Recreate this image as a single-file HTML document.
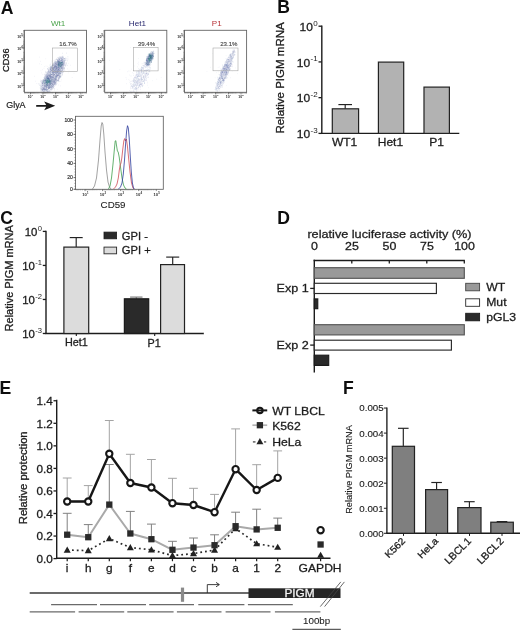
<!DOCTYPE html>
<html><head><meta charset="utf-8"><title>Figure</title>
<style>html,body{margin:0;padding:0;background:#fff;}body{width:520px;height:635px;overflow:hidden;font-family:"Liberation Sans",sans-serif;}svg text{font-family:"Liberation Sans",sans-serif;}</style>
</head><body>
<svg width="520" height="635" viewBox="0 0 520 635" font-family="Liberation Sans, sans-serif" style="display:block">
<defs><filter id="soft" x="0" y="0" width="520" height="635" filterUnits="userSpaceOnUse"><feGaussianBlur stdDeviation="0.38"/></filter></defs>
<g filter="url(#soft)">
<text x="0.7" y="14.1" font-size="17.6" text-anchor="start" fill="#0c0c0c" font-weight="bold" >A</text>
<text x="277.2" y="13.0" font-size="17.6" text-anchor="start" fill="#0c0c0c" font-weight="bold" >B</text>
<text x="0.2" y="223.5" font-size="17.6" text-anchor="start" fill="#0c0c0c" font-weight="bold" >C</text>
<text x="277.2" y="223.7" font-size="17.6" text-anchor="start" fill="#0c0c0c" font-weight="bold" >D</text>
<text x="-0.4" y="394.1" font-size="17.6" text-anchor="start" fill="#0c0c0c" font-weight="bold" >E</text>
<text x="342.9" y="394.1" font-size="17.6" text-anchor="start" fill="#0c0c0c" font-weight="bold" >F</text>
<clipPath id="c1"><rect x="24.799999999999997" y="30.7" width="61.300000000000004" height="61.2"/></clipPath>
<g clip-path="url(#c1)">
<path d="M55.1 70.5h0.5M59.5 61.2h0.5M59.5 64.4h0.5M41.4 86.5h0.5M58.0 80.3h0.5M61.7 65.0h0.5M49.1 74.7h0.5M51.5 80.2h0.5M55.2 78.9h0.5M45.6 90.2h0.5M58.3 72.3h0.5M43.4 81.3h0.5M52.9 82.8h0.5M54.7 71.1h0.5M47.1 81.0h0.5M50.7 66.5h0.5M56.7 66.8h0.5M60.7 66.9h0.5M49.5 68.6h0.5M51.9 78.2h0.5M45.9 88.5h0.5M41.4 88.9h0.5M47.8 80.1h0.5M53.2 68.6h0.5M63.2 72.2h0.5M49.6 78.7h0.5M46.6 76.9h0.5M51.6 85.4h0.5M61.7 67.9h0.5M55.7 65.9h0.5M57.9 68.8h0.5M45.7 81.8h0.5M46.9 82.0h0.5M44.8 82.1h0.5M57.7 63.3h0.5M61.0 58.8h0.5M59.7 75.9h0.5M48.8 76.1h0.5M50.6 69.4h0.5M47.3 85.2h0.5M47.3 76.9h0.5M59.9 64.6h0.5M47.2 89.5h0.5M49.1 86.3h0.5M49.5 72.5h0.5M55.8 81.2h0.5M56.6 64.5h0.5M44.3 77.0h0.5M49.7 74.8h0.5M57.8 62.8h0.5M46.7 85.5h0.5M46.2 86.7h0.5M59.1 65.4h0.5M62.4 65.0h0.5M50.6 70.3h0.5M52.4 76.0h0.5M51.1 74.8h0.5M46.6 91.6h0.5M60.1 71.1h0.5M64.8 64.2h0.5M59.6 58.0h0.5M48.3 74.1h0.5M55.5 73.6h0.5M54.6 79.4h0.5M59.9 72.2h0.5M53.4 80.5h0.5M41.8 85.5h0.5M47.1 92.4h0.5M52.7 63.7h0.5M61.1 64.8h0.5M61.9 62.3h0.5M51.8 73.4h0.5M52.8 69.6h0.5M45.3 80.5h0.5M59.7 76.9h0.5M42.8 85.9h0.5M56.3 71.7h0.5M46.5 85.4h0.5M48.7 85.2h0.5M58.8 68.5h0.5M50.4 74.1h0.5M56.6 65.1h0.5M60.0 69.6h0.5M54.8 64.0h0.5M63.6 62.1h0.5M46.5 75.3h0.5M52.8 65.8h0.5M44.3 89.5h0.5M51.3 67.8h0.5M58.1 62.0h0.5M43.8 87.7h0.5M40.1 88.8h0.5M53.9 72.6h0.5M56.4 82.2h0.5M49.5 75.5h0.5M47.4 76.1h0.5M43.5 80.8h0.5M42.3 81.7h0.5M55.0 76.7h0.5M56.4 62.2h0.5M50.6 77.5h0.5M53.1 81.2h0.5M60.1 73.5h0.5M48.3 75.0h0.5M61.5 62.0h0.5M42.7 90.6h0.5M58.9 74.6h0.5M57.9 60.2h0.5M52.2 75.6h0.5M46.9 89.6h0.5M44.7 83.4h0.5M50.6 79.8h0.5M61.1 65.4h0.5M48.2 88.6h0.5M42.4 85.1h0.5M43.8 90.6h0.5M55.7 68.8h0.5M51.6 82.7h0.5M43.0 90.0h0.5M51.8 80.9h0.5M54.6 67.8h0.5M56.5 64.3h0.5M47.5 86.2h0.5M60.3 73.0h0.5M46.5 90.7h0.5M52.3 73.7h0.5M50.7 87.7h0.5M57.2 62.4h0.5M51.0 68.7h0.5M57.6 71.7h0.5M48.9 81.4h0.5M54.9 63.6h0.5M59.0 59.6h0.5M58.6 70.2h0.5M61.6 66.8h0.5M45.3 89.1h0.5M42.4 92.0h0.5M55.4 77.5h0.5M57.2 60.2h0.5M59.5 76.1h0.5M46.9 76.9h0.5M50.3 73.8h0.5M55.3 71.9h0.5M58.4 68.0h0.5M39.9 87.9h0.5M55.8 72.7h0.5M53.7 75.2h0.5M53.5 69.2h0.5M50.9 79.7h0.5M51.5 81.2h0.5M53.8 72.8h0.5M48.8 85.4h0.5M62.0 74.5h0.5M47.1 90.2h0.5M49.7 81.4h0.5M52.2 71.2h0.5M52.3 67.3h0.5M61.7 73.8h0.5M44.8 95.7h0.5M56.6 66.3h0.5M53.6 75.5h0.5M58.7 74.2h0.5M47.2 92.6h0.5M57.1 63.1h0.5M53.9 84.3h0.5M42.0 90.6h0.5M58.9 76.0h0.5M62.5 68.7h0.5M52.9 77.0h0.5M48.5 85.1h0.5M50.2 74.1h0.5M50.3 82.5h0.5M50.1 69.1h0.5M53.9 72.5h0.5M61.4 66.4h0.5M50.4 76.1h0.5M55.8 78.4h0.5M51.0 85.6h0.5M57.2 70.8h0.5M46.2 82.3h0.5M53.8 66.2h0.5M53.3 81.4h0.5M46.8 76.8h0.5M52.2 72.0h0.5M50.7 81.4h0.5M54.9 80.1h0.5M59.3 70.3h0.5M55.6 67.9h0.5M54.5 88.8h0.5M43.5 80.4h0.5M49.7 81.6h0.5M53.2 67.4h0.5M53.1 80.9h0.5M53.2 67.8h0.5M55.9 66.0h0.5M53.1 65.8h0.5M53.3 82.1h0.5M54.4 80.9h0.5M48.0 88.6h0.5M50.1 70.6h0.5M42.1 82.8h0.5M54.1 76.5h0.5M44.7 92.4h0.5M58.9 77.5h0.5M51.4 68.5h0.5M54.1 67.3h0.5M52.4 84.8h0.5M59.2 61.2h0.5M45.7 87.3h0.5M51.4 80.9h0.5M64.7 58.5h0.5M53.1 87.8h0.5M53.5 68.3h0.5M47.7 75.5h0.5M54.5 71.1h0.5M62.7 60.9h0.5M50.1 69.5h0.5M43.5 89.2h0.5M58.4 62.1h0.5M50.5 73.9h0.5M46.3 85.9h0.5M46.9 79.5h0.5M59.0 62.5h0.5M56.9 71.0h0.5M60.7 74.2h0.5M49.3 86.4h0.5M54.3 81.6h0.5M49.3 80.2h0.5M42.6 86.0h0.5M43.7 79.7h0.5M60.1 63.6h0.5M53.9 68.5h0.5M60.3 73.2h0.5M56.9 71.1h0.5M51.1 67.1h0.5M59.4 76.0h0.5M55.4 78.8h0.5M53.9 84.2h0.5M59.9 76.4h0.5M48.0 77.4h0.5M61.0 72.0h0.5M54.3 67.2h0.5M41.8 90.6h0.5M48.1 69.7h0.5M54.8 69.4h0.5M56.3 64.7h0.5M45.7 82.4h0.5M44.4 76.9h0.5M58.2 79.7h0.5M52.8 83.8h0.5M43.5 91.8h0.5M52.7 78.0h0.5M46.6 87.3h0.5M49.2 84.1h0.5M51.4 78.4h0.5M49.1 88.0h0.5M57.9 74.7h0.5M45.0 76.6h0.5M58.9 76.2h0.5M59.1 72.5h0.5M60.0 76.7h0.5M48.5 81.7h0.5M55.6 71.4h0.5M45.7 79.9h0.5M54.2 80.9h0.5M54.3 79.7h0.5M44.3 80.7h0.5M50.3 71.8h0.5M63.1 67.4h0.5M42.6 82.5h0.5M60.4 63.4h0.5M55.3 71.1h0.5M56.8 75.2h0.5M47.6 91.5h0.5M48.2 86.6h0.5M53.8 79.5h0.5M53.2 69.4h0.5M62.7 57.9h0.5M56.7 73.6h0.5M64.2 65.1h0.5M55.7 76.6h0.5M50.0 92.7h0.5M59.9 63.3h0.5M52.4 78.0h0.5M44.1 86.0h0.5M58.2 73.5h0.5M55.9 79.9h0.5M49.2 85.2h0.5M50.7 80.6h0.5M49.5 79.7h0.5M57.5 71.7h0.5M47.1 83.3h0.5M50.8 76.2h0.5M55.0 71.7h0.5M45.1 88.9h0.5M55.2 70.2h0.5M48.2 86.8h0.5M54.0 71.0h0.5M50.2 75.3h0.5M50.7 90.3h0.5M61.5 64.2h0.5M54.5 80.4h0.5M53.7 74.7h0.5M49.1 91.5h0.5M51.5 74.7h0.5M45.7 85.5h0.5M45.5 85.6h0.5M49.6 67.2h0.5M51.2 66.4h0.5M49.6 72.3h0.5M47.7 73.9h0.5M50.0 88.7h0.5M55.8 84.4h0.5M44.8 88.2h0.5M59.6 72.8h0.5M56.1 71.5h0.5M57.6 73.6h0.5M45.0 79.3h0.5M56.1 66.2h0.5M43.0 81.6h0.5M49.5 75.5h0.5M62.9 63.7h0.5M52.1 83.8h0.5M43.6 83.2h0.5M47.6 85.6h0.5M54.1 82.3h0.5M55.2 69.3h0.5M55.4 76.4h0.5M43.5 79.9h0.5M47.8 85.6h0.5M61.0 58.7h0.5M59.7 63.7h0.5M51.0 76.5h0.5M53.2 68.9h0.5M51.9 74.3h0.5M61.6 62.6h0.5M52.9 76.6h0.5M44.3 91.6h0.5M49.8 84.4h0.5M57.7 75.7h0.5M65.2 58.2h0.5M44.0 85.2h0.5M59.8 60.0h0.5M43.0 91.1h0.5M54.0 77.9h0.5M61.8 70.5h0.5M60.2 58.2h0.5M54.7 68.0h0.5M62.3 64.9h0.5M52.2 68.6h0.5M46.5 77.0h0.5M53.1 77.3h0.5M44.5 87.7h0.5M51.8 88.0h0.5M51.5 85.4h0.5M50.0 79.5h0.5M51.6 69.2h0.5M53.5 80.3h0.5M66.2 63.6h0.5M56.0 64.0h0.5M53.6 78.7h0.5M60.2 75.0h0.5M53.1 64.9h0.5M45.8 90.7h0.5M53.0 64.4h0.5M56.8 68.2h0.5M57.4 73.0h0.5M49.5 75.5h0.5M49.9 87.4h0.5M49.6 87.3h0.5M51.7 82.9h0.5M44.7 88.7h0.5M49.3 74.3h0.5M53.5 75.2h0.5M49.0 88.5h0.5M57.2 74.9h0.5M60.4 70.0h0.5M64.9 60.6h0.5M55.5 67.8h0.5M51.8 87.3h0.5M43.7 92.0h0.5M57.6 74.9h0.5M47.3 87.1h0.5M66.0 53.2h0.5M46.1 84.5h0.5M57.0 80.7h0.5M48.6 89.3h0.5M57.8 71.1h0.5M45.9 75.2h0.5M61.8 62.9h0.5M61.5 64.0h0.5M55.0 63.2h0.5M45.1 80.7h0.5M47.2 91.7h0.5M47.0 78.2h0.5M43.3 92.5h0.5M54.6 82.4h0.5M58.2 71.1h0.5M50.1 85.1h0.5M48.2 68.1h0.5M61.5 67.6h0.5M60.8 65.4h0.5M53.5 67.5h0.5M47.7 80.5h0.5M64.4 68.1h0.5M53.9 78.0h0.5M55.0 61.7h0.5M51.6 87.6h0.5M52.7 71.2h0.5M45.7 83.4h0.5M61.5 68.1h0.5M58.2 80.5h0.5M48.3 92.2h0.5M60.2 73.0h0.5M55.6 65.8h0.5M53.1 69.4h0.5M50.5 69.3h0.5M58.5 61.7h0.5M51.3 86.0h0.5M56.9 70.9h0.5M55.3 64.0h0.5M51.7 61.1h0.5M55.2 83.8h0.5M58.0 78.3h0.5M54.2 63.0h0.5M53.7 88.6h0.5M55.1 74.0h0.5M56.0 79.3h0.5M48.0 75.4h0.5M46.7 79.1h0.5M58.7 73.6h0.5M64.2 68.2h0.5M48.2 87.5h0.5M49.7 84.2h0.5M60.6 64.7h0.5M63.2 64.5h0.5M52.1 64.7h0.5M49.7 82.2h0.5M58.4 66.0h0.5M50.1 71.7h0.5M48.8 80.3h0.5M45.2 78.1h0.5M50.1 73.9h0.5M62.2 68.5h0.5M44.3 93.0h0.5M60.5 77.5h0.5M50.1 81.0h0.5M56.2 73.8h0.5M55.3 65.9h0.5M52.5 65.7h0.5M45.8 83.1h0.5M47.3 82.6h0.5M58.4 63.2h0.5M48.4 77.7h0.5M46.6 93.5h0.5M54.2 84.2h0.5M47.0 80.2h0.5M45.7 78.5h0.5M52.1 68.1h0.5M59.1 62.2h0.5M47.5 77.8h0.5M54.7 66.9h0.5M46.6 90.7h0.5M48.3 71.8h0.5M62.3 65.4h0.5M52.3 72.3h0.5M63.0 65.8h0.5M59.6 71.0h0.5M49.7 79.3h0.5M46.7 86.6h0.5M49.1 78.6h0.5M58.6 71.1h0.5M48.8 70.2h0.5M49.3 86.9h0.5M49.9 71.5h0.5M54.9 70.8h0.5M57.2 72.4h0.5M53.8 75.5h0.5M53.4 71.9h0.5M53.9 78.0h0.5M52.8 84.0h0.5M50.1 87.0h0.5M58.1 69.4h0.5M54.4 80.2h0.5M62.8 71.2h0.5M51.8 66.5h0.5M44.3 83.4h0.5M61.7 65.1h0.5M54.0 68.3h0.5M41.8 84.4h0.5M55.7 84.5h0.5M44.8 89.7h0.5M57.9 61.7h0.5M56.8 69.9h0.5M56.6 77.0h0.5M64.0 62.5h0.5M54.5 71.1h0.5M54.2 81.9h0.5M53.6 63.9h0.5M51.3 84.1h0.5M49.7 65.1h0.5M49.1 87.2h0.5M48.2 87.7h0.5M45.0 91.8h0.5M51.2 77.7h0.5M44.3 92.1h0.5M55.1 77.5h0.5M61.6 65.8h0.5M61.3 64.8h0.5M46.4 79.8h0.5M53.7 72.2h0.5M55.1 65.4h0.5M45.2 83.6h0.5M62.5 57.7h0.5M40.2 91.1h0.5M42.5 84.9h0.5M57.0 64.5h0.5M40.2 85.8h0.5M58.9 74.0h0.5M48.7 78.7h0.5M54.2 82.7h0.5M50.3 71.8h0.5M51.6 77.3h0.5M58.4 61.6h0.5M44.6 74.7h0.5M44.6 81.9h0.5M63.1 68.2h0.5M61.3 59.9h0.5M61.9 72.1h0.5M50.8 69.8h0.5M54.2 64.2h0.5M56.5 75.9h0.5M59.0 68.3h0.5M60.5 66.4h0.5M56.5 74.5h0.5M54.4 74.8h0.5M58.2 71.9h0.5M57.8 62.1h0.5M59.2 67.6h0.5M54.3 82.7h0.5M60.1 71.7h0.5M50.0 68.4h0.5M63.1 63.3h0.5M49.9 80.2h0.5M48.6 80.6h0.5M53.8 84.4h0.5M55.1 83.8h0.5M52.3 72.0h0.5M42.4 83.8h0.5M53.3 74.0h0.5M56.7 68.8h0.5M57.0 69.8h0.5M59.6 66.6h0.5M54.1 67.9h0.5M43.1 80.7h0.5M54.2 84.2h0.5M49.8 81.1h0.5M53.2 81.7h0.5M53.4 75.6h0.5M51.3 76.5h0.5M49.8 85.8h0.5M46.8 74.7h0.5M49.0 85.6h0.5M52.8 69.0h0.5M55.3 70.2h0.5M54.2 65.5h0.5M49.9 83.5h0.5M56.0 68.0h0.5M43.7 89.9h0.5M46.5 81.0h0.5M58.7 67.9h0.5M54.8 68.8h0.5M43.8 77.7h0.5M51.0 71.8h0.5M64.3 62.7h0.5M59.6 70.4h0.5M57.6 69.8h0.5M45.1 74.5h0.5M53.9 65.3h0.5M43.9 82.4h0.5M49.1 76.6h0.5M52.5 65.2h0.5M57.4 63.4h0.5M50.5 83.4h0.5M47.1 86.3h0.5M61.2 67.7h0.5M48.8 84.7h0.5M51.4 89.8h0.5M62.2 67.6h0.5M63.5 67.1h0.5M58.1 74.6h0.5M45.9 90.1h0.5M47.7 77.7h0.5M55.2 79.0h0.5M51.7 67.6h0.5M39.1 85.4h0.5M48.1 78.7h0.5M52.0 74.3h0.5M52.9 77.9h0.5M58.5 64.3h0.5M64.8 60.6h0.5M57.3 67.9h0.5M45.5 80.7h0.5M55.3 65.1h0.5M51.1 89.3h0.5M47.3 80.5h0.5M53.1 74.1h0.5M47.7 87.7h0.5M46.2 84.9h0.5M55.5 67.3h0.5M55.3 64.2h0.5M51.1 88.4h0.5M56.1 73.0h0.5M46.5 90.0h0.5M47.8 93.0h0.5M52.1 65.4h0.5M52.9 75.6h0.5M43.3 89.6h0.5M51.8 74.5h0.5M61.4 60.5h0.5M44.7 88.5h0.5M48.8 88.6h0.5M45.7 92.4h0.5M49.7 79.9h0.5M52.4 67.6h0.5M55.7 75.6h0.5M61.1 59.4h0.5M53.1 73.0h0.5M58.9 73.4h0.5M63.6 60.9h0.5M56.9 69.3h0.5M56.8 61.5h0.5M59.6 63.9h0.5M59.3 76.6h0.5M42.4 80.2h0.5M57.7 65.0h0.5M57.2 71.1h0.5M47.7 84.7h0.5M46.8 77.6h0.5M50.5 75.7h0.5M51.0 86.2h0.5M49.6 80.6h0.5M53.3 72.6h0.5M61.7 60.1h0.5M44.8 89.8h0.5M49.5 74.2h0.5M47.3 78.3h0.5M41.7 90.7h0.5M45.4 89.6h0.5M52.0 68.5h0.5M45.5 79.6h0.5M49.9 68.3h0.5M52.5 75.9h0.5M65.3 59.3h0.5M48.7 88.0h0.5M51.0 81.6h0.5M61.8 62.5h0.5M50.2 76.4h0.5M50.4 70.0h0.5M43.6 88.4h0.5M48.8 75.8h0.5M53.2 87.4h0.5M46.4 75.9h0.5M48.3 82.6h0.5M58.1 68.3h0.5M50.5 75.7h0.5M42.6 89.3h0.5M48.7 82.9h0.5M54.1 83.2h0.5M57.9 62.0h0.5M56.7 83.3h0.5M49.2 80.9h0.5M58.5 69.6h0.5M59.5 70.6h0.5M58.1 75.1h0.5M54.1 68.7h0.5M55.2 79.2h0.5M57.1 59.8h0.5M47.4 85.5h0.5M47.2 85.9h0.5M56.5 76.1h0.5M51.9 82.2h0.5M57.4 80.3h0.5M46.6 77.1h0.5M51.8 86.6h0.5M60.2 58.3h0.5M59.0 66.8h0.5M57.7 67.4h0.5M43.6 90.2h0.5M49.4 71.6h0.5M54.1 74.5h0.5M43.7 86.2h0.5M54.4 66.7h0.5M46.8 76.2h0.5M57.4 63.8h0.5M45.5 94.4h0.5M46.6 92.9h0.5M64.9 65.6h0.5M57.8 75.8h0.5M54.3 67.5h0.5M50.1 77.6h0.5M48.2 69.9h0.5M56.4 74.5h0.5M55.4 83.3h0.5M59.7 66.8h0.5M44.4 90.3h0.5M58.9 72.3h0.5M51.6 80.9h0.5M44.7 84.2h0.5M53.7 72.9h0.5M55.0 65.9h0.5M43.0 82.8h0.5M55.6 71.5h0.5M47.3 68.7h0.5M43.1 92.2h0.5M51.6 83.6h0.5M58.3 58.8h0.5M52.2 80.9h0.5M51.8 69.5h0.5M50.6 67.4h0.5M51.1 82.6h0.5M41.9 88.3h0.5M50.4 76.3h0.5M53.2 85.0h0.5M50.1 89.1h0.5M49.3 75.6h0.5M47.0 77.9h0.5M47.5 74.1h0.5M50.2 87.3h0.5M55.9 76.6h0.5M49.3 86.4h0.5M62.2 57.2h0.5M47.8 81.9h0.5M43.8 78.7h0.5M54.1 78.3h0.5M50.9 70.1h0.5M57.3 61.1h0.5M55.3 61.6h0.5M51.4 86.9h0.5M58.8 75.6h0.5M42.4 86.2h0.5M42.7 87.4h0.5M62.8 70.6h0.5M57.8 67.5h0.5M57.9 58.4h0.5M51.7 66.4h0.5M50.1 82.8h0.5M57.2 70.5h0.5M43.9 88.7h0.5M46.6 91.0h0.5M50.7 76.9h0.5M56.2 80.7h0.5M52.6 78.3h0.5M46.6 79.9h0.5M46.8 74.3h0.5M57.6 75.8h0.5M51.4 80.9h0.5M51.9 74.5h0.5M43.2 84.4h0.5M62.3 69.2h0.5M52.7 85.4h0.5M46.7 77.9h0.5M61.0 64.3h0.5M57.9 62.0h0.5M47.4 72.2h0.5M53.2 84.1h0.5M67.7 59.0h0.5M52.5 70.1h0.5M58.5 69.5h0.5M46.5 82.1h0.5M50.4 68.5h0.5M65.9 58.4h0.5M53.3 65.9h0.5M62.4 60.0h0.5M55.9 69.3h0.5M46.3 86.7h0.5M44.7 83.7h0.5M53.9 66.7h0.5M56.7 68.4h0.5M61.7 70.7h0.5M61.0 65.6h0.5M55.2 64.5h0.5M58.4 79.4h0.5M46.0 87.4h0.5M50.0 66.8h0.5M51.7 68.6h0.5M41.1 91.9h0.5M58.6 65.3h0.5M60.1 58.2h0.5M56.6 75.8h0.5M54.1 70.7h0.5M39.4 93.7h0.5M59.1 72.9h0.5M51.9 78.8h0.5M52.1 87.8h0.5M54.7 61.3h0.5M56.7 59.6h0.5M59.7 78.1h0.5M50.5 91.5h0.5M59.5 65.5h0.5M57.3 68.8h0.5M53.3 77.6h0.5M59.5 69.6h0.5M54.2 66.9h0.5M60.0 62.4h0.5M52.8 76.0h0.5M63.7 61.4h0.5M60.0 76.1h0.5M45.4 78.8h0.5M52.6 80.6h0.5M50.1 77.5h0.5M51.6 88.9h0.5M51.5 87.9h0.5M56.4 77.3h0.5M53.6 67.4h0.5M52.9 77.6h0.5M65.3 60.1h0.5M43.4 79.8h0.5M42.3 81.7h0.5M56.0 83.7h0.5M55.0 65.1h0.5M64.3 59.4h0.5M56.9 67.5h0.5M43.8 89.0h0.5M59.2 67.6h0.5M52.9 84.0h0.5M41.9 80.7h0.5M56.2 64.0h0.5M42.0 89.6h0.5M53.8 64.8h0.5M46.4 81.2h0.5M54.7 77.9h0.5M53.3 74.7h0.5M42.0 87.2h0.5M43.9 91.8h0.5M50.2 81.1h0.5M60.9 65.5h0.5M40.8 87.1h0.5M55.8 66.6h0.5M40.1 81.8h0.5M65.2 62.9h0.5M45.2 89.5h0.5M50.6 68.9h0.5M53.2 71.9h0.5M54.8 82.9h0.5M44.4 92.3h0.5M48.0 78.7h0.5M54.2 76.6h0.5M54.8 72.9h0.5M52.9 70.5h0.5M54.4 78.7h0.5M44.7 92.3h0.5M44.7 84.7h0.5M60.8 62.5h0.5M58.1 65.3h0.5M56.9 74.6h0.5M47.3 73.4h0.5M54.4 62.4h0.5M56.9 72.1h0.5M46.2 78.8h0.5M48.4 88.0h0.5M55.8 83.2h0.5M51.4 84.1h0.5M45.0 82.8h0.5M46.9 72.4h0.5M55.5 68.9h0.5M54.6 81.5h0.5M41.1 86.5h0.5M48.9 81.7h0.5M61.3 71.9h0.5M51.8 80.9h0.5M61.8 66.9h0.5M41.6 92.3h0.5M60.0 70.7h0.5M54.4 79.1h0.5M47.0 81.0h0.5M61.6 65.5h0.5M63.9 60.5h0.5M49.4 73.4h0.5M55.3 62.9h0.5M49.7 87.9h0.5M48.8 81.5h0.5M57.4 80.2h0.5M47.0 78.6h0.5M59.9 68.4h0.5M57.5 80.1h0.5M54.1 79.9h0.5M54.7 77.6h0.5M55.1 67.9h0.5M57.5 61.1h0.5M49.3 79.8h0.5M60.7 66.3h0.5M53.9 81.0h0.5M55.1 66.1h0.5M48.8 80.7h0.5M58.0 61.8h0.5M53.8 84.8h0.5M47.7 79.3h0.5M58.5 73.0h0.5M55.2 63.8h0.5M60.1 60.6h0.5M50.7 77.2h0.5M42.5 89.1h0.5M59.0 58.7h0.5M59.0 77.5h0.5M54.5 67.0h0.5M62.2 64.4h0.5M50.0 89.4h0.5M48.0 76.9h0.5M50.2 72.2h0.5M50.8 85.7h0.5M50.2 68.4h0.5M42.2 85.5h0.5M42.9 93.6h0.5M53.4 80.1h0.5M45.2 82.2h0.5M61.1 60.6h0.5M48.3 73.1h0.5M57.9 69.7h0.5M64.3 68.2h0.5M58.0 64.4h0.5M54.8 78.9h0.5M59.4 62.0h0.5M57.3 75.5h0.5M55.8 75.6h0.5M59.9 61.3h0.5M43.8 80.1h0.5M55.7 65.1h0.5M56.6 66.7h0.5M60.1 66.5h0.5M58.4 74.2h0.5M58.5 71.3h0.5M54.0 78.9h0.5M60.6 72.4h0.5M55.3 77.5h0.5M52.8 77.9h0.5M62.5 69.0h0.5M52.7 87.0h0.5M51.0 71.3h0.5M49.1 76.6h0.5M62.3 64.5h0.5M56.4 81.3h0.5M51.3 83.4h0.5M58.2 62.1h0.5M48.5 84.1h0.5M47.5 84.0h0.5M57.8 75.5h0.5M62.0 62.7h0.5M46.2 89.7h0.5M48.8 86.9h0.5M53.6 69.3h0.5M46.7 76.2h0.5M43.7 93.6h0.5M62.4 61.5h0.5M54.3 67.0h0.5M58.8 76.0h0.5M50.2 81.2h0.5M45.4 86.5h0.5M39.9 93.0h0.5M47.1 81.2h0.5M54.8 62.6h0.5M59.0 75.9h0.5M58.7 63.6h0.5M48.4 86.8h0.5M53.3 71.2h0.5M47.8 76.0h0.5M43.8 80.2h0.5M57.8 74.1h0.5M54.3 66.0h0.5M59.0 69.1h0.5M54.1 83.7h0.5M66.2 62.7h0.5M55.1 80.1h0.5M53.1 70.6h0.5M53.3 70.1h0.5M52.6 72.7h0.5M55.4 74.1h0.5M44.3 88.9h0.5M44.7 80.9h0.5M58.1 62.9h0.5M49.0 84.3h0.5M47.0 81.5h0.5M51.5 87.5h0.5M52.7 64.8h0.5M53.9 70.6h0.5M62.2 53.3h0.5M56.9 65.0h0.5M53.6 74.7h0.5M46.8 74.2h0.5M48.6 85.0h0.5M56.8 63.8h0.5M47.8 90.0h0.5M63.8 64.2h0.5M50.4 78.8h0.5M63.4 63.5h0.5M53.2 76.4h0.5M61.9 58.6h0.5M59.6 63.1h0.5M47.7 76.4h0.5M51.8 77.5h0.5M56.0 70.2h0.5M53.1 83.6h0.5M55.3 80.5h0.5M44.2 86.8h0.5M46.4 84.8h0.5M46.4 77.3h0.5M50.6 76.3h0.5M44.3 83.7h0.5M39.7 84.5h0.5M58.1 70.8h0.5M64.3 60.5h0.5M53.5 79.6h0.5M41.6 83.1h0.5M60.4 64.7h0.5M49.6 77.3h0.5M48.0 72.3h0.5M52.4 65.3h0.5M48.7 80.3h0.5M49.7 80.8h0.5M51.4 83.8h0.5M51.6 69.0h0.5M53.8 64.7h0.5M43.7 88.6h0.5M51.0 70.5h0.5M51.7 78.0h0.5M51.0 68.0h0.5M50.7 68.2h0.5M55.4 66.4h0.5M44.3 85.8h0.5M58.8 60.3h0.5M55.0 69.1h0.5M53.9 81.2h0.5M63.1 71.7h0.5M49.4 76.0h0.5M51.2 81.1h0.5M53.8 70.5h0.5M61.6 61.1h0.5M56.3 74.1h0.5M56.6 72.8h0.5M62.1 64.2h0.5M64.0 58.6h0.5M63.0 58.2h0.5M59.7 67.9h0.5M61.7 62.3h0.5M50.8 81.6h0.5M46.3 86.7h0.5M54.4 80.2h0.5M44.8 89.6h0.5M58.4 69.6h0.5M56.8 67.8h0.5M58.0 80.9h0.5M50.3 72.8h0.5M54.8 82.0h0.5M60.6 60.7h0.5M57.4 75.4h0.5M58.8 66.7h0.5M53.2 85.5h0.5M54.8 73.0h0.5M54.5 72.7h0.5M61.2 60.0h0.5M56.4 77.8h0.5M56.2 71.1h0.5M51.9 70.1h0.5M59.1 58.9h0.5M60.7 57.0h0.5M54.5 65.4h0.5M46.9 85.3h0.5M61.1 71.8h0.5M49.3 84.0h0.5M62.4 70.0h0.5M50.3 75.3h0.5M42.0 82.8h0.5M46.4 89.8h0.5M50.1 69.6h0.5M47.0 78.4h0.5M58.8 72.4h0.5M50.1 86.2h0.5M46.0 77.5h0.5M45.2 90.9h0.5M52.2 72.6h0.5M57.8 65.3h0.5M61.5 58.7h0.5M46.6 86.2h0.5M47.7 91.5h0.5M43.3 87.6h0.5M47.2 78.7h0.5M59.4 63.0h0.5M45.0 81.3h0.5M50.4 69.8h0.5M59.5 62.2h0.5M40.6 85.9h0.5M52.7 70.6h0.5M45.1 93.4h0.5M46.3 89.2h0.5M50.4 87.6h0.5M57.5 72.6h0.5M59.5 78.1h0.5M61.3 57.6h0.5M55.5 82.3h0.5M56.5 77.0h0.5M45.7 75.5h0.5M51.1 77.2h0.5M51.8 79.0h0.5M52.5 84.6h0.5M60.5 71.5h0.5M53.8 74.4h0.5M56.9 70.2h0.5M53.7 77.7h0.5M47.6 84.1h0.5M48.6 83.2h0.5M49.1 76.7h0.5M54.0 69.9h0.5M45.6 86.3h0.5M53.5 79.0h0.5M60.9 57.6h0.5M58.6 72.9h0.5M49.0 78.6h0.5M58.7 74.0h0.5M43.9 86.1h0.5M59.0 63.9h0.5M53.7 74.9h0.5M54.7 66.4h0.5M62.1 69.3h0.5M48.1 71.0h0.5M50.3 86.6h0.5M44.5 89.4h0.5M50.4 84.6h0.5M55.7 67.3h0.5M49.9 80.5h0.5M43.1 85.7h0.5M43.3 89.2h0.5M49.1 84.6h0.5M55.2 76.2h0.5M53.2 82.6h0.5M52.2 65.3h0.5M48.6 83.3h0.5M50.9 79.6h0.5M46.7 78.2h0.5M56.0 67.5h0.5M59.1 77.4h0.5M53.6 65.8h0.5M52.8 68.7h0.5M58.5 77.8h0.5M63.3 69.8h0.5M55.2 70.3h0.5M55.6 79.6h0.5M59.2 67.4h0.5M55.8 73.4h0.5M53.9 81.3h0.5M62.5 61.8h0.5M51.5 82.9h0.5M41.1 89.8h0.5M49.8 70.4h0.5M53.5 69.5h0.5M55.1 61.3h0.5M58.8 60.1h0.5M48.4 88.5h0.5M49.2 67.9h0.5M46.1 81.2h0.5M59.4 66.1h0.5M59.7 73.6h0.5M54.0 75.5h0.5M58.0 75.6h0.5M55.6 75.6h0.5M53.2 79.7h0.5M60.8 73.8h0.5M53.7 76.0h0.5M55.7 76.1h0.5M42.0 83.3h0.5M55.5 82.2h0.5M58.5 70.6h0.5M57.7 60.1h0.5M50.5 83.7h0.5M56.3 68.8h0.5M47.0 78.8h0.5M55.4 75.3h0.5M61.7 68.1h0.5M54.2 62.8h0.5M55.5 81.9h0.5M63.7 61.3h0.5M49.9 77.2h0.5M59.4 65.2h0.5M64.4 61.9h0.5M48.1 72.0h0.5M55.0 80.0h0.5M48.3 72.1h0.5M46.1 83.0h0.5M60.8 65.6h0.5M54.0 72.4h0.5M53.4 85.5h0.5M48.9 75.9h0.5M41.5 84.1h0.5M52.5 76.7h0.5M55.2 62.4h0.5M62.2 63.8h0.5M53.3 77.2h0.5M57.6 62.1h0.5M61.8 73.5h0.5M46.9 91.5h0.5M53.3 67.2h0.5M58.7 79.9h0.5M54.9 82.5h0.5M57.6 76.1h0.5M46.2 74.2h0.5M45.9 86.5h0.5M49.9 83.6h0.5M56.6 59.2h0.5M48.0 78.2h0.5M59.0 70.3h0.5M59.4 62.0h0.5M43.8 80.4h0.5M52.5 71.0h0.5M50.4 78.6h0.5M59.0 63.5h0.5M50.8 87.6h0.5M45.1 93.2h0.5M46.9 84.1h0.5M54.1 85.7h0.5M44.0 89.4h0.5M58.0 61.3h0.5M48.9 73.2h0.5M59.8 74.1h0.5M49.9 71.1h0.5M60.2 67.2h0.5M57.8 73.0h0.5M48.5 91.2h0.5M42.4 83.7h0.5M63.6 68.3h0.5M48.8 80.1h0.5M47.2 82.1h0.5M59.6 58.8h0.5M53.1 85.3h0.5M55.3 69.8h0.5M55.8 81.2h0.5M53.8 63.6h0.5M44.1 80.7h0.5M44.7 81.8h0.5M51.1 80.7h0.5M58.6 69.9h0.5M51.3 78.9h0.5M49.7 82.2h0.5M50.4 78.1h0.5M64.1 61.1h0.5M42.5 94.8h0.5M55.0 66.2h0.5M54.3 64.2h0.5M50.4 81.2h0.5M48.1 82.9h0.5M55.6 63.4h0.5M59.7 63.5h0.5M55.2 76.8h0.5M43.1 88.3h0.5M44.4 85.8h0.5M45.4 85.5h0.5M56.4 79.3h0.5M48.5 70.7h0.5M49.2 79.5h0.5M47.3 83.1h0.5M63.5 66.0h0.5M49.8 69.8h0.5M50.5 87.3h0.5M50.1 77.7h0.5M49.2 84.9h0.5M63.0 59.2h0.5M54.2 64.9h0.5M43.3 88.7h0.5M55.5 73.4h0.5M51.0 79.6h0.5M57.0 74.6h0.5M57.9 58.4h0.5M49.1 83.0h0.5M56.6 74.5h0.5M52.7 70.3h0.5M43.7 80.8h0.5M58.6 78.0h0.5M42.0 85.4h0.5M55.4 74.8h0.5M52.0 74.4h0.5M46.6 92.1h0.5M52.1 72.2h0.5M62.1 65.5h0.5M55.0 82.2h0.5M49.4 82.9h0.5M54.9 67.0h0.5M64.5 63.6h0.5M54.3 72.9h0.5M64.1 58.5h0.5M54.7 75.0h0.5M48.9 81.7h0.5M44.7 86.7h0.5M49.7 81.2h0.5M63.9 67.4h0.5M46.8 77.3h0.5M51.1 74.4h0.5M48.4 77.8h0.5M57.3 61.1h0.5M49.1 91.4h0.5M51.1 83.1h0.5M55.7 79.4h0.5M51.6 70.0h0.5M64.1 65.3h0.5M57.8 62.2h0.5M56.8 66.2h0.5M44.6 88.0h0.5M47.2 89.5h0.5M46.7 90.8h0.5M52.0 68.8h0.5M60.5 59.3h0.5M56.6 74.5h0.5M50.2 67.6h0.5M52.7 63.4h0.5M49.2 87.6h0.5M47.6 90.8h0.5M55.3 71.6h0.5M57.5 81.1h0.5M42.1 90.7h0.5M46.1 84.6h0.5M46.9 75.8h0.5M51.8 71.9h0.5M51.6 85.1h0.5M54.4 78.8h0.5M59.6 74.8h0.5M50.1 82.2h0.5M61.8 70.6h0.5M47.5 79.3h0.5M63.0 65.0h0.5M51.2 76.5h0.5M57.0 71.1h0.5M51.9 71.9h0.5M53.0 68.3h0.5M40.9 87.2h0.5M53.5 74.2h0.5M51.8 86.2h0.5M51.5 78.9h0.5M57.6 75.2h0.5M47.2 82.3h0.5M49.8 83.3h0.5M58.5 64.7h0.5M45.6 83.7h0.5M57.0 68.6h0.5M60.4 72.8h0.5M47.9 77.5h0.5M53.6 63.9h0.5M48.2 80.2h0.5M61.1 58.4h0.5M53.3 70.2h0.5M47.7 71.8h0.5M50.6 76.5h0.5M52.6 76.9h0.5M56.2 70.6h0.5M43.7 87.8h0.5M47.8 77.4h0.5M54.1 68.1h0.5M44.1 84.7h0.5M51.5 78.9h0.5M61.0 66.8h0.5M47.9 87.9h0.5M56.0 69.1h0.5M41.2 89.3h0.5M49.0 72.5h0.5M56.8 65.7h0.5M58.7 77.8h0.5M57.9 80.5h0.5M49.7 73.5h0.5M56.8 69.7h0.5M53.6 87.0h0.5M51.2 70.0h0.5M51.7 65.9h0.5M58.6 73.2h0.5M62.9 58.2h0.5M57.5 65.5h0.5M43.4 91.6h0.5M44.3 90.2h0.5M50.3 77.0h0.5M49.0 70.2h0.5M51.9 86.3h0.5M45.6 86.1h0.5M50.3 71.1h0.5M52.4 77.6h0.5M41.9 89.5h0.5M52.6 83.8h0.5M55.4 69.2h0.5M58.4 67.9h0.5M48.7 74.6h0.5M46.4 85.9h0.5M47.7 79.3h0.5M57.6 75.7h0.5M54.6 71.5h0.5M49.0 82.9h0.5M47.1 76.1h0.5M61.8 65.7h0.5M55.1 81.5h0.5M57.1 61.2h0.5M61.3 62.0h0.5M51.9 84.0h0.5M58.6 74.3h0.5M53.0 85.9h0.5M44.7 82.7h0.5M53.7 68.8h0.5M49.4 80.5h0.5M53.8 72.2h0.5M50.2 76.0h0.5M58.9 60.2h0.5M60.6 71.2h0.5M53.2 73.2h0.5M47.1 72.1h0.5M57.7 63.9h0.5M61.5 63.3h0.5M55.9 72.4h0.5M61.5 61.1h0.5M55.7 70.7h0.5M54.8 76.5h0.5M44.6 85.5h0.5M48.6 89.0h0.5M61.5 68.6h0.5M48.3 71.6h0.5M54.4 74.4h0.5M61.9 58.8h0.5M54.0 81.5h0.5M62.7 62.1h0.5M61.1 71.8h0.5M61.9 62.1h0.5M59.7 76.6h0.5M42.0 81.6h0.5M52.2 80.3h0.5M62.3 60.1h0.5M52.9 86.5h0.5M52.5 86.9h0.5M58.0 81.6h0.5M48.0 73.8h0.5M54.0 74.7h0.5M42.4 89.7h0.5M58.1 67.6h0.5M44.7 92.8h0.5M51.8 74.3h0.5M52.9 81.9h0.5M63.1 65.1h0.5M48.4 81.4h0.5M57.9 65.7h0.5M49.8 75.6h0.5M44.2 93.5h0.5M40.0 89.6h0.5M52.2 85.7h0.5M50.3 85.1h0.5M52.0 65.6h0.5M54.5 67.5h0.5M43.7 88.7h0.5M51.2 74.7h0.5M52.6 65.5h0.5M47.2 81.0h0.5M53.4 74.0h0.5M41.3 88.1h0.5M47.4 83.3h0.5M46.3 74.2h0.5M43.8 83.8h0.5M55.6 65.0h0.5M49.7 69.3h0.5M41.9 91.4h0.5M48.9 76.4h0.5M56.8 59.9h0.5M49.3 85.4h0.5M52.8 78.9h0.5M52.9 65.0h0.5M56.1 72.1h0.5M44.1 89.0h0.5M60.9 64.6h0.5M48.4 76.2h0.5M58.5 59.7h0.5M58.5 63.5h0.5M50.9 86.2h0.5M53.2 71.1h0.5M46.0 80.2h0.5M60.7 76.4h0.5M56.9 70.2h0.5M43.1 85.8h0.5M52.2 86.8h0.5M54.4 67.2h0.5M58.9 59.7h0.5M43.0 87.7h0.5M48.7 79.5h0.5M61.2 68.7h0.5M52.9 86.5h0.5M50.9 66.9h0.5M49.6 81.2h0.5M53.8 81.9h0.5M45.4 86.6h0.5M44.7 89.5h0.5M48.0 85.8h0.5M50.0 81.5h0.5M52.0 76.7h0.5M56.2 67.5h0.5M54.5 66.4h0.5M44.8 86.9h0.5M63.1 61.3h0.5M53.6 71.4h0.5M45.7 81.0h0.5M65.8 64.3h0.5M56.2 58.9h0.5M49.3 81.1h0.5M60.0 77.0h0.5M51.9 72.5h0.5M56.9 80.6h0.5M52.6 70.2h0.5M44.2 83.5h0.5M53.3 85.1h0.5M54.1 82.3h0.5M54.9 78.0h0.5M60.2 70.7h0.5M56.1 76.9h0.5M51.9 85.5h0.5M55.7 80.0h0.5M48.3 88.5h0.5M53.0 81.2h0.5M52.4 68.1h0.5M41.0 92.3h0.5M58.6 72.7h0.5M43.3 88.3h0.5M57.2 78.6h0.5M47.3 74.8h0.5M47.8 86.9h0.5M55.5 69.2h0.5M60.3 67.2h0.5M57.1 73.2h0.5M46.3 75.7h0.5M60.8 76.9h0.5M62.4 62.7h0.5M42.9 89.0h0.5M54.5 70.1h0.5M51.4 78.6h0.5M48.4 82.9h0.5M60.0 63.3h0.5M51.6 72.6h0.5M56.4 69.3h0.5M63.6 60.2h0.5M58.6 73.4h0.5M54.7 74.8h0.5M52.5 67.0h0.5M60.2 61.2h0.5M56.4 66.8h0.5M55.8 75.4h0.5M52.8 83.2h0.5M50.1 76.6h0.5M58.3 78.4h0.5M57.8 59.9h0.5M51.8 79.4h0.5M57.5 77.5h0.5M61.1 71.8h0.5M59.5 61.8h0.5M57.0 72.4h0.5M54.9 71.6h0.5M61.1 67.1h0.5M52.4 73.4h0.5M54.3 83.7h0.5M56.1 66.2h0.5M56.9 64.7h0.5M59.1 58.4h0.5M55.2 78.5h0.5M62.0 64.0h0.5M60.7 60.4h0.5M48.9 79.6h0.5M61.3 75.5h0.5M45.5 89.8h0.5M54.9 69.2h0.5M60.4 67.1h0.5M46.7 81.8h0.5M63.6 58.5h0.5M48.9 91.2h0.5M42.5 81.1h0.5M47.8 91.8h0.5M45.4 72.8h0.5M48.6 87.2h0.5M42.2 89.6h0.5M51.0 83.6h0.5M42.0 95.8h0.5M48.8 87.6h0.5M56.3 77.1h0.5M56.1 73.2h0.5M44.4 78.8h0.5M58.6 73.7h0.5M61.4 62.6h0.5M54.9 71.2h0.5M58.9 72.0h0.5M59.9 68.3h0.5M42.0 87.5h0.5M50.3 83.7h0.5M44.7 74.2h0.5M41.8 89.4h0.5M49.2 80.0h0.5M44.4 80.2h0.5M60.2 71.3h0.5M50.8 73.4h0.5M50.7 82.8h0.5M47.9 75.3h0.5M51.6 77.3h0.5M62.5 65.9h0.5M57.0 76.5h0.5M50.3 84.4h0.5M63.3 57.5h0.5M38.8 95.5h0.5M60.9 66.4h0.5M47.0 84.7h0.5M59.7 62.6h0.5M56.4 64.1h0.5M42.8 82.8h0.5M59.8 66.9h0.5M50.3 82.8h0.5M52.9 77.1h0.5M56.2 74.9h0.5M53.2 71.1h0.5M51.4 87.4h0.5M56.1 78.7h0.5M48.5 71.0h0.5M64.6 70.5h0.5M44.1 78.8h0.5M54.6 82.9h0.5M50.2 78.4h0.5M50.3 83.6h0.5M55.8 62.6h0.5M59.8 75.2h0.5M55.6 65.6h0.5M59.8 67.6h0.5M59.2 66.8h0.5M58.1 66.0h0.5M49.4 88.0h0.5M44.3 88.3h0.5M63.7 66.6h0.5M58.2 62.2h0.5M51.4 78.2h0.5M51.3 72.4h0.5M44.5 81.8h0.5M60.3 73.6h0.5M48.4 79.1h0.5M59.3 78.6h0.5M42.5 82.3h0.5M49.4 80.8h0.5M63.5 62.3h0.5M53.4 84.3h0.5M60.3 70.1h0.5M54.6 83.3h0.5M50.2 67.8h0.5M61.6 60.8h0.5M60.4 75.4h0.5M53.2 69.1h0.5M59.7 70.2h0.5M56.3 82.5h0.5M52.3 82.6h0.5M46.6 78.7h0.5M57.2 67.0h0.5M49.6 81.5h0.5M45.7 84.5h0.5M55.9 68.6h0.5M47.3 76.3h0.5M52.7 84.1h0.5M51.3 70.8h0.5M52.4 84.2h0.5M59.2 70.9h0.5M54.9 78.9h0.5M49.7 90.7h0.5M46.2 87.0h0.5M55.5 83.1h0.5M51.1 72.4h0.5M48.0 91.2h0.5M56.2 67.6h0.5M57.2 63.7h0.5M52.0 68.9h0.5M60.2 62.5h0.5M57.1 77.3h0.5M56.1 72.9h0.5M51.2 88.4h0.5M40.5 88.4h0.5M56.5 76.4h0.5M45.8 72.7h0.5M45.8 82.7h0.5M63.9 69.6h0.5M53.2 75.3h0.5M43.3 89.7h0.5M55.6 61.1h0.5M58.7 69.3h0.5M47.7 69.0h0.5M43.1 89.3h0.5M58.0 63.7h0.5M51.6 74.7h0.5M63.7 63.7h0.5M57.9 66.3h0.5M45.1 85.8h0.5M55.8 67.1h0.5M52.0 77.8h0.5M56.1 71.1h0.5M58.9 61.4h0.5M54.4 76.7h0.5M55.0 79.4h0.5M57.2 62.1h0.5M56.8 66.9h0.5M50.1 72.3h0.5M53.3 65.7h0.5M43.1 81.6h0.5M46.9 84.5h0.5M56.7 75.5h0.5M56.7 79.7h0.5M54.2 70.5h0.5M48.7 74.4h0.5M49.9 86.6h0.5M59.5 70.9h0.5M62.9 68.7h0.5M56.5 81.0h0.5M61.8 66.8h0.5M53.1 82.5h0.5M56.0 71.2h0.5M59.1 61.2h0.5M60.6 57.7h0.5M50.5 84.6h0.5M49.9 85.9h0.5M55.2 80.4h0.5M60.3 68.9h0.5M50.3 64.8h0.5M58.7 77.0h0.5M59.4 59.5h0.5M46.2 89.5h0.5M52.6 76.9h0.5M44.2 89.6h0.5M48.8 70.2h0.5M45.2 84.1h0.5M56.9 75.8h0.5M55.7 66.4h0.5M44.4 86.2h0.5M54.1 74.8h0.5M47.8 73.2h0.5M62.1 61.4h0.5M52.2 82.7h0.5M50.6 82.5h0.5M56.9 68.9h0.5M54.2 81.7h0.5M58.4 57.6h0.5M45.7 82.8h0.5M58.6 77.6h0.5M58.1 69.9h0.5M49.3 75.5h0.5M49.3 87.7h0.5M57.3 72.2h0.5M55.3 69.9h0.5M62.2 70.2h0.5M52.3 68.1h0.5M45.5 80.3h0.5M58.5 67.5h0.5M52.8 82.0h0.5M50.8 67.2h0.5M44.0 83.6h0.5M57.4 71.4h0.5M57.9 75.4h0.5M50.2 80.9h0.5M55.3 72.4h0.5M54.8 81.9h0.5M49.0 79.0h0.5M57.3 69.2h0.5M51.3 74.6h0.5M48.9 81.4h0.5M51.5 67.7h0.5M50.0 75.0h0.5M46.6 88.1h0.5M60.9 63.4h0.5M56.6 75.7h0.5M55.7 76.1h0.5M48.4 79.2h0.5M42.7 89.4h0.5M57.8 74.8h0.5M60.6 65.4h0.5M45.5 76.2h0.5M56.0 59.7h0.5M53.1 62.7h0.5M45.0 75.1h0.5M60.8 72.2h0.5M57.1 71.7h0.5M48.7 74.6h0.5M45.0 84.2h0.5M58.4 79.2h0.5M46.8 85.6h0.5M60.2 56.8h0.5M54.0 74.5h0.5M44.3 84.5h0.5M56.8 64.2h0.5M52.8 79.4h0.5M62.6 58.0h0.5M59.0 78.4h0.5M56.2 78.2h0.5M61.1 64.1h0.5M56.5 78.5h0.5M45.3 89.2h0.5M47.0 87.7h0.5M57.9 59.9h0.5M55.0 79.8h0.5M62.2 66.9h0.5M46.4 88.9h0.5M46.6 85.7h0.5M60.8 63.3h0.5M47.1 77.4h0.5M57.5 61.1h0.5M52.5 81.4h0.5M44.6 85.8h0.5M54.9 68.6h0.5M49.5 71.6h0.5M46.8 82.9h0.5M54.0 74.5h0.5M59.2 74.8h0.5M51.0 85.9h0.5M49.6 78.7h0.5M62.2 75.2h0.5M62.7 64.2h0.5M62.2 56.6h0.5M51.2 67.7h0.5M44.9 80.3h0.5M47.2 75.1h0.5M53.4 67.7h0.5M54.9 66.3h0.5M58.5 71.6h0.5M56.6 77.3h0.5M62.6 56.0h0.5M48.0 88.6h0.5M60.5 69.7h0.5M46.2 78.3h0.5M48.4 84.3h0.5M55.0 78.7h0.5M52.0 89.0h0.5M45.8 76.1h0.5M55.4 80.3h0.5M56.4 62.9h0.5M61.6 70.6h0.5M51.0 70.7h0.5M56.9 76.7h0.5M57.2 66.3h0.5M61.3 62.3h0.5M61.9 72.5h0.5M63.6 59.6h0.5M51.9 66.9h0.5M52.9 85.1h0.5M48.6 87.1h0.5M55.6 77.1h0.5M53.5 87.4h0.5M59.0 57.6h0.5M46.6 76.4h0.5M51.4 84.8h0.5M61.9 61.9h0.5M59.0 69.3h0.5M51.0 86.9h0.5M55.9 81.1h0.5M47.8 79.0h0.5M48.2 80.3h0.5M62.2 70.1h0.5M43.8 91.6h0.5M51.7 73.7h0.5M61.5 63.9h0.5M52.1 88.5h0.5M56.9 80.7h0.5M52.1 67.9h0.5M45.6 89.8h0.5M47.8 73.9h0.5M46.9 75.0h0.5M52.8 73.0h0.5M55.0 78.0h0.5M50.2 73.2h0.5M45.9 72.1h0.5M60.2 64.0h0.5M46.1 88.8h0.5M44.0 80.5h0.5M49.1 78.9h0.5M54.8 68.8h0.5M55.9 76.9h0.5M40.8 81.7h0.5M43.3 83.9h0.5M48.7 82.5h0.5M50.6 75.1h0.5M52.7 80.9h0.5M42.4 80.7h0.5M46.7 87.8h0.5M51.4 89.6h0.5M60.1 76.7h0.5M40.7 90.8h0.5M55.5 64.0h0.5M57.3 74.3h0.5M54.8 65.5h0.5M62.9 64.2h0.5M62.4 58.1h0.5M46.5 88.6h0.5M49.2 85.9h0.5M53.7 64.8h0.5M59.1 69.8h0.5M58.4 68.6h0.5M52.9 68.4h0.5M58.1 75.5h0.5M51.8 82.7h0.5M52.7 68.4h0.5M43.8 82.9h0.5M46.1 72.8h0.5M60.4 61.6h0.5M57.0 75.6h0.5M49.1 83.6h0.5M57.9 67.6h0.5M57.3 57.5h0.5M55.8 64.0h0.5M50.9 74.4h0.5M58.4 75.1h0.5M44.5 78.4h0.5M45.7 87.3h0.5M43.4 94.6h0.5M45.6 93.5h0.5M59.9 64.2h0.5M60.9 70.8h0.5M56.1 71.1h0.5M46.6 74.5h0.5M56.3 64.4h0.5M57.7 72.0h0.5M52.0 70.3h0.5M60.0 73.5h0.5M58.0 70.9h0.5M54.0 80.8h0.5M51.3 70.4h0.5M61.3 65.9h0.5M56.6 73.8h0.5M52.5 72.4h0.5M58.3 69.3h0.5M53.9 64.4h0.5M53.3 73.7h0.5M45.8 82.5h0.5M54.0 83.1h0.5M44.3 83.4h0.5M47.3 75.8h0.5M60.7 69.8h0.5M55.6 72.4h0.5M50.2 84.3h0.5M43.6 86.9h0.5M55.8 68.8h0.5M53.3 67.4h0.5M46.6 78.4h0.5M53.1 71.9h0.5M52.1 79.5h0.5M55.2 67.1h0.5M48.8 69.9h0.5M53.6 86.6h0.5M46.0 82.0h0.5M51.9 79.0h0.5M52.4 86.4h0.5M60.2 58.2h0.5M51.6 74.9h0.5M46.1 84.1h0.5M53.5 73.3h0.5M57.6 61.9h0.5M56.1 72.4h0.5M67.5 60.7h0.5M58.2 64.0h0.5M59.0 73.0h0.5M53.0 81.9h0.5M48.6 81.5h0.5M53.3 76.0h0.5M61.4 59.3h0.5M46.6 87.6h0.5M46.9 80.8h0.5M54.8 66.1h0.5M50.3 83.4h0.5M51.1 70.8h0.5M57.4 67.0h0.5M47.4 68.8h0.5M41.1 89.4h0.5M49.6 72.3h0.5M64.3 58.8h0.5M54.0 72.6h0.5M45.2 80.6h0.5M63.0 62.6h0.5M49.5 83.4h0.5M47.8 80.8h0.5M58.2 78.5h0.5M60.9 69.5h0.5M41.2 81.0h0.5M56.7 67.3h0.5M49.3 82.5h0.5M51.1 75.7h0.5M56.2 77.1h0.5M52.8 73.2h0.5M59.5 63.4h0.5M50.1 77.3h0.5M47.5 87.9h0.5M61.2 68.8h0.5M54.5 70.4h0.5M52.2 85.1h0.5M54.5 61.4h0.5M61.4 62.8h0.5M49.5 87.5h0.5M51.1 70.7h0.5M67.3 65.4h0.5M64.0 61.6h0.5M55.3 83.4h0.5M47.2 75.8h0.5M50.2 84.0h0.5M51.4 77.0h0.5M50.0 76.3h0.5M63.4 63.4h0.5M59.3 71.9h0.5M50.2 86.9h0.5M56.5 75.3h0.5M45.6 77.4h0.5M53.3 77.2h0.5M42.4 84.1h0.5M46.0 76.5h0.5M47.7 71.1h0.5M52.2 66.0h0.5M44.9 80.3h0.5M52.2 84.6h0.5M59.8 65.2h0.5M54.8 84.3h0.5M50.7 75.9h0.5M56.4 68.4h0.5M62.7 61.2h0.5M62.3 72.6h0.5M61.3 68.4h0.5M55.3 73.5h0.5M60.1 73.3h0.5M44.7 89.8h0.5M50.5 86.1h0.5M58.2 64.6h0.5M58.8 66.2h0.5M53.0 67.5h0.5M47.9 81.6h0.5M55.1 76.7h0.5M50.6 66.6h0.5M58.2 63.3h0.5M59.9 63.8h0.5M57.8 65.2h0.5M55.4 72.3h0.5M56.3 72.6h0.5M51.9 80.0h0.5M62.3 67.7h0.5M56.3 79.9h0.5M40.6 86.9h0.5M54.1 63.2h0.5M56.0 76.5h0.5M53.0 74.2h0.5M58.1 62.0h0.5M53.5 82.5h0.5M44.3 77.5h0.5M61.0 70.2h0.5M56.2 79.7h0.5M51.7 69.6h0.5M59.9 66.3h0.5M49.5 72.0h0.5M56.6 68.3h0.5M45.0 71.4h0.5M50.8 67.5h0.5M63.7 60.2h0.5M62.7 64.6h0.5M43.8 92.7h0.5M43.0 87.9h0.5M48.0 72.9h0.5M55.8 79.2h0.5M54.2 73.5h0.5M49.5 85.5h0.5M54.4 65.5h0.5M46.7 89.8h0.5M63.6 64.0h0.5M45.0 81.9h0.5M49.8 78.5h0.5M50.1 80.7h0.5M59.1 59.4h0.5M58.2 61.3h0.5M59.6 65.1h0.5M52.9 72.4h0.5M48.6 79.2h0.5M49.7 75.9h0.5M58.7 79.7h0.5M52.0 67.9h0.5M58.7 64.6h0.5M40.8 85.5h0.5M58.7 69.6h0.5M45.6 80.1h0.5M56.5 62.7h0.5M52.7 69.1h0.5M48.2 82.6h0.5M59.0 73.7h0.5M55.8 73.5h0.5M47.1 81.9h0.5M59.7 68.6h0.5M49.8 82.7h0.5M59.7 57.4h0.5M42.3 89.9h0.5M55.6 85.2h0.5M62.2 73.0h0.5M49.5 74.8h0.5M57.9 69.7h0.5M65.7 65.2h0.5M46.5 82.1h0.5M60.9 62.7h0.5M62.9 67.2h0.5M55.5 66.9h0.5M43.4 82.1h0.5M59.6 68.6h0.5M51.8 71.2h0.5M53.6 73.0h0.5M56.8 72.4h0.5M48.0 82.8h0.5M45.8 89.3h0.5M48.6 86.6h0.5M45.7 80.8h0.5M48.4 78.0h0.5M57.6 72.0h0.5M49.5 88.1h0.5M47.2 80.6h0.5M47.4 73.3h0.5M45.9 81.5h0.5M46.7 82.5h0.5M41.1 87.9h0.5M56.1 68.7h0.5M42.6 87.1h0.5M58.9 68.4h0.5M50.2 75.4h0.5M55.4 82.7h0.5M56.2 61.9h0.5M56.5 71.0h0.5M49.7 71.7h0.5M48.1 85.7h0.5M54.9 62.9h0.5M56.9 75.7h0.5M50.5 72.8h0.5M59.3 81.4h0.5M52.1 75.3h0.5M52.0 87.2h0.5M54.3 80.2h0.5M44.9 85.7h0.5M46.1 84.5h0.5M59.0 73.5h0.5M44.9 78.0h0.5M43.4 92.4h0.5M47.8 92.1h0.5M63.2 64.9h0.5M61.9 59.6h0.5M50.6 71.3h0.5M63.0 68.3h0.5M59.0 56.6h0.5M56.1 69.6h0.5M45.5 87.8h0.5M46.1 87.9h0.5M50.5 74.5h0.5M43.0 85.2h0.5M49.5 88.7h0.5M58.0 76.3h0.5M51.9 76.6h0.5M63.0 56.7h0.5M56.0 65.3h0.5M54.0 84.1h0.5M57.8 70.4h0.5M57.5 61.9h0.5M50.2 78.8h0.5M61.7 65.1h0.5M54.8 85.2h0.5M52.7 69.3h0.5M64.0 62.3h0.5M48.2 87.3h0.5M55.8 72.7h0.5M53.7 72.3h0.5M55.5 72.6h0.5M57.7 65.5h0.5M41.5 88.6h0.5M48.1 86.5h0.5M50.3 89.5h0.5M48.0 74.8h0.5M42.5 88.4h0.5M49.2 90.3h0.5M47.2 83.4h0.5M41.8 90.1h0.5M53.5 80.7h0.5M58.0 58.6h0.5M52.3 74.6h0.5M50.2 82.5h0.5M49.2 78.5h0.5M43.7 89.0h0.5M53.1 71.6h0.5M52.5 83.5h0.5M48.3 85.5h0.5M45.8 79.6h0.5M51.4 83.1h0.5M58.2 60.4h0.5M43.6 88.0h0.5M51.5 81.5h0.5M57.9 63.3h0.5M48.6 78.5h0.5M55.4 64.0h0.5M58.4 69.1h0.5M58.2 80.2h0.5M50.1 77.2h0.5M58.7 69.5h0.5M53.7 69.0h0.5M47.6 88.4h0.5M58.9 64.3h0.5M46.8 77.9h0.5M61.0 68.2h0.5M51.0 86.0h0.5M47.2 82.3h0.5M53.3 81.6h0.5M57.2 73.0h0.5M54.2 69.9h0.5M45.2 88.9h0.5M43.7 84.2h0.5M44.5 86.9h0.5M48.9 92.9h0.5" stroke="#46568f" stroke-width="0.5" stroke-opacity="0.42" fill="none"/>
<path d="M43.8 82.0h0.5M49.5 79.9h0.5M45.9 79.1h0.5M45.9 77.7h0.5M45.5 79.9h0.5M50.9 84.5h0.5M48.4 77.7h0.5M47.7 82.8h0.5M49.2 77.8h0.5M52.2 86.5h0.5M47.6 80.9h0.5M48.7 85.1h0.5M51.3 80.0h0.5M47.4 84.1h0.5M46.2 84.0h0.5M45.7 76.7h0.5M49.5 81.3h0.5M52.5 84.7h0.5M47.2 85.2h0.5M52.3 84.4h0.5M50.0 81.3h0.5M50.9 80.8h0.5M45.3 83.0h0.5M48.2 79.9h0.5M45.5 87.8h0.5M50.3 82.9h0.5M43.7 82.9h0.5M45.5 77.5h0.5M46.6 82.7h0.5M51.3 74.6h0.5M49.0 81.8h0.5M52.1 82.9h0.5M42.4 87.5h0.5M49.6 88.2h0.5M50.7 79.4h0.5M46.5 83.6h0.5M45.6 76.1h0.5M49.8 85.7h0.5M52.8 82.2h0.5M47.3 84.6h0.5M49.5 81.0h0.5M47.7 79.1h0.5M44.6 76.4h0.5M44.5 82.7h0.5M42.0 83.5h0.5M45.3 78.1h0.5M46.0 79.8h0.5M47.3 78.8h0.5M46.7 85.9h0.5M51.8 81.1h0.5M46.7 81.8h0.5M47.5 85.8h0.5M45.9 82.5h0.5M48.4 78.4h0.5M48.6 81.5h0.5M46.3 80.3h0.5M48.2 81.6h0.5M45.7 82.1h0.5M47.6 76.7h0.5M46.0 80.6h0.5M48.5 87.9h0.5M45.6 86.1h0.5M45.5 82.6h0.5M47.2 82.9h0.5M47.0 78.3h0.5M41.9 88.6h0.5M48.0 78.8h0.5M45.6 75.8h0.5M46.3 82.7h0.5M50.6 78.4h0.5M46.9 83.9h0.5M46.8 81.8h0.5M49.1 84.4h0.5M48.3 75.6h0.5M52.0 79.5h0.5M51.6 79.5h0.5M46.0 85.2h0.5M51.1 83.2h0.5M43.7 83.8h0.5M48.3 81.4h0.5M48.1 79.6h0.5M48.1 76.4h0.5M46.5 81.5h0.5M48.8 81.3h0.5M48.2 82.4h0.5M47.1 85.5h0.5M48.8 75.6h0.5M47.9 80.2h0.5M49.7 77.0h0.5M47.4 78.1h0.5M45.3 85.3h0.5M41.6 80.5h0.5M46.0 77.9h0.5M47.8 78.2h0.5M47.8 78.9h0.5M49.0 82.3h0.5M47.7 78.1h0.5M49.6 86.6h0.5M43.7 80.3h0.5M49.6 87.4h0.5M47.0 77.2h0.5M45.5 78.8h0.5M47.0 78.4h0.5M45.6 81.4h0.5M42.4 88.7h0.5M45.0 83.2h0.5M48.8 81.6h0.5M49.3 82.3h0.5M46.7 77.3h0.5M52.2 79.7h0.5M47.0 83.5h0.5M48.8 79.1h0.5M46.4 87.8h0.5M48.4 79.3h0.5M47.0 89.7h0.5M45.6 78.4h0.5M46.2 90.0h0.5M47.2 79.4h0.5M51.9 77.6h0.5M46.1 81.4h0.5M52.5 81.5h0.5M50.3 78.6h0.5M44.4 90.6h0.5M41.7 85.9h0.5M44.1 79.5h0.5M46.1 85.1h0.5M50.2 84.7h0.5M52.6 73.4h0.5M47.4 73.9h0.5M52.5 81.7h0.5M45.1 82.8h0.5M50.2 80.8h0.5M46.3 79.3h0.5M45.6 81.0h0.5M51.1 76.8h0.5M38.2 83.8h0.5M48.0 75.3h0.5M45.8 82.2h0.5M48.9 76.9h0.5M43.6 79.7h0.5M48.9 84.6h0.5M45.8 83.1h0.5M47.5 80.4h0.5M43.8 77.8h0.5M52.6 71.9h0.5M51.7 77.3h0.5M49.3 82.6h0.5M46.6 85.9h0.5M47.4 80.9h0.5M47.9 79.2h0.5M44.8 86.8h0.5M48.9 82.1h0.5M49.2 77.0h0.5M46.1 82.4h0.5M45.4 86.7h0.5M48.2 78.6h0.5M50.8 76.7h0.5M47.3 82.1h0.5M45.6 79.6h0.5M52.8 79.6h0.5M49.9 80.5h0.5M44.1 82.2h0.5M44.6 81.1h0.5M46.1 80.9h0.5M46.0 80.5h0.5M47.3 76.3h0.5M46.0 84.7h0.5M47.3 79.6h0.5M45.0 80.5h0.5M47.1 89.6h0.5M47.9 78.5h0.5M48.3 81.2h0.5M42.1 83.5h0.5M41.7 85.3h0.5M46.8 77.0h0.5M52.4 77.2h0.5M49.1 81.9h0.5M46.4 81.6h0.5M48.0 78.6h0.5M46.9 83.7h0.5M44.5 81.7h0.5M48.5 77.9h0.5M47.4 86.0h0.5M47.4 76.5h0.5M49.3 81.1h0.5M49.4 77.0h0.5M44.4 87.2h0.5M49.3 77.0h0.5M49.0 82.6h0.5M50.4 80.4h0.5M47.1 84.4h0.5M41.8 82.3h0.5M49.6 77.8h0.5M50.8 81.2h0.5M46.0 78.2h0.5M45.1 77.1h0.5M47.9 79.0h0.5M46.3 87.1h0.5M43.9 80.5h0.5M47.4 82.7h0.5M50.3 74.6h0.5M49.6 77.0h0.5M46.6 84.4h0.5M44.2 85.6h0.5M47.3 78.2h0.5M48.7 79.6h0.5M53.2 78.9h0.5M46.6 85.5h0.5M51.9 76.9h0.5M45.6 79.4h0.5M48.5 76.5h0.5M44.9 78.6h0.5M48.7 83.6h0.5M48.2 84.9h0.5M50.8 77.5h0.5M43.3 92.2h0.5M48.4 77.2h0.5M47.8 78.5h0.5M48.8 84.9h0.5M47.9 78.3h0.5M49.4 82.9h0.5M48.7 87.4h0.5M44.3 80.6h0.5M46.5 78.2h0.5M51.2 83.3h0.5M48.2 84.9h0.5M52.1 81.1h0.5M52.5 81.1h0.5M48.9 77.1h0.5M52.3 83.2h0.5M53.2 78.4h0.5M48.4 84.8h0.5M47.3 83.1h0.5M44.0 85.3h0.5M45.6 80.5h0.5M44.3 79.3h0.5M45.5 80.3h0.5M43.4 84.3h0.5M49.6 78.4h0.5M42.8 85.7h0.5M41.7 82.0h0.5M42.4 90.8h0.5M44.7 75.5h0.5M48.0 78.4h0.5M48.5 82.9h0.5M44.5 78.4h0.5M42.4 83.7h0.5M45.3 84.7h0.5M48.5 86.2h0.5M47.6 80.2h0.5M45.6 82.0h0.5M48.2 81.2h0.5M41.5 82.5h0.5M41.5 83.7h0.5M49.6 81.0h0.5M49.6 81.5h0.5M49.4 80.8h0.5M46.5 83.5h0.5M48.8 81.1h0.5M40.6 84.0h0.5" stroke="#3f4f8f" stroke-width="0.5" stroke-opacity="0.4" fill="none"/>
<path d="M55.8 66.6h0.5M56.2 64.3h0.5M57.1 59.9h0.5M63.3 66.3h0.5M59.6 64.7h0.5M52.2 64.7h0.5M58.1 63.5h0.5M56.8 61.8h0.5M62.0 64.1h0.5M58.0 64.3h0.5M61.2 58.2h0.5M58.8 68.6h0.5M63.9 64.0h0.5M55.9 67.3h0.5M57.3 68.1h0.5M58.7 61.6h0.5M60.5 66.7h0.5M58.6 67.0h0.5M59.7 64.6h0.5M61.9 56.7h0.5M61.2 67.9h0.5M58.3 65.2h0.5M63.6 62.5h0.5M60.8 67.5h0.5M61.1 56.7h0.5M57.0 67.9h0.5M59.6 65.4h0.5M58.9 60.7h0.5M58.9 65.1h0.5M59.2 66.3h0.5M54.0 66.7h0.5M58.6 64.6h0.5M61.4 62.5h0.5M58.1 64.8h0.5M56.7 66.7h0.5M58.9 59.3h0.5M60.8 62.2h0.5M60.7 63.2h0.5M58.9 65.1h0.5M60.6 68.4h0.5M61.2 61.4h0.5M58.7 63.9h0.5M62.1 67.5h0.5M60.4 65.8h0.5M62.1 64.7h0.5M63.2 63.7h0.5M58.4 64.1h0.5M57.0 64.6h0.5M60.7 69.5h0.5M55.4 63.3h0.5M58.1 64.6h0.5M62.9 65.5h0.5M58.1 63.9h0.5M60.0 66.9h0.5M57.7 64.1h0.5M64.9 65.5h0.5M59.1 64.8h0.5M60.7 66.0h0.5M56.5 63.9h0.5M60.3 66.4h0.5M61.3 64.4h0.5M59.5 62.4h0.5M60.3 66.2h0.5M58.7 64.9h0.5M60.8 64.0h0.5M59.7 62.0h0.5M60.8 60.4h0.5M55.0 66.9h0.5M61.6 62.8h0.5M58.3 65.7h0.5M59.1 62.1h0.5M64.0 63.9h0.5M62.4 59.6h0.5M58.4 65.8h0.5M59.7 61.0h0.5M57.4 72.3h0.5M59.8 64.6h0.5M54.4 69.7h0.5M57.9 66.3h0.5M58.8 68.3h0.5M57.4 68.7h0.5M61.6 66.0h0.5M59.7 68.8h0.5M61.8 70.2h0.5M56.9 66.1h0.5M58.5 66.0h0.5M59.8 63.0h0.5M58.3 65.6h0.5M58.1 67.3h0.5M56.1 68.9h0.5M62.1 64.1h0.5M57.6 62.5h0.5M60.5 63.0h0.5M59.6 67.2h0.5M63.2 62.5h0.5M60.3 63.1h0.5M63.6 58.8h0.5M59.0 65.7h0.5M61.7 62.9h0.5M61.7 60.0h0.5M60.4 66.1h0.5M62.0 66.2h0.5M62.6 68.3h0.5M58.4 65.0h0.5M62.3 63.4h0.5M60.3 64.4h0.5M58.6 68.0h0.5M62.5 57.4h0.5M58.6 66.7h0.5M62.4 62.1h0.5M59.6 64.5h0.5M59.8 62.3h0.5M62.7 64.4h0.5M61.0 62.6h0.5M60.3 62.2h0.5M62.3 59.9h0.5M58.0 66.2h0.5M56.0 67.4h0.5M57.9 69.7h0.5M55.9 69.9h0.5M58.0 61.9h0.5M58.6 70.5h0.5M56.3 68.6h0.5M57.2 62.4h0.5M58.9 65.3h0.5M58.3 63.6h0.5M55.6 72.2h0.5M55.2 66.9h0.5M56.2 68.4h0.5M56.3 62.9h0.5M56.8 63.3h0.5M60.2 63.7h0.5M60.3 60.7h0.5M67.7 56.8h0.5M57.2 65.3h0.5M60.8 62.9h0.5M58.4 60.8h0.5M62.0 66.5h0.5M57.9 67.4h0.5M57.9 60.6h0.5M61.3 62.4h0.5M59.4 62.6h0.5M62.3 68.9h0.5M57.9 71.9h0.5M56.3 66.6h0.5M62.7 62.1h0.5M62.2 61.9h0.5M57.1 67.0h0.5M59.2 63.6h0.5M61.0 60.8h0.5M59.7 59.9h0.5M58.5 67.5h0.5M58.2 64.6h0.5M59.1 64.7h0.5M57.0 67.3h0.5M60.8 59.0h0.5M60.3 71.6h0.5M60.6 63.8h0.5M62.3 62.5h0.5M65.2 66.3h0.5M60.6 62.5h0.5M54.5 70.0h0.5M56.3 62.6h0.5M57.3 62.2h0.5M61.1 64.5h0.5M54.8 66.7h0.5M55.2 63.0h0.5M58.2 66.9h0.5M61.5 60.6h0.5M61.6 68.2h0.5M56.5 63.4h0.5M61.1 66.2h0.5M54.8 62.6h0.5M64.6 61.3h0.5M62.3 60.8h0.5M58.3 62.5h0.5M61.3 66.8h0.5M59.1 65.9h0.5M57.6 70.3h0.5M59.7 64.4h0.5M62.1 64.9h0.5M60.4 65.7h0.5M56.2 66.1h0.5M59.7 60.3h0.5M59.1 61.5h0.5M61.2 64.9h0.5M63.2 60.8h0.5M60.4 64.1h0.5M62.0 59.2h0.5M58.1 64.4h0.5M60.4 64.5h0.5M60.1 67.1h0.5M62.4 62.8h0.5M61.8 67.6h0.5M63.4 65.3h0.5M59.0 63.7h0.5M63.1 69.3h0.5M65.9 60.1h0.5M61.8 61.8h0.5M59.9 65.6h0.5M61.9 62.8h0.5M59.1 63.0h0.5M57.6 65.0h0.5M62.6 59.5h0.5M60.2 61.8h0.5M55.2 59.7h0.5M61.6 63.7h0.5M57.0 60.6h0.5M61.4 62.7h0.5M59.3 63.4h0.5M58.7 63.2h0.5M61.2 64.9h0.5M55.6 67.7h0.5M57.5 63.9h0.5M62.1 61.4h0.5M62.4 60.4h0.5M58.6 63.1h0.5M56.9 65.8h0.5M59.8 60.8h0.5M58.9 67.0h0.5" stroke="#3f4f8f" stroke-width="0.5" stroke-opacity="0.4" fill="none"/>
<path d="M48.2 82.3h0.5M48.9 80.9h0.5M47.3 83.3h0.5M46.0 80.6h0.5M48.7 81.1h0.5M51.9 80.1h0.5M50.2 84.6h0.5M45.8 81.7h0.5M48.8 79.8h0.5M47.3 80.9h0.5M47.3 79.4h0.5M47.1 83.6h0.5M46.1 83.6h0.5M45.0 81.8h0.5M48.3 82.0h0.5M45.8 79.1h0.5M46.6 84.2h0.5M46.9 81.4h0.5M47.7 85.0h0.5M46.8 80.6h0.5M47.3 82.3h0.5M46.8 83.0h0.5M47.9 82.9h0.5M48.1 81.3h0.5M50.0 83.3h0.5M48.5 82.2h0.5M46.6 81.6h0.5M48.5 79.8h0.5M49.1 83.7h0.5M46.6 81.6h0.5M46.6 82.3h0.5M43.7 81.4h0.5M50.0 82.1h0.5M47.8 80.9h0.5M49.8 85.8h0.5M45.0 84.6h0.5M43.6 82.7h0.5M48.1 82.0h0.5M46.1 82.7h0.5M47.8 80.1h0.5M46.2 82.5h0.5M48.9 81.4h0.5M47.0 80.8h0.5M47.3 80.4h0.5M48.4 80.4h0.5M46.8 82.3h0.5M46.9 81.6h0.5M49.6 80.2h0.5M47.4 82.2h0.5M47.9 81.8h0.5M48.4 81.4h0.5M47.7 84.0h0.5M48.4 81.1h0.5M50.8 79.3h0.5M49.4 81.8h0.5M45.2 79.9h0.5M43.9 82.9h0.5M46.1 82.5h0.5M43.6 81.0h0.5M43.0 82.4h0.5M45.8 80.8h0.5M45.9 80.7h0.5M47.9 78.5h0.5M48.3 78.0h0.5M51.2 80.8h0.5M46.4 84.4h0.5M46.5 79.5h0.5M47.9 81.4h0.5M49.4 80.4h0.5M47.1 82.4h0.5M46.0 80.1h0.5M43.0 81.3h0.5M49.0 82.2h0.5M47.2 80.7h0.5M50.2 81.2h0.5M50.6 81.1h0.5M50.7 82.4h0.5M48.3 82.5h0.5M49.0 82.7h0.5M45.3 82.2h0.5" stroke="#2f8f7f" stroke-width="0.5" stroke-opacity="0.6" fill="none"/>
<path d="M59.4 66.1h0.5M58.2 63.4h0.5M60.3 62.9h0.5M60.9 64.7h0.5M61.3 62.9h0.5M58.5 66.0h0.5M58.1 64.6h0.5M60.0 66.3h0.5M59.2 62.4h0.5M59.8 65.5h0.5M60.2 66.7h0.5M59.5 62.6h0.5M60.5 65.6h0.5M59.1 66.1h0.5M59.7 62.6h0.5M59.8 64.1h0.5M61.8 64.5h0.5M60.1 62.6h0.5M58.5 64.2h0.5M56.7 61.5h0.5M58.0 62.4h0.5M60.3 62.5h0.5M59.6 63.7h0.5M61.8 62.9h0.5M59.8 65.4h0.5M61.6 65.7h0.5M62.2 62.7h0.5M60.6 68.5h0.5M58.8 66.3h0.5M62.0 64.2h0.5M60.0 62.0h0.5M61.5 62.9h0.5M61.8 63.6h0.5M62.1 63.3h0.5M58.7 64.1h0.5M59.8 63.8h0.5M59.4 61.9h0.5M58.5 65.8h0.5M57.1 64.6h0.5M59.9 65.5h0.5M61.4 62.7h0.5M61.5 63.5h0.5M58.6 66.1h0.5M59.4 65.0h0.5M59.8 65.4h0.5M60.0 63.8h0.5M58.5 62.0h0.5M61.0 65.0h0.5M57.8 64.4h0.5M62.1 63.2h0.5" stroke="#2f8f7f" stroke-width="0.5" stroke-opacity="0.5" fill="none"/>
<path d="M57.3 79.3h0.4M55.8 84.8h0.4M53.7 68.5h0.4M54.8 72.0h0.4M54.0 90.1h0.4M52.3 73.0h0.4M50.9 82.4h0.4M54.9 95.5h0.4M57.9 68.8h0.4M48.0 75.4h0.4M54.4 68.4h0.4M39.3 57.1h0.4M44.3 87.2h0.4M35.6 81.2h0.4M49.5 73.7h0.4M55.7 79.9h0.4M58.7 71.1h0.4M39.2 63.8h0.4M59.8 70.7h0.4M42.3 69.7h0.4M48.1 67.6h0.4M47.3 85.1h0.4M67.0 68.8h0.4M53.7 66.7h0.4M71.9 77.6h0.4M61.4 79.9h0.4M49.6 90.1h0.4M55.9 78.3h0.4M65.0 64.3h0.4M43.8 68.3h0.4M47.5 84.1h0.4M51.7 70.4h0.4M49.1 80.0h0.4M49.6 91.9h0.4M68.3 63.4h0.4M53.5 63.1h0.4M49.1 74.2h0.4M48.4 75.7h0.4M39.3 83.5h0.4M59.8 62.2h0.4M46.2 81.1h0.4M85.9 73.8h0.4M56.5 61.4h0.4M46.6 73.8h0.4M40.6 80.1h0.4M47.6 91.3h0.4M55.9 70.5h0.4M46.5 82.0h0.4M58.1 64.5h0.4M58.6 85.0h0.4M57.4 76.7h0.4M57.0 89.4h0.4M52.2 64.4h0.4M45.8 66.1h0.4M40.3 61.3h0.4M36.8 91.2h0.4M47.8 71.9h0.4M58.4 60.3h0.4M52.0 69.5h0.4M42.2 83.1h0.4M60.7 81.4h0.4M42.8 79.6h0.4M41.0 64.5h0.4M42.7 74.4h0.4M45.7 58.8h0.4M51.2 62.9h0.4M40.2 81.0h0.4M36.7 83.5h0.4M56.1 73.9h0.4M54.4 60.2h0.4M56.4 67.6h0.4M59.1 72.6h0.4M52.4 89.6h0.4M68.8 70.3h0.4M50.0 63.2h0.4M51.4 65.6h0.4M64.3 68.4h0.4M55.7 71.2h0.4M50.4 73.6h0.4M51.8 93.1h0.4M40.8 70.8h0.4M58.2 57.3h0.4M49.9 84.7h0.4M56.1 69.1h0.4M64.5 69.2h0.4M59.3 70.9h0.4M54.4 78.5h0.4M55.6 76.9h0.4M53.2 79.8h0.4M67.9 72.9h0.4M34.1 76.3h0.4M47.7 66.4h0.4M44.3 66.5h0.4M55.9 70.5h0.4M50.2 71.8h0.4M52.9 60.9h0.4M70.2 65.2h0.4M54.6 86.5h0.4M60.1 85.9h0.4M48.2 89.8h0.4M45.6 85.7h0.4M42.5 83.5h0.4M65.5 90.8h0.4M41.6 81.4h0.4M47.6 72.9h0.4M73.8 73.3h0.4M55.7 78.6h0.4M52.5 79.5h0.4M49.9 74.6h0.4M41.3 72.9h0.4" stroke="#3f4f8f" stroke-width="0.4" stroke-opacity="0.3" fill="none"/>
</g>
<rect x="24.4" y="30.3" width="62.1" height="62.0" fill="none" stroke="#666" stroke-width="0.9" />
<rect x="52.7" y="48" width="24.89999999999999" height="23.299999999999997" fill="none" stroke="#a0a0a0" stroke-width="0.55" />
<text x="50.9" y="26.3" font-size="8.1" text-anchor="start" fill="#4aa34a" >Wt1</text>
<text x="59.3" y="45.9" font-size="6.1" text-anchor="start" fill="#444" stroke="#444" stroke-width="0.12">16.7%</text>
<line x1="22.4" y1="36" x2="24.4" y2="36" stroke="#333" stroke-width="0.75" />
<text x="21.299999999999997" y="37.9" font-size="3.7" text-anchor="end" fill="#2e2e2e" font-weight="bold" >10</text>
<text x="21.2" y="35.9" font-size="2.6" text-anchor="start" fill="#2e2e2e" font-weight="bold" >5</text>
<line x1="23.099999999999998" y1="37.6" x2="24.4" y2="37.6" stroke="#444" stroke-width="0.5" />
<line x1="23.099999999999998" y1="34.4" x2="24.4" y2="34.4" stroke="#444" stroke-width="0.5" />
<line x1="23.099999999999998" y1="39.0" x2="24.4" y2="39.0" stroke="#444" stroke-width="0.5" />
<line x1="23.099999999999998" y1="33.0" x2="24.4" y2="33.0" stroke="#444" stroke-width="0.5" />
<line x1="23.099999999999998" y1="40.3" x2="24.4" y2="40.3" stroke="#444" stroke-width="0.5" />
<line x1="23.099999999999998" y1="31.7" x2="24.4" y2="31.7" stroke="#444" stroke-width="0.5" />
<line x1="23.099999999999998" y1="41.5" x2="24.4" y2="41.5" stroke="#444" stroke-width="0.5" />
<line x1="23.099999999999998" y1="30.5" x2="24.4" y2="30.5" stroke="#444" stroke-width="0.5" />
<line x1="23.099999999999998" y1="42.6" x2="24.4" y2="42.6" stroke="#444" stroke-width="0.5" />
<line x1="23.099999999999998" y1="43.6" x2="24.4" y2="43.6" stroke="#444" stroke-width="0.5" />
<line x1="23.099999999999998" y1="44.5" x2="24.4" y2="44.5" stroke="#444" stroke-width="0.5" />
<line x1="23.099999999999998" y1="45.4" x2="24.4" y2="45.4" stroke="#444" stroke-width="0.5" />
<line x1="23.099999999999998" y1="46.2" x2="24.4" y2="46.2" stroke="#444" stroke-width="0.5" />
<line x1="23.099999999999998" y1="47.0" x2="24.4" y2="47.0" stroke="#444" stroke-width="0.5" />
<line x1="23.099999999999998" y1="47.7" x2="24.4" y2="47.7" stroke="#444" stroke-width="0.5" />
<line x1="22.4" y1="48.2" x2="24.4" y2="48.2" stroke="#333" stroke-width="0.75" />
<text x="21.299999999999997" y="50.1" font-size="3.7" text-anchor="end" fill="#2e2e2e" font-weight="bold" >10</text>
<text x="21.2" y="48.1" font-size="2.6" text-anchor="start" fill="#2e2e2e" font-weight="bold" >4</text>
<line x1="23.099999999999998" y1="49.800000000000004" x2="24.4" y2="49.800000000000004" stroke="#444" stroke-width="0.5" />
<line x1="23.099999999999998" y1="51.2" x2="24.4" y2="51.2" stroke="#444" stroke-width="0.5" />
<line x1="23.099999999999998" y1="52.5" x2="24.4" y2="52.5" stroke="#444" stroke-width="0.5" />
<line x1="23.099999999999998" y1="53.7" x2="24.4" y2="53.7" stroke="#444" stroke-width="0.5" />
<line x1="23.099999999999998" y1="54.800000000000004" x2="24.4" y2="54.800000000000004" stroke="#444" stroke-width="0.5" />
<line x1="23.099999999999998" y1="55.800000000000004" x2="24.4" y2="55.800000000000004" stroke="#444" stroke-width="0.5" />
<line x1="23.099999999999998" y1="56.7" x2="24.4" y2="56.7" stroke="#444" stroke-width="0.5" />
<line x1="23.099999999999998" y1="57.6" x2="24.4" y2="57.6" stroke="#444" stroke-width="0.5" />
<line x1="23.099999999999998" y1="58.400000000000006" x2="24.4" y2="58.400000000000006" stroke="#444" stroke-width="0.5" />
<line x1="23.099999999999998" y1="59.2" x2="24.4" y2="59.2" stroke="#444" stroke-width="0.5" />
<line x1="23.099999999999998" y1="59.900000000000006" x2="24.4" y2="59.900000000000006" stroke="#444" stroke-width="0.5" />
<line x1="22.4" y1="60.8" x2="24.4" y2="60.8" stroke="#333" stroke-width="0.75" />
<text x="21.299999999999997" y="62.699999999999996" font-size="3.7" text-anchor="end" fill="#2e2e2e" font-weight="bold" >10</text>
<text x="21.2" y="60.699999999999996" font-size="2.6" text-anchor="start" fill="#2e2e2e" font-weight="bold" >3</text>
<line x1="23.099999999999998" y1="62.4" x2="24.4" y2="62.4" stroke="#444" stroke-width="0.5" />
<line x1="23.099999999999998" y1="63.8" x2="24.4" y2="63.8" stroke="#444" stroke-width="0.5" />
<line x1="23.099999999999998" y1="65.1" x2="24.4" y2="65.1" stroke="#444" stroke-width="0.5" />
<line x1="23.099999999999998" y1="66.3" x2="24.4" y2="66.3" stroke="#444" stroke-width="0.5" />
<line x1="23.099999999999998" y1="67.39999999999999" x2="24.4" y2="67.39999999999999" stroke="#444" stroke-width="0.5" />
<line x1="23.099999999999998" y1="68.39999999999999" x2="24.4" y2="68.39999999999999" stroke="#444" stroke-width="0.5" />
<line x1="23.099999999999998" y1="69.3" x2="24.4" y2="69.3" stroke="#444" stroke-width="0.5" />
<line x1="23.099999999999998" y1="70.2" x2="24.4" y2="70.2" stroke="#444" stroke-width="0.5" />
<line x1="23.099999999999998" y1="71.0" x2="24.4" y2="71.0" stroke="#444" stroke-width="0.5" />
<line x1="23.099999999999998" y1="71.8" x2="24.4" y2="71.8" stroke="#444" stroke-width="0.5" />
<line x1="23.099999999999998" y1="72.5" x2="24.4" y2="72.5" stroke="#444" stroke-width="0.5" />
<line x1="22.4" y1="73.3" x2="24.4" y2="73.3" stroke="#333" stroke-width="0.75" />
<text x="21.299999999999997" y="75.2" font-size="3.7" text-anchor="end" fill="#2e2e2e" font-weight="bold" >10</text>
<text x="21.2" y="73.2" font-size="2.6" text-anchor="start" fill="#2e2e2e" font-weight="bold" >2</text>
<line x1="23.099999999999998" y1="74.89999999999999" x2="24.4" y2="74.89999999999999" stroke="#444" stroke-width="0.5" />
<line x1="23.099999999999998" y1="76.3" x2="24.4" y2="76.3" stroke="#444" stroke-width="0.5" />
<line x1="23.099999999999998" y1="77.6" x2="24.4" y2="77.6" stroke="#444" stroke-width="0.5" />
<line x1="23.099999999999998" y1="78.8" x2="24.4" y2="78.8" stroke="#444" stroke-width="0.5" />
<line x1="23.099999999999998" y1="79.89999999999999" x2="24.4" y2="79.89999999999999" stroke="#444" stroke-width="0.5" />
<line x1="23.099999999999998" y1="80.89999999999999" x2="24.4" y2="80.89999999999999" stroke="#444" stroke-width="0.5" />
<line x1="23.099999999999998" y1="81.8" x2="24.4" y2="81.8" stroke="#444" stroke-width="0.5" />
<line x1="23.099999999999998" y1="82.7" x2="24.4" y2="82.7" stroke="#444" stroke-width="0.5" />
<line x1="23.099999999999998" y1="83.5" x2="24.4" y2="83.5" stroke="#444" stroke-width="0.5" />
<line x1="23.099999999999998" y1="84.3" x2="24.4" y2="84.3" stroke="#444" stroke-width="0.5" />
<line x1="23.099999999999998" y1="85.0" x2="24.4" y2="85.0" stroke="#444" stroke-width="0.5" />
<line x1="22.4" y1="85.8" x2="24.4" y2="85.8" stroke="#333" stroke-width="0.75" />
<text x="21.299999999999997" y="87.7" font-size="3.7" text-anchor="end" fill="#2e2e2e" font-weight="bold" >10</text>
<text x="21.2" y="85.7" font-size="2.6" text-anchor="start" fill="#2e2e2e" font-weight="bold" >1</text>
<line x1="23.099999999999998" y1="87.39999999999999" x2="24.4" y2="87.39999999999999" stroke="#444" stroke-width="0.5" />
<line x1="23.099999999999998" y1="88.8" x2="24.4" y2="88.8" stroke="#444" stroke-width="0.5" />
<line x1="23.099999999999998" y1="90.1" x2="24.4" y2="90.1" stroke="#444" stroke-width="0.5" />
<line x1="23.099999999999998" y1="91.3" x2="24.4" y2="91.3" stroke="#444" stroke-width="0.5" />
<line x1="30.299999999999997" y1="92.3" x2="30.299999999999997" y2="94.3" stroke="#333" stroke-width="0.75" />
<text x="29.599999999999998" y="98.0" font-size="3.5" text-anchor="middle" fill="#2e2e2e" font-weight="bold" >10</text>
<text x="31.599999999999998" y="96.2" font-size="2.5" text-anchor="start" fill="#2e2e2e" font-weight="bold" >1</text>
<line x1="28.699999999999996" y1="92.3" x2="28.699999999999996" y2="93.6" stroke="#444" stroke-width="0.5" />
<line x1="27.299999999999997" y1="92.3" x2="27.299999999999997" y2="93.6" stroke="#444" stroke-width="0.5" />
<line x1="25.999999999999996" y1="92.3" x2="25.999999999999996" y2="93.6" stroke="#444" stroke-width="0.5" />
<line x1="24.799999999999997" y1="92.3" x2="24.799999999999997" y2="93.6" stroke="#444" stroke-width="0.5" />
<line x1="42.949999999999996" y1="92.3" x2="42.949999999999996" y2="94.3" stroke="#333" stroke-width="0.75" />
<text x="42.24999999999999" y="98.0" font-size="3.5" text-anchor="middle" fill="#2e2e2e" font-weight="bold" >10</text>
<text x="44.24999999999999" y="96.2" font-size="2.5" text-anchor="start" fill="#2e2e2e" font-weight="bold" >2</text>
<line x1="41.349999999999994" y1="92.3" x2="41.349999999999994" y2="93.6" stroke="#444" stroke-width="0.5" />
<line x1="39.949999999999996" y1="92.3" x2="39.949999999999996" y2="93.6" stroke="#444" stroke-width="0.5" />
<line x1="38.65" y1="92.3" x2="38.65" y2="93.6" stroke="#444" stroke-width="0.5" />
<line x1="37.449999999999996" y1="92.3" x2="37.449999999999996" y2="93.6" stroke="#444" stroke-width="0.5" />
<line x1="36.349999999999994" y1="92.3" x2="36.349999999999994" y2="93.6" stroke="#444" stroke-width="0.5" />
<line x1="35.349999999999994" y1="92.3" x2="35.349999999999994" y2="93.6" stroke="#444" stroke-width="0.5" />
<line x1="34.449999999999996" y1="92.3" x2="34.449999999999996" y2="93.6" stroke="#444" stroke-width="0.5" />
<line x1="33.55" y1="92.3" x2="33.55" y2="93.6" stroke="#444" stroke-width="0.5" />
<line x1="32.75" y1="92.3" x2="32.75" y2="93.6" stroke="#444" stroke-width="0.5" />
<line x1="31.949999999999996" y1="92.3" x2="31.949999999999996" y2="93.6" stroke="#444" stroke-width="0.5" />
<line x1="31.249999999999996" y1="92.3" x2="31.249999999999996" y2="93.6" stroke="#444" stroke-width="0.5" />
<line x1="55.599999999999994" y1="92.3" x2="55.599999999999994" y2="94.3" stroke="#333" stroke-width="0.75" />
<text x="54.89999999999999" y="98.0" font-size="3.5" text-anchor="middle" fill="#2e2e2e" font-weight="bold" >10</text>
<text x="56.89999999999999" y="96.2" font-size="2.5" text-anchor="start" fill="#2e2e2e" font-weight="bold" >3</text>
<line x1="53.99999999999999" y1="92.3" x2="53.99999999999999" y2="93.6" stroke="#444" stroke-width="0.5" />
<line x1="52.599999999999994" y1="92.3" x2="52.599999999999994" y2="93.6" stroke="#444" stroke-width="0.5" />
<line x1="51.3" y1="92.3" x2="51.3" y2="93.6" stroke="#444" stroke-width="0.5" />
<line x1="50.099999999999994" y1="92.3" x2="50.099999999999994" y2="93.6" stroke="#444" stroke-width="0.5" />
<line x1="48.99999999999999" y1="92.3" x2="48.99999999999999" y2="93.6" stroke="#444" stroke-width="0.5" />
<line x1="47.99999999999999" y1="92.3" x2="47.99999999999999" y2="93.6" stroke="#444" stroke-width="0.5" />
<line x1="47.099999999999994" y1="92.3" x2="47.099999999999994" y2="93.6" stroke="#444" stroke-width="0.5" />
<line x1="46.199999999999996" y1="92.3" x2="46.199999999999996" y2="93.6" stroke="#444" stroke-width="0.5" />
<line x1="45.39999999999999" y1="92.3" x2="45.39999999999999" y2="93.6" stroke="#444" stroke-width="0.5" />
<line x1="44.599999999999994" y1="92.3" x2="44.599999999999994" y2="93.6" stroke="#444" stroke-width="0.5" />
<line x1="43.89999999999999" y1="92.3" x2="43.89999999999999" y2="93.6" stroke="#444" stroke-width="0.5" />
<line x1="68.25" y1="92.3" x2="68.25" y2="94.3" stroke="#333" stroke-width="0.75" />
<text x="67.55" y="98.0" font-size="3.5" text-anchor="middle" fill="#2e2e2e" font-weight="bold" >10</text>
<text x="69.55" y="96.2" font-size="2.5" text-anchor="start" fill="#2e2e2e" font-weight="bold" >4</text>
<line x1="66.65" y1="92.3" x2="66.65" y2="93.6" stroke="#444" stroke-width="0.5" />
<line x1="65.25" y1="92.3" x2="65.25" y2="93.6" stroke="#444" stroke-width="0.5" />
<line x1="63.95" y1="92.3" x2="63.95" y2="93.6" stroke="#444" stroke-width="0.5" />
<line x1="62.75" y1="92.3" x2="62.75" y2="93.6" stroke="#444" stroke-width="0.5" />
<line x1="61.65" y1="92.3" x2="61.65" y2="93.6" stroke="#444" stroke-width="0.5" />
<line x1="60.65" y1="92.3" x2="60.65" y2="93.6" stroke="#444" stroke-width="0.5" />
<line x1="59.75" y1="92.3" x2="59.75" y2="93.6" stroke="#444" stroke-width="0.5" />
<line x1="58.85" y1="92.3" x2="58.85" y2="93.6" stroke="#444" stroke-width="0.5" />
<line x1="58.05" y1="92.3" x2="58.05" y2="93.6" stroke="#444" stroke-width="0.5" />
<line x1="57.25" y1="92.3" x2="57.25" y2="93.6" stroke="#444" stroke-width="0.5" />
<line x1="56.55" y1="92.3" x2="56.55" y2="93.6" stroke="#444" stroke-width="0.5" />
<line x1="80.9" y1="92.3" x2="80.9" y2="94.3" stroke="#333" stroke-width="0.75" />
<text x="80.2" y="98.0" font-size="3.5" text-anchor="middle" fill="#2e2e2e" font-weight="bold" >10</text>
<text x="82.2" y="96.2" font-size="2.5" text-anchor="start" fill="#2e2e2e" font-weight="bold" >5</text>
<line x1="79.30000000000001" y1="92.3" x2="79.30000000000001" y2="93.6" stroke="#444" stroke-width="0.5" />
<line x1="82.5" y1="92.3" x2="82.5" y2="93.6" stroke="#444" stroke-width="0.5" />
<line x1="77.9" y1="92.3" x2="77.9" y2="93.6" stroke="#444" stroke-width="0.5" />
<line x1="83.9" y1="92.3" x2="83.9" y2="93.6" stroke="#444" stroke-width="0.5" />
<line x1="76.60000000000001" y1="92.3" x2="76.60000000000001" y2="93.6" stroke="#444" stroke-width="0.5" />
<line x1="85.2" y1="92.3" x2="85.2" y2="93.6" stroke="#444" stroke-width="0.5" />
<line x1="75.4" y1="92.3" x2="75.4" y2="93.6" stroke="#444" stroke-width="0.5" />
<line x1="86.4" y1="92.3" x2="86.4" y2="93.6" stroke="#444" stroke-width="0.5" />
<line x1="74.30000000000001" y1="92.3" x2="74.30000000000001" y2="93.6" stroke="#444" stroke-width="0.5" />
<line x1="73.30000000000001" y1="92.3" x2="73.30000000000001" y2="93.6" stroke="#444" stroke-width="0.5" />
<line x1="72.4" y1="92.3" x2="72.4" y2="93.6" stroke="#444" stroke-width="0.5" />
<line x1="71.5" y1="92.3" x2="71.5" y2="93.6" stroke="#444" stroke-width="0.5" />
<line x1="70.7" y1="92.3" x2="70.7" y2="93.6" stroke="#444" stroke-width="0.5" />
<line x1="69.9" y1="92.3" x2="69.9" y2="93.6" stroke="#444" stroke-width="0.5" />
<line x1="69.2" y1="92.3" x2="69.2" y2="93.6" stroke="#444" stroke-width="0.5" />
<clipPath id="c2"><rect x="105.10000000000001" y="30.7" width="61.300000000000004" height="61.2"/></clipPath>
<g clip-path="url(#c2)">
<path d="M150.1 57.5h0.5M148.6 63.7h0.5M152.0 55.2h0.5M151.9 57.8h0.5M149.5 55.0h0.5M151.0 58.5h0.5M149.4 56.0h0.5M150.4 56.7h0.5M150.1 56.9h0.5M151.1 61.3h0.5M149.7 58.5h0.5M150.7 57.2h0.5M149.5 63.7h0.5M147.0 61.7h0.5M152.3 58.8h0.5M152.4 56.8h0.5M150.5 61.1h0.5M152.8 56.7h0.5M148.5 58.8h0.5M151.2 55.3h0.5M150.4 54.6h0.5M149.2 56.5h0.5M146.3 61.3h0.5M150.1 57.2h0.5M147.6 59.7h0.5M146.8 59.3h0.5M150.9 58.1h0.5M149.9 56.1h0.5M150.0 59.4h0.5M148.8 62.5h0.5M149.1 56.7h0.5M148.3 57.2h0.5M148.1 60.9h0.5M152.2 57.0h0.5M149.4 55.8h0.5M150.6 57.1h0.5M149.3 55.8h0.5M147.8 58.8h0.5M148.4 57.0h0.5M152.3 57.6h0.5M149.7 56.9h0.5M148.5 62.9h0.5M149.9 56.1h0.5M146.9 60.5h0.5M152.0 52.0h0.5M150.1 55.7h0.5M152.5 52.5h0.5M147.9 62.0h0.5M146.3 62.3h0.5M150.2 56.9h0.5M149.8 55.8h0.5M145.9 62.8h0.5M150.6 53.3h0.5M151.0 53.7h0.5M147.9 55.1h0.5M151.5 57.4h0.5M152.2 53.0h0.5M148.6 64.9h0.5M147.4 63.9h0.5M148.3 60.1h0.5M149.5 62.4h0.5M150.5 60.9h0.5M146.8 65.2h0.5M153.2 51.2h0.5M148.6 61.0h0.5M147.3 64.9h0.5M152.4 54.0h0.5M152.7 55.2h0.5M150.0 57.8h0.5M152.8 54.9h0.5M150.0 59.6h0.5M145.4 62.7h0.5M147.3 57.0h0.5M148.3 59.7h0.5M146.8 64.2h0.5M147.8 63.4h0.5M149.0 54.9h0.5M149.9 54.9h0.5M150.4 56.9h0.5M146.6 63.6h0.5M148.5 62.9h0.5M150.2 56.7h0.5M147.2 59.6h0.5M146.2 63.7h0.5M151.9 57.4h0.5M151.0 54.5h0.5M150.4 58.4h0.5M146.8 62.4h0.5M151.9 55.8h0.5M151.3 57.4h0.5M153.2 59.0h0.5M150.3 56.0h0.5M147.7 60.2h0.5M146.7 60.2h0.5M152.9 52.6h0.5M147.2 56.8h0.5M147.8 61.1h0.5M148.4 57.9h0.5M147.1 60.7h0.5M147.2 62.1h0.5M153.6 52.0h0.5M147.5 64.8h0.5M147.8 64.6h0.5M147.2 56.2h0.5M149.4 64.5h0.5M147.9 55.6h0.5M146.9 57.8h0.5M152.9 55.2h0.5M152.1 56.1h0.5M146.7 60.5h0.5M147.7 64.7h0.5M146.0 58.0h0.5M150.2 59.0h0.5M146.4 58.8h0.5M150.5 58.8h0.5M151.9 58.0h0.5M149.0 55.2h0.5M148.9 53.9h0.5M147.5 61.4h0.5M151.7 53.5h0.5M150.6 55.5h0.5M148.3 59.2h0.5M146.8 58.7h0.5M147.4 58.7h0.5M146.1 60.7h0.5M150.4 57.2h0.5M149.2 57.8h0.5M146.5 58.9h0.5M151.1 60.7h0.5M150.0 53.3h0.5M146.1 61.4h0.5M151.7 54.8h0.5M152.5 57.4h0.5M146.7 60.6h0.5M149.3 61.8h0.5M151.6 57.1h0.5M152.3 54.3h0.5M146.2 63.2h0.5M148.8 56.7h0.5M150.7 55.2h0.5M151.3 57.2h0.5M149.7 60.1h0.5M150.3 63.0h0.5M146.6 63.4h0.5M154.1 53.5h0.5M150.9 54.5h0.5M150.2 57.5h0.5M146.4 65.1h0.5M152.0 52.6h0.5M147.7 60.8h0.5M146.3 64.9h0.5M147.3 64.8h0.5M147.6 59.1h0.5M144.7 64.3h0.5M148.0 58.0h0.5M147.8 58.9h0.5M146.2 58.4h0.5M145.2 64.3h0.5M151.0 54.3h0.5M151.9 59.6h0.5M147.3 64.1h0.5M153.0 57.0h0.5M146.6 59.9h0.5M151.1 55.1h0.5M147.8 58.6h0.5M151.6 60.6h0.5M150.1 54.0h0.5M151.0 56.1h0.5M147.0 57.9h0.5M147.4 62.2h0.5M151.4 56.2h0.5M153.6 53.0h0.5M151.0 57.9h0.5M149.2 55.2h0.5M152.5 54.6h0.5M148.7 62.3h0.5M148.3 61.2h0.5M150.4 62.1h0.5M151.9 53.7h0.5M151.9 55.4h0.5M147.9 57.8h0.5M150.4 56.9h0.5M150.3 55.6h0.5M148.6 57.5h0.5M150.2 58.5h0.5M152.4 57.6h0.5M147.7 61.8h0.5M153.0 55.8h0.5M147.5 61.0h0.5M152.0 56.7h0.5M150.0 57.1h0.5M148.0 56.3h0.5M152.2 55.9h0.5M151.2 58.9h0.5M146.3 63.5h0.5M151.5 59.6h0.5M147.7 64.5h0.5M150.6 52.1h0.5M148.4 56.6h0.5M151.8 58.9h0.5M150.5 62.0h0.5M149.3 55.1h0.5M147.2 62.9h0.5M146.6 63.2h0.5M145.7 63.9h0.5M146.6 57.0h0.5M152.6 53.7h0.5M151.8 59.3h0.5M152.8 56.4h0.5M146.6 61.0h0.5M145.8 62.1h0.5M152.5 53.1h0.5M150.5 58.7h0.5M151.7 55.7h0.5M152.0 52.0h0.5M149.8 58.6h0.5M150.8 60.1h0.5M148.9 55.2h0.5M151.3 52.9h0.5M152.3 58.6h0.5M148.3 58.6h0.5M149.5 59.9h0.5M153.0 54.3h0.5M153.2 55.9h0.5M149.5 60.4h0.5M151.0 55.8h0.5M149.6 56.4h0.5M148.6 55.0h0.5M148.4 56.1h0.5M152.5 55.6h0.5M149.7 55.7h0.5M144.4 66.7h0.5M151.1 56.1h0.5M146.7 62.2h0.5M148.8 65.0h0.5M146.6 64.8h0.5M151.4 55.8h0.5M148.9 55.6h0.5M149.7 55.9h0.5M149.2 58.7h0.5M150.4 58.0h0.5M150.4 57.4h0.5M146.4 60.3h0.5M148.7 57.0h0.5M149.1 59.7h0.5M148.9 54.6h0.5M147.3 61.9h0.5M145.6 63.0h0.5M147.9 65.3h0.5M148.1 64.2h0.5M150.4 56.0h0.5M151.8 55.4h0.5M151.3 58.4h0.5M145.9 64.1h0.5M151.1 57.2h0.5M151.8 57.9h0.5M147.8 57.4h0.5M148.4 62.0h0.5M148.1 55.6h0.5M147.1 56.6h0.5M147.0 62.5h0.5M147.2 63.5h0.5M149.2 63.7h0.5M147.7 58.1h0.5M151.9 57.8h0.5M147.5 58.2h0.5M150.2 60.3h0.5M152.7 53.7h0.5M148.6 64.7h0.5M148.4 62.9h0.5M146.9 61.0h0.5M151.3 58.6h0.5M148.4 60.8h0.5M147.9 64.5h0.5M148.1 62.9h0.5M149.2 64.2h0.5M149.1 57.9h0.5M150.1 59.6h0.5M153.5 55.1h0.5M146.6 64.9h0.5M152.3 55.4h0.5M150.9 53.4h0.5M151.0 62.3h0.5M150.2 57.0h0.5M147.2 60.0h0.5M151.7 55.8h0.5M145.3 63.9h0.5M149.2 57.2h0.5M148.3 56.3h0.5M150.0 58.2h0.5M150.0 57.8h0.5M150.0 60.8h0.5M148.6 64.4h0.5M147.4 59.4h0.5M148.7 58.2h0.5M151.5 57.1h0.5M149.1 64.1h0.5M144.9 64.2h0.5M146.5 59.1h0.5M146.4 60.2h0.5M150.8 62.0h0.5M148.0 61.4h0.5M148.5 63.2h0.5M153.2 53.5h0.5M153.4 56.9h0.5M146.6 62.8h0.5M150.3 53.7h0.5M149.5 64.4h0.5M150.8 60.8h0.5M151.7 56.3h0.5M149.4 58.4h0.5M152.8 55.7h0.5M150.7 58.7h0.5M150.4 55.0h0.5M151.6 59.2h0.5M148.7 62.3h0.5M151.9 60.2h0.5M151.6 56.2h0.5M151.8 59.2h0.5M147.2 58.0h0.5M149.1 60.9h0.5M152.3 58.7h0.5M148.0 59.3h0.5M152.9 57.2h0.5M150.6 60.0h0.5M148.8 61.5h0.5M148.4 62.4h0.5M149.5 58.2h0.5M150.8 53.5h0.5M146.5 60.0h0.5M150.7 61.6h0.5M147.8 58.8h0.5M145.9 64.5h0.5M150.5 55.3h0.5M150.5 57.0h0.5M146.4 59.4h0.5M145.9 60.4h0.5M151.4 56.1h0.5M153.5 51.4h0.5M151.6 55.6h0.5M151.6 51.5h0.5M147.4 62.8h0.5M149.2 61.4h0.5M145.8 60.3h0.5M148.6 57.0h0.5M152.1 55.6h0.5M147.2 61.9h0.5M146.8 61.3h0.5M147.4 64.8h0.5M153.0 56.1h0.5M149.4 54.6h0.5M150.9 55.8h0.5M149.2 55.8h0.5M147.4 63.2h0.5M146.0 60.9h0.5M148.7 62.6h0.5M149.0 62.2h0.5M152.9 56.6h0.5M150.6 59.0h0.5M149.3 64.0h0.5M149.6 62.1h0.5M151.6 58.6h0.5M150.2 55.5h0.5M152.3 57.1h0.5M152.9 54.5h0.5M149.6 60.3h0.5M148.9 60.6h0.5M147.2 64.5h0.5M146.2 59.7h0.5M146.8 65.8h0.5M147.3 61.2h0.5M147.1 60.6h0.5M149.1 55.9h0.5M151.5 59.0h0.5M151.8 58.6h0.5M151.2 57.9h0.5M149.6 55.3h0.5M146.1 63.8h0.5M152.9 53.1h0.5M148.0 56.6h0.5M151.2 57.8h0.5M150.9 59.6h0.5M150.5 58.9h0.5M147.5 63.2h0.5M147.0 58.0h0.5M146.8 59.4h0.5M146.7 60.5h0.5M148.0 58.2h0.5M149.9 62.1h0.5M152.6 54.6h0.5M145.4 62.8h0.5M152.6 56.0h0.5M151.4 52.9h0.5M149.4 56.2h0.5M147.2 65.9h0.5M148.8 59.5h0.5M147.9 58.2h0.5M146.6 61.7h0.5M149.4 55.1h0.5M151.5 52.9h0.5" stroke="#3f4f8f" stroke-width="0.5" stroke-opacity="0.45" fill="none"/>
<path d="M151.2 62.0h0.5M153.1 53.3h0.5M149.0 60.1h0.5M149.7 58.7h0.5M150.6 57.5h0.5M149.4 55.5h0.5M151.0 56.5h0.5M148.3 58.6h0.5M149.3 60.2h0.5M148.4 64.8h0.5M149.7 59.9h0.5M150.3 54.8h0.5M148.7 60.3h0.5M151.4 57.2h0.5M149.9 56.3h0.5M148.4 57.4h0.5M149.0 59.7h0.5M148.7 59.6h0.5M149.5 58.4h0.5M148.1 63.0h0.5M150.8 54.6h0.5M148.4 61.0h0.5M150.3 60.4h0.5M149.9 60.3h0.5M150.7 59.6h0.5M150.3 57.4h0.5M150.6 55.1h0.5M150.4 57.9h0.5M149.6 53.6h0.5M148.1 58.8h0.5M151.5 57.0h0.5M150.0 56.1h0.5M149.2 57.7h0.5M149.2 56.1h0.5M149.3 61.2h0.5M149.7 54.4h0.5M152.1 56.8h0.5M150.2 58.0h0.5M147.4 58.5h0.5M150.0 55.9h0.5M147.5 60.8h0.5M151.2 56.7h0.5M151.3 56.2h0.5M151.7 51.6h0.5M149.0 58.3h0.5M151.7 55.0h0.5M149.7 56.4h0.5M149.8 63.1h0.5M147.7 61.4h0.5M149.7 59.9h0.5M148.6 54.4h0.5M151.7 54.7h0.5M148.8 58.7h0.5M150.5 57.3h0.5M151.3 58.3h0.5M147.1 64.8h0.5M147.9 54.4h0.5M148.7 53.7h0.5M147.7 64.2h0.5M147.8 60.4h0.5M148.3 58.0h0.5M150.9 59.0h0.5M150.5 55.5h0.5M152.0 55.7h0.5M150.3 60.2h0.5M150.0 56.4h0.5M149.3 60.1h0.5M148.0 58.6h0.5M150.5 57.9h0.5M150.3 56.9h0.5M151.0 60.7h0.5M152.6 53.7h0.5M149.8 57.7h0.5M148.9 58.0h0.5M150.2 56.2h0.5M149.1 60.0h0.5M150.9 57.8h0.5M148.5 65.2h0.5M146.6 62.3h0.5M148.1 58.8h0.5M149.7 59.7h0.5M147.9 58.7h0.5M149.0 60.0h0.5M148.2 56.0h0.5M150.5 55.0h0.5M148.7 59.4h0.5M150.4 55.5h0.5M149.3 57.0h0.5M149.1 61.7h0.5M149.5 62.3h0.5M150.6 58.5h0.5M150.5 55.4h0.5M148.4 60.6h0.5M146.9 63.5h0.5M149.8 55.5h0.5M150.7 55.2h0.5M149.3 58.8h0.5M150.5 55.4h0.5M152.0 53.1h0.5M149.9 60.9h0.5M148.6 59.0h0.5M149.1 59.2h0.5M151.5 55.7h0.5M149.1 60.6h0.5M148.5 58.8h0.5M149.6 54.5h0.5M151.5 55.9h0.5M149.5 55.1h0.5M149.3 60.9h0.5M149.0 56.7h0.5M151.3 60.6h0.5M149.4 55.4h0.5M152.4 57.8h0.5M151.4 56.8h0.5M151.2 59.4h0.5M151.4 58.5h0.5M150.8 57.5h0.5M149.2 58.7h0.5M153.0 58.5h0.5M148.4 60.6h0.5M148.9 61.5h0.5M146.5 62.2h0.5M149.7 58.7h0.5M151.3 56.4h0.5M149.4 56.9h0.5M148.0 63.5h0.5M149.9 57.1h0.5M149.5 58.0h0.5M150.4 59.0h0.5M151.1 58.1h0.5M149.5 56.5h0.5M149.1 54.0h0.5M151.6 55.3h0.5M150.4 52.8h0.5M149.9 56.5h0.5M148.3 59.4h0.5M152.3 55.2h0.5M151.2 62.4h0.5M150.0 55.8h0.5M151.4 61.9h0.5M149.5 59.8h0.5M150.6 54.9h0.5M150.5 60.4h0.5M153.1 56.3h0.5M150.2 56.5h0.5M149.3 58.5h0.5M152.8 57.1h0.5M151.5 57.1h0.5M146.7 56.6h0.5M149.0 59.8h0.5M149.7 55.7h0.5M148.8 58.8h0.5M149.9 58.4h0.5M149.7 56.9h0.5M149.3 58.3h0.5M152.5 58.5h0.5M148.2 56.7h0.5M150.3 57.6h0.5M150.7 58.1h0.5M149.5 54.0h0.5M148.0 59.0h0.5M148.1 58.8h0.5M149.6 61.8h0.5M146.3 63.8h0.5M151.1 56.7h0.5M148.9 56.5h0.5M149.7 54.0h0.5M148.9 62.2h0.5M150.1 60.6h0.5M147.7 59.1h0.5" stroke="#2f747c" stroke-width="0.5" stroke-opacity="0.6" fill="none"/>
<path d="M135.6 77.3h0.45M143.1 73.4h0.45M135.2 85.1h0.45M140.1 81.9h0.45M133.3 84.2h0.45M136.0 81.1h0.45M142.6 67.3h0.45M144.3 77.4h0.45M135.8 75.1h0.45M130.7 91.6h0.45M138.1 86.0h0.45M134.8 77.7h0.45M141.3 78.6h0.45M145.9 73.6h0.45M138.2 76.0h0.45M139.9 79.3h0.45M138.8 82.1h0.45M139.5 85.8h0.45M139.1 85.3h0.45M146.6 80.6h0.45M146.4 76.0h0.45M133.8 80.1h0.45M134.1 77.9h0.45M131.5 85.9h0.45M146.1 70.1h0.45M142.2 73.5h0.45M140.6 70.2h0.45M137.0 81.7h0.45M144.1 62.5h0.45M143.1 77.9h0.45M140.9 69.5h0.45M136.3 91.6h0.45M136.5 74.3h0.45M141.7 74.8h0.45M142.5 68.0h0.45M133.8 78.3h0.45M138.1 76.0h0.45M134.0 77.5h0.45M133.1 83.8h0.45M144.2 73.9h0.45M141.5 79.3h0.45M145.3 73.2h0.45M145.0 66.5h0.45M136.0 72.6h0.45M140.6 76.8h0.45M134.0 88.5h0.45M142.7 73.4h0.45M136.4 86.4h0.45M130.8 86.0h0.45M139.9 75.6h0.45M133.9 86.7h0.45M140.8 84.2h0.45M140.8 71.5h0.45M144.6 80.4h0.45M133.8 78.2h0.45M137.2 80.4h0.45M142.2 65.6h0.45M140.2 84.4h0.45M147.1 69.1h0.45M140.0 79.2h0.45M139.9 74.9h0.45M141.7 74.8h0.45M134.0 85.6h0.45M146.2 78.0h0.45M136.7 85.6h0.45M138.2 71.8h0.45M133.2 87.7h0.45M141.3 71.8h0.45M136.7 88.2h0.45M143.2 67.9h0.45M148.2 74.2h0.45M133.6 79.5h0.45M132.2 80.5h0.45M135.8 82.6h0.45M143.1 72.9h0.45M144.4 83.1h0.45M140.3 86.7h0.45M140.2 75.8h0.45M138.7 79.7h0.45M143.2 81.5h0.45M145.6 74.4h0.45M146.3 70.9h0.45M135.5 87.8h0.45M145.5 73.2h0.45M138.1 87.9h0.45M136.5 82.4h0.45M141.5 77.6h0.45M144.3 72.8h0.45M136.3 77.4h0.45M141.3 68.5h0.45M135.1 83.6h0.45M137.5 76.5h0.45M140.8 85.3h0.45M133.4 85.9h0.45M147.1 66.2h0.45M137.3 81.8h0.45M141.5 71.0h0.45M138.0 81.6h0.45M136.8 87.3h0.45M135.5 87.5h0.45M133.8 89.9h0.45M136.9 76.8h0.45M136.8 71.1h0.45M136.4 88.9h0.45M131.2 85.5h0.45M144.1 63.2h0.45M141.8 68.9h0.45M148.0 65.7h0.45M142.1 68.9h0.45M133.2 80.3h0.45M141.5 72.0h0.45M143.4 66.7h0.45M143.5 72.4h0.45M138.6 68.6h0.45M133.9 84.8h0.45M147.0 70.4h0.45M138.9 79.2h0.45M134.7 80.5h0.45M133.8 79.9h0.45M134.3 86.1h0.45M139.1 76.4h0.45M138.7 79.5h0.45M140.8 80.6h0.45M141.1 75.5h0.45M138.6 73.8h0.45M141.1 69.7h0.45M138.6 79.0h0.45M137.9 83.7h0.45M134.9 81.3h0.45M138.6 79.8h0.45M142.3 86.2h0.45M148.0 69.7h0.45M137.4 83.5h0.45M146.0 73.4h0.45M135.5 80.6h0.45M135.0 84.5h0.45M142.8 77.7h0.45M148.5 69.5h0.45M137.4 78.4h0.45M139.0 71.9h0.45M143.9 79.4h0.45M148.2 71.1h0.45M136.7 71.5h0.45M139.6 84.5h0.45M144.4 83.3h0.45M146.9 70.5h0.45M139.2 85.6h0.45M139.6 74.8h0.45M145.6 70.4h0.45M137.5 74.8h0.45M141.9 83.6h0.45M133.7 81.2h0.45M138.0 75.1h0.45M138.4 85.9h0.45M143.6 76.6h0.45M133.4 75.4h0.45M143.1 81.4h0.45M143.8 70.5h0.45M140.9 83.0h0.45M138.8 85.9h0.45M142.2 79.5h0.45M145.5 61.9h0.45M134.2 91.5h0.45M146.1 66.1h0.45M134.3 86.7h0.45M136.0 83.2h0.45M138.9 79.1h0.45M148.5 77.5h0.45M136.0 82.1h0.45M145.5 74.3h0.45M141.2 69.5h0.45M148.4 74.2h0.45M141.3 83.7h0.45M138.7 80.7h0.45M141.7 81.1h0.45M130.6 88.7h0.45M143.6 80.7h0.45M143.6 77.0h0.45M148.8 72.2h0.45M132.7 86.8h0.45M142.7 67.7h0.45M141.9 63.7h0.45M138.9 69.3h0.45M150.6 68.3h0.45M148.4 67.4h0.45M136.3 73.1h0.45M136.0 88.2h0.45M131.4 81.3h0.45M143.4 65.4h0.45M130.3 81.7h0.45M147.5 75.2h0.45M143.7 71.5h0.45M144.2 65.5h0.45M141.8 77.7h0.45M142.4 85.8h0.45M139.0 72.6h0.45M139.1 79.5h0.45M138.5 82.5h0.45M141.6 71.3h0.45M137.3 76.0h0.45M144.2 72.9h0.45M143.7 71.6h0.45M138.2 71.8h0.45M136.1 80.3h0.45M150.1 64.2h0.45M137.2 80.3h0.45M149.8 65.8h0.45M147.2 72.9h0.45M141.6 80.9h0.45M141.0 84.6h0.45M141.9 85.0h0.45M139.7 73.6h0.45M137.2 76.9h0.45M139.3 82.6h0.45M132.3 81.7h0.45M144.2 81.8h0.45M141.7 67.8h0.45M149.0 71.4h0.45M140.6 78.6h0.45M148.3 73.4h0.45M136.8 71.0h0.45M144.9 74.2h0.45M141.5 67.7h0.45M139.4 86.3h0.45M138.6 75.0h0.45M142.4 71.8h0.45M140.4 87.4h0.45M147.0 65.9h0.45M141.1 67.6h0.45M142.1 69.0h0.45M136.5 78.5h0.45M139.1 80.5h0.45M141.9 79.7h0.45M136.0 87.4h0.45M143.7 81.2h0.45M142.7 79.7h0.45M138.2 76.2h0.45M144.9 67.2h0.45M144.1 76.4h0.45M134.5 84.3h0.45M140.8 79.2h0.45M135.9 76.1h0.45M147.6 75.5h0.45M144.0 66.2h0.45M139.3 70.9h0.45M140.1 89.3h0.45M146.2 63.8h0.45M138.8 71.0h0.45M135.5 84.1h0.45M137.2 84.1h0.45M140.3 82.1h0.45M138.0 84.0h0.45M136.9 85.0h0.45M136.8 72.3h0.45M132.9 86.1h0.45M141.4 80.2h0.45M149.6 65.0h0.45M144.3 75.0h0.45M130.0 87.7h0.45M134.9 82.7h0.45M141.7 76.8h0.45M134.8 78.8h0.45M139.7 69.6h0.45M141.7 79.5h0.45M145.8 80.4h0.45M141.8 70.9h0.45M139.5 84.0h0.45M130.1 83.8h0.45M138.0 87.4h0.45M134.9 80.3h0.45M136.6 88.8h0.45M144.7 71.1h0.45M135.7 75.1h0.45M136.4 79.2h0.45M137.8 89.8h0.45M142.1 84.0h0.45M137.0 88.3h0.45M149.6 66.2h0.45M144.3 79.1h0.45M141.1 79.8h0.45M135.7 81.6h0.45M137.8 77.0h0.45M142.7 67.6h0.45M135.1 85.5h0.45M146.1 78.6h0.45M135.3 88.5h0.45M132.6 86.9h0.45M141.6 85.1h0.45M149.8 67.7h0.45M143.3 76.8h0.45M132.1 87.4h0.45M146.3 72.2h0.45M146.5 66.9h0.45M137.6 85.2h0.45M138.0 72.1h0.45M136.9 81.7h0.45M139.1 86.1h0.45M137.5 74.2h0.45M133.2 85.5h0.45M138.0 78.7h0.45M133.3 91.4h0.45M138.3 75.1h0.45M143.3 63.1h0.45M148.8 61.8h0.45M140.9 84.3h0.45M131.8 84.7h0.45M140.1 86.3h0.45M136.8 74.3h0.45M143.6 69.1h0.45M144.6 78.4h0.45M149.9 71.6h0.45M137.1 75.1h0.45M141.1 67.1h0.45M143.8 70.4h0.45M149.3 67.0h0.45M142.9 75.6h0.45M145.9 64.8h0.45M133.5 78.8h0.45M132.6 87.6h0.45M146.8 74.5h0.45M144.6 65.0h0.45M140.6 69.9h0.45M137.3 81.2h0.45M141.0 73.6h0.45M132.3 86.6h0.45M134.5 85.6h0.45M139.0 74.3h0.45M130.5 91.4h0.45M133.8 82.8h0.45M148.2 64.1h0.45M146.3 73.3h0.45M134.6 83.7h0.45M144.4 80.8h0.45M134.3 79.8h0.45M134.4 82.1h0.45M137.2 82.6h0.45M147.3 67.8h0.45M143.8 80.6h0.45M146.9 77.3h0.45M141.0 81.7h0.45M141.7 69.9h0.45M143.2 78.3h0.45M141.9 82.0h0.45M139.6 71.6h0.45M141.2 70.3h0.45M148.6 63.6h0.45M138.3 70.5h0.45M145.1 77.7h0.45M140.8 74.9h0.45M136.0 85.3h0.45M142.0 83.2h0.45M144.5 70.8h0.45M150.9 62.1h0.45M145.5 75.8h0.45M134.3 76.9h0.45M138.5 87.4h0.45M136.1 85.1h0.45M148.6 61.7h0.45M135.5 88.6h0.45M144.4 79.1h0.45M140.5 68.7h0.45M138.6 80.7h0.45M146.5 72.1h0.45M132.0 86.2h0.45M131.1 83.5h0.45M141.3 79.0h0.45M148.9 69.9h0.45M145.3 64.2h0.45M134.2 81.8h0.45M136.8 88.9h0.45M147.6 70.6h0.45M136.5 75.2h0.45M135.0 76.9h0.45M138.7 87.4h0.45M143.7 68.2h0.45M141.8 78.4h0.45M134.9 85.9h0.45M141.8 86.6h0.45M145.7 70.7h0.45M143.2 68.8h0.45M136.7 90.8h0.45M135.0 89.4h0.45M144.3 83.1h0.45M142.4 74.6h0.45M136.8 82.2h0.45M132.8 91.7h0.45M141.6 84.7h0.45M141.4 78.0h0.45M137.8 71.2h0.45M145.6 66.1h0.45M140.8 72.3h0.45M139.6 73.3h0.45M145.6 75.8h0.45M141.4 70.0h0.45M139.5 81.2h0.45M137.2 77.6h0.45M136.2 89.9h0.45M139.9 82.8h0.45M142.6 71.9h0.45M147.9 77.0h0.45M141.6 76.9h0.45M149.9 67.5h0.45M138.8 73.8h0.45M146.4 71.1h0.45M133.1 90.2h0.45M134.4 79.8h0.45M147.6 73.3h0.45M145.3 77.1h0.45M136.2 75.0h0.45M145.1 78.1h0.45M148.5 64.1h0.45M143.5 75.7h0.45M137.3 78.8h0.45M140.0 81.7h0.45M142.3 81.3h0.45M143.3 76.8h0.45M145.1 80.0h0.45M131.8 91.3h0.45M133.0 91.3h0.45M147.4 64.7h0.45M134.1 82.0h0.45M138.1 76.5h0.45M138.5 80.2h0.45M136.7 92.3h0.45M141.4 78.9h0.45M142.0 79.6h0.45M138.9 76.3h0.45M148.7 65.2h0.45M138.4 78.6h0.45M137.8 83.5h0.45M136.1 83.7h0.45M145.0 70.1h0.45M133.4 81.6h0.45M136.7 81.4h0.45M147.0 62.8h0.45M143.4 65.4h0.45M139.6 72.8h0.45M146.8 70.0h0.45M135.7 78.7h0.45M145.0 71.3h0.45M133.1 80.9h0.45M146.9 62.9h0.45M146.7 73.3h0.45M137.3 85.4h0.45M139.3 76.4h0.45M143.1 72.2h0.45M148.5 65.2h0.45M139.6 75.7h0.45M145.9 76.0h0.45M147.4 64.7h0.45M146.6 74.1h0.45M142.9 81.3h0.45M141.2 83.9h0.45M148.2 74.7h0.45M149.7 65.5h0.45M135.0 89.4h0.45M140.8 70.3h0.45M140.5 84.1h0.45M144.2 78.0h0.45M135.8 77.6h0.45M130.9 91.1h0.45M138.5 81.0h0.45M137.5 77.0h0.45M135.3 87.5h0.45M141.2 72.4h0.45M145.1 67.7h0.45M140.3 76.4h0.45M145.5 70.8h0.45M135.1 76.9h0.45M134.0 88.7h0.45M139.1 81.1h0.45M147.5 62.2h0.45M146.2 60.9h0.45M146.1 73.3h0.45M140.0 80.5h0.45M150.7 64.3h0.45M135.2 81.3h0.45M149.9 69.6h0.45M145.7 65.5h0.45M137.0 84.5h0.45M145.4 76.1h0.45M133.5 81.2h0.45M133.0 86.1h0.45M146.6 65.3h0.45M136.8 79.3h0.45M130.9 86.4h0.45M140.2 83.5h0.45M138.0 82.2h0.45M147.7 70.2h0.45M144.2 76.2h0.45M130.4 84.1h0.45M146.3 73.8h0.45M144.6 63.0h0.45M140.4 84.5h0.45M145.0 67.0h0.45M148.7 71.7h0.45M129.1 90.7h0.45M144.9 75.6h0.45M149.3 71.2h0.45M146.9 74.0h0.45M142.8 85.3h0.45M138.6 72.3h0.45M141.1 70.3h0.45M140.7 77.5h0.45M146.0 70.0h0.45M137.7 73.3h0.45M130.9 86.6h0.45M144.4 83.0h0.45M139.0 82.9h0.45M136.1 86.2h0.45M134.1 82.6h0.45M137.1 80.3h0.45M149.0 70.3h0.45M135.6 84.4h0.45M142.7 72.9h0.45M147.9 74.1h0.45M132.5 88.6h0.45M142.3 81.1h0.45M138.8 84.8h0.45M132.1 85.0h0.45M139.7 76.2h0.45M136.7 84.2h0.45M139.3 84.9h0.45M141.6 72.9h0.45M146.1 67.2h0.45M138.0 74.2h0.45M135.9 88.8h0.45M135.4 82.4h0.45M136.9 82.8h0.45M144.2 70.5h0.45M140.0 73.0h0.45M135.0 80.2h0.45M146.5 65.6h0.45M143.3 73.2h0.45M139.0 82.7h0.45M146.4 79.7h0.45M136.4 82.0h0.45M137.2 83.1h0.45M149.5 68.2h0.45M145.4 76.8h0.45M133.5 84.7h0.45M134.0 89.6h0.45M136.2 88.3h0.45M133.7 82.2h0.45M137.4 76.5h0.45M147.3 74.7h0.45M142.6 75.1h0.45M140.4 74.4h0.45M143.2 69.3h0.45M136.5 76.9h0.45M140.8 83.1h0.45M135.8 89.8h0.45M141.3 76.3h0.45M131.8 88.4h0.45M133.6 88.7h0.45M133.8 84.2h0.45M142.8 67.2h0.45M136.7 74.8h0.45M144.3 79.5h0.45M148.3 66.4h0.45" stroke="#4a5aa0" stroke-width="0.45" stroke-opacity="0.4" fill="none"/>
<path d="M131.5 69.2h0.4M140.1 84.5h0.4M126.6 79.2h0.4M138.1 73.4h0.4M142.9 76.8h0.4M138.4 58.5h0.4M109.2 60.4h0.4M143.9 61.8h0.4M130.0 75.9h0.4M148.0 87.6h0.4M138.9 69.6h0.4M137.8 63.6h0.4M143.0 65.5h0.4M131.3 75.9h0.4M138.6 62.2h0.4M134.3 65.9h0.4M143.8 80.0h0.4M147.4 85.2h0.4M129.6 75.0h0.4M133.6 73.7h0.4M129.8 71.1h0.4M156.7 79.2h0.4M130.1 47.5h0.4M137.3 75.8h0.4M135.7 75.8h0.4M128.6 70.9h0.4M143.8 70.7h0.4M135.2 77.6h0.4M148.9 69.6h0.4M128.7 79.7h0.4M141.6 66.8h0.4M160.9 77.6h0.4M147.3 82.1h0.4M138.0 64.7h0.4M147.5 83.0h0.4M125.8 77.5h0.4M143.2 76.4h0.4M142.0 85.8h0.4M143.5 77.9h0.4M143.7 66.0h0.4M145.6 79.7h0.4M132.0 84.3h0.4M132.9 70.8h0.4M127.6 71.7h0.4M143.2 71.6h0.4M119.7 69.7h0.4M137.0 66.8h0.4M129.7 80.8h0.4M140.1 83.8h0.4M160.9 62.2h0.4M132.6 72.7h0.4M149.2 71.3h0.4M152.3 80.6h0.4M126.6 83.7h0.4M136.4 77.8h0.4M140.6 84.6h0.4M129.5 82.4h0.4M133.6 80.1h0.4M135.8 78.8h0.4M139.7 83.9h0.4" stroke="#3f4f8f" stroke-width="0.4" stroke-opacity="0.28" fill="none"/>
</g>
<rect x="104.7" y="30.3" width="62.1" height="62.0" fill="none" stroke="#666" stroke-width="0.9" />
<rect x="133.3" y="47.5" width="24.799999999999983" height="23.400000000000006" fill="none" stroke="#a0a0a0" stroke-width="0.55" />
<text x="128.8" y="26.3" font-size="8.1" text-anchor="start" fill="#28286e" >Het1</text>
<text x="137.8" y="45.9" font-size="6.1" text-anchor="start" fill="#444" stroke="#444" stroke-width="0.12">39.4%</text>
<line x1="102.7" y1="36" x2="104.7" y2="36" stroke="#333" stroke-width="0.75" />
<text x="101.60000000000001" y="37.9" font-size="3.7" text-anchor="end" fill="#2e2e2e" font-weight="bold" >10</text>
<text x="101.5" y="35.9" font-size="2.6" text-anchor="start" fill="#2e2e2e" font-weight="bold" >5</text>
<line x1="103.4" y1="37.6" x2="104.7" y2="37.6" stroke="#444" stroke-width="0.5" />
<line x1="103.4" y1="34.4" x2="104.7" y2="34.4" stroke="#444" stroke-width="0.5" />
<line x1="103.4" y1="39.0" x2="104.7" y2="39.0" stroke="#444" stroke-width="0.5" />
<line x1="103.4" y1="33.0" x2="104.7" y2="33.0" stroke="#444" stroke-width="0.5" />
<line x1="103.4" y1="40.3" x2="104.7" y2="40.3" stroke="#444" stroke-width="0.5" />
<line x1="103.4" y1="31.7" x2="104.7" y2="31.7" stroke="#444" stroke-width="0.5" />
<line x1="103.4" y1="41.5" x2="104.7" y2="41.5" stroke="#444" stroke-width="0.5" />
<line x1="103.4" y1="30.5" x2="104.7" y2="30.5" stroke="#444" stroke-width="0.5" />
<line x1="103.4" y1="42.6" x2="104.7" y2="42.6" stroke="#444" stroke-width="0.5" />
<line x1="103.4" y1="43.6" x2="104.7" y2="43.6" stroke="#444" stroke-width="0.5" />
<line x1="103.4" y1="44.5" x2="104.7" y2="44.5" stroke="#444" stroke-width="0.5" />
<line x1="103.4" y1="45.4" x2="104.7" y2="45.4" stroke="#444" stroke-width="0.5" />
<line x1="103.4" y1="46.2" x2="104.7" y2="46.2" stroke="#444" stroke-width="0.5" />
<line x1="103.4" y1="47.0" x2="104.7" y2="47.0" stroke="#444" stroke-width="0.5" />
<line x1="103.4" y1="47.7" x2="104.7" y2="47.7" stroke="#444" stroke-width="0.5" />
<line x1="102.7" y1="48.2" x2="104.7" y2="48.2" stroke="#333" stroke-width="0.75" />
<text x="101.60000000000001" y="50.1" font-size="3.7" text-anchor="end" fill="#2e2e2e" font-weight="bold" >10</text>
<text x="101.5" y="48.1" font-size="2.6" text-anchor="start" fill="#2e2e2e" font-weight="bold" >4</text>
<line x1="103.4" y1="49.800000000000004" x2="104.7" y2="49.800000000000004" stroke="#444" stroke-width="0.5" />
<line x1="103.4" y1="51.2" x2="104.7" y2="51.2" stroke="#444" stroke-width="0.5" />
<line x1="103.4" y1="52.5" x2="104.7" y2="52.5" stroke="#444" stroke-width="0.5" />
<line x1="103.4" y1="53.7" x2="104.7" y2="53.7" stroke="#444" stroke-width="0.5" />
<line x1="103.4" y1="54.800000000000004" x2="104.7" y2="54.800000000000004" stroke="#444" stroke-width="0.5" />
<line x1="103.4" y1="55.800000000000004" x2="104.7" y2="55.800000000000004" stroke="#444" stroke-width="0.5" />
<line x1="103.4" y1="56.7" x2="104.7" y2="56.7" stroke="#444" stroke-width="0.5" />
<line x1="103.4" y1="57.6" x2="104.7" y2="57.6" stroke="#444" stroke-width="0.5" />
<line x1="103.4" y1="58.400000000000006" x2="104.7" y2="58.400000000000006" stroke="#444" stroke-width="0.5" />
<line x1="103.4" y1="59.2" x2="104.7" y2="59.2" stroke="#444" stroke-width="0.5" />
<line x1="103.4" y1="59.900000000000006" x2="104.7" y2="59.900000000000006" stroke="#444" stroke-width="0.5" />
<line x1="102.7" y1="60.8" x2="104.7" y2="60.8" stroke="#333" stroke-width="0.75" />
<text x="101.60000000000001" y="62.699999999999996" font-size="3.7" text-anchor="end" fill="#2e2e2e" font-weight="bold" >10</text>
<text x="101.5" y="60.699999999999996" font-size="2.6" text-anchor="start" fill="#2e2e2e" font-weight="bold" >3</text>
<line x1="103.4" y1="62.4" x2="104.7" y2="62.4" stroke="#444" stroke-width="0.5" />
<line x1="103.4" y1="63.8" x2="104.7" y2="63.8" stroke="#444" stroke-width="0.5" />
<line x1="103.4" y1="65.1" x2="104.7" y2="65.1" stroke="#444" stroke-width="0.5" />
<line x1="103.4" y1="66.3" x2="104.7" y2="66.3" stroke="#444" stroke-width="0.5" />
<line x1="103.4" y1="67.39999999999999" x2="104.7" y2="67.39999999999999" stroke="#444" stroke-width="0.5" />
<line x1="103.4" y1="68.39999999999999" x2="104.7" y2="68.39999999999999" stroke="#444" stroke-width="0.5" />
<line x1="103.4" y1="69.3" x2="104.7" y2="69.3" stroke="#444" stroke-width="0.5" />
<line x1="103.4" y1="70.2" x2="104.7" y2="70.2" stroke="#444" stroke-width="0.5" />
<line x1="103.4" y1="71.0" x2="104.7" y2="71.0" stroke="#444" stroke-width="0.5" />
<line x1="103.4" y1="71.8" x2="104.7" y2="71.8" stroke="#444" stroke-width="0.5" />
<line x1="103.4" y1="72.5" x2="104.7" y2="72.5" stroke="#444" stroke-width="0.5" />
<line x1="102.7" y1="73.3" x2="104.7" y2="73.3" stroke="#333" stroke-width="0.75" />
<text x="101.60000000000001" y="75.2" font-size="3.7" text-anchor="end" fill="#2e2e2e" font-weight="bold" >10</text>
<text x="101.5" y="73.2" font-size="2.6" text-anchor="start" fill="#2e2e2e" font-weight="bold" >2</text>
<line x1="103.4" y1="74.89999999999999" x2="104.7" y2="74.89999999999999" stroke="#444" stroke-width="0.5" />
<line x1="103.4" y1="76.3" x2="104.7" y2="76.3" stroke="#444" stroke-width="0.5" />
<line x1="103.4" y1="77.6" x2="104.7" y2="77.6" stroke="#444" stroke-width="0.5" />
<line x1="103.4" y1="78.8" x2="104.7" y2="78.8" stroke="#444" stroke-width="0.5" />
<line x1="103.4" y1="79.89999999999999" x2="104.7" y2="79.89999999999999" stroke="#444" stroke-width="0.5" />
<line x1="103.4" y1="80.89999999999999" x2="104.7" y2="80.89999999999999" stroke="#444" stroke-width="0.5" />
<line x1="103.4" y1="81.8" x2="104.7" y2="81.8" stroke="#444" stroke-width="0.5" />
<line x1="103.4" y1="82.7" x2="104.7" y2="82.7" stroke="#444" stroke-width="0.5" />
<line x1="103.4" y1="83.5" x2="104.7" y2="83.5" stroke="#444" stroke-width="0.5" />
<line x1="103.4" y1="84.3" x2="104.7" y2="84.3" stroke="#444" stroke-width="0.5" />
<line x1="103.4" y1="85.0" x2="104.7" y2="85.0" stroke="#444" stroke-width="0.5" />
<line x1="102.7" y1="85.8" x2="104.7" y2="85.8" stroke="#333" stroke-width="0.75" />
<text x="101.60000000000001" y="87.7" font-size="3.7" text-anchor="end" fill="#2e2e2e" font-weight="bold" >10</text>
<text x="101.5" y="85.7" font-size="2.6" text-anchor="start" fill="#2e2e2e" font-weight="bold" >1</text>
<line x1="103.4" y1="87.39999999999999" x2="104.7" y2="87.39999999999999" stroke="#444" stroke-width="0.5" />
<line x1="103.4" y1="88.8" x2="104.7" y2="88.8" stroke="#444" stroke-width="0.5" />
<line x1="103.4" y1="90.1" x2="104.7" y2="90.1" stroke="#444" stroke-width="0.5" />
<line x1="103.4" y1="91.3" x2="104.7" y2="91.3" stroke="#444" stroke-width="0.5" />
<line x1="110.60000000000001" y1="92.3" x2="110.60000000000001" y2="94.3" stroke="#333" stroke-width="0.75" />
<text x="109.9" y="98.0" font-size="3.5" text-anchor="middle" fill="#2e2e2e" font-weight="bold" >10</text>
<text x="111.9" y="96.2" font-size="2.5" text-anchor="start" fill="#2e2e2e" font-weight="bold" >1</text>
<line x1="109.00000000000001" y1="92.3" x2="109.00000000000001" y2="93.6" stroke="#444" stroke-width="0.5" />
<line x1="107.60000000000001" y1="92.3" x2="107.60000000000001" y2="93.6" stroke="#444" stroke-width="0.5" />
<line x1="106.30000000000001" y1="92.3" x2="106.30000000000001" y2="93.6" stroke="#444" stroke-width="0.5" />
<line x1="105.10000000000001" y1="92.3" x2="105.10000000000001" y2="93.6" stroke="#444" stroke-width="0.5" />
<line x1="123.25000000000001" y1="92.3" x2="123.25000000000001" y2="94.3" stroke="#333" stroke-width="0.75" />
<text x="122.55000000000001" y="98.0" font-size="3.5" text-anchor="middle" fill="#2e2e2e" font-weight="bold" >10</text>
<text x="124.55000000000001" y="96.2" font-size="2.5" text-anchor="start" fill="#2e2e2e" font-weight="bold" >2</text>
<line x1="121.65000000000002" y1="92.3" x2="121.65000000000002" y2="93.6" stroke="#444" stroke-width="0.5" />
<line x1="120.25000000000001" y1="92.3" x2="120.25000000000001" y2="93.6" stroke="#444" stroke-width="0.5" />
<line x1="118.95000000000002" y1="92.3" x2="118.95000000000002" y2="93.6" stroke="#444" stroke-width="0.5" />
<line x1="117.75000000000001" y1="92.3" x2="117.75000000000001" y2="93.6" stroke="#444" stroke-width="0.5" />
<line x1="116.65000000000002" y1="92.3" x2="116.65000000000002" y2="93.6" stroke="#444" stroke-width="0.5" />
<line x1="115.65000000000002" y1="92.3" x2="115.65000000000002" y2="93.6" stroke="#444" stroke-width="0.5" />
<line x1="114.75000000000001" y1="92.3" x2="114.75000000000001" y2="93.6" stroke="#444" stroke-width="0.5" />
<line x1="113.85000000000001" y1="92.3" x2="113.85000000000001" y2="93.6" stroke="#444" stroke-width="0.5" />
<line x1="113.05000000000001" y1="92.3" x2="113.05000000000001" y2="93.6" stroke="#444" stroke-width="0.5" />
<line x1="112.25000000000001" y1="92.3" x2="112.25000000000001" y2="93.6" stroke="#444" stroke-width="0.5" />
<line x1="111.55000000000001" y1="92.3" x2="111.55000000000001" y2="93.6" stroke="#444" stroke-width="0.5" />
<line x1="135.9" y1="92.3" x2="135.9" y2="94.3" stroke="#333" stroke-width="0.75" />
<text x="135.20000000000002" y="98.0" font-size="3.5" text-anchor="middle" fill="#2e2e2e" font-weight="bold" >10</text>
<text x="137.20000000000002" y="96.2" font-size="2.5" text-anchor="start" fill="#2e2e2e" font-weight="bold" >3</text>
<line x1="134.3" y1="92.3" x2="134.3" y2="93.6" stroke="#444" stroke-width="0.5" />
<line x1="132.9" y1="92.3" x2="132.9" y2="93.6" stroke="#444" stroke-width="0.5" />
<line x1="131.6" y1="92.3" x2="131.6" y2="93.6" stroke="#444" stroke-width="0.5" />
<line x1="130.4" y1="92.3" x2="130.4" y2="93.6" stroke="#444" stroke-width="0.5" />
<line x1="129.3" y1="92.3" x2="129.3" y2="93.6" stroke="#444" stroke-width="0.5" />
<line x1="128.3" y1="92.3" x2="128.3" y2="93.6" stroke="#444" stroke-width="0.5" />
<line x1="127.4" y1="92.3" x2="127.4" y2="93.6" stroke="#444" stroke-width="0.5" />
<line x1="126.5" y1="92.3" x2="126.5" y2="93.6" stroke="#444" stroke-width="0.5" />
<line x1="125.7" y1="92.3" x2="125.7" y2="93.6" stroke="#444" stroke-width="0.5" />
<line x1="124.9" y1="92.3" x2="124.9" y2="93.6" stroke="#444" stroke-width="0.5" />
<line x1="124.2" y1="92.3" x2="124.2" y2="93.6" stroke="#444" stroke-width="0.5" />
<line x1="148.55" y1="92.3" x2="148.55" y2="94.3" stroke="#333" stroke-width="0.75" />
<text x="147.85000000000002" y="98.0" font-size="3.5" text-anchor="middle" fill="#2e2e2e" font-weight="bold" >10</text>
<text x="149.85000000000002" y="96.2" font-size="2.5" text-anchor="start" fill="#2e2e2e" font-weight="bold" >4</text>
<line x1="146.95000000000002" y1="92.3" x2="146.95000000000002" y2="93.6" stroke="#444" stroke-width="0.5" />
<line x1="145.55" y1="92.3" x2="145.55" y2="93.6" stroke="#444" stroke-width="0.5" />
<line x1="144.25" y1="92.3" x2="144.25" y2="93.6" stroke="#444" stroke-width="0.5" />
<line x1="143.05" y1="92.3" x2="143.05" y2="93.6" stroke="#444" stroke-width="0.5" />
<line x1="141.95000000000002" y1="92.3" x2="141.95000000000002" y2="93.6" stroke="#444" stroke-width="0.5" />
<line x1="140.95000000000002" y1="92.3" x2="140.95000000000002" y2="93.6" stroke="#444" stroke-width="0.5" />
<line x1="140.05" y1="92.3" x2="140.05" y2="93.6" stroke="#444" stroke-width="0.5" />
<line x1="139.15" y1="92.3" x2="139.15" y2="93.6" stroke="#444" stroke-width="0.5" />
<line x1="138.35000000000002" y1="92.3" x2="138.35000000000002" y2="93.6" stroke="#444" stroke-width="0.5" />
<line x1="137.55" y1="92.3" x2="137.55" y2="93.6" stroke="#444" stroke-width="0.5" />
<line x1="136.85000000000002" y1="92.3" x2="136.85000000000002" y2="93.6" stroke="#444" stroke-width="0.5" />
<line x1="161.20000000000002" y1="92.3" x2="161.20000000000002" y2="94.3" stroke="#333" stroke-width="0.75" />
<text x="160.50000000000003" y="98.0" font-size="3.5" text-anchor="middle" fill="#2e2e2e" font-weight="bold" >10</text>
<text x="162.50000000000003" y="96.2" font-size="2.5" text-anchor="start" fill="#2e2e2e" font-weight="bold" >5</text>
<line x1="159.60000000000002" y1="92.3" x2="159.60000000000002" y2="93.6" stroke="#444" stroke-width="0.5" />
<line x1="162.8" y1="92.3" x2="162.8" y2="93.6" stroke="#444" stroke-width="0.5" />
<line x1="158.20000000000002" y1="92.3" x2="158.20000000000002" y2="93.6" stroke="#444" stroke-width="0.5" />
<line x1="164.20000000000002" y1="92.3" x2="164.20000000000002" y2="93.6" stroke="#444" stroke-width="0.5" />
<line x1="156.9" y1="92.3" x2="156.9" y2="93.6" stroke="#444" stroke-width="0.5" />
<line x1="165.50000000000003" y1="92.3" x2="165.50000000000003" y2="93.6" stroke="#444" stroke-width="0.5" />
<line x1="155.70000000000002" y1="92.3" x2="155.70000000000002" y2="93.6" stroke="#444" stroke-width="0.5" />
<line x1="166.70000000000002" y1="92.3" x2="166.70000000000002" y2="93.6" stroke="#444" stroke-width="0.5" />
<line x1="154.60000000000002" y1="92.3" x2="154.60000000000002" y2="93.6" stroke="#444" stroke-width="0.5" />
<line x1="153.60000000000002" y1="92.3" x2="153.60000000000002" y2="93.6" stroke="#444" stroke-width="0.5" />
<line x1="152.70000000000002" y1="92.3" x2="152.70000000000002" y2="93.6" stroke="#444" stroke-width="0.5" />
<line x1="151.8" y1="92.3" x2="151.8" y2="93.6" stroke="#444" stroke-width="0.5" />
<line x1="151.00000000000003" y1="92.3" x2="151.00000000000003" y2="93.6" stroke="#444" stroke-width="0.5" />
<line x1="150.20000000000002" y1="92.3" x2="150.20000000000002" y2="93.6" stroke="#444" stroke-width="0.5" />
<line x1="149.50000000000003" y1="92.3" x2="149.50000000000003" y2="93.6" stroke="#444" stroke-width="0.5" />
<clipPath id="c3"><rect x="184.9" y="30.7" width="61.300000000000004" height="61.2"/></clipPath>
<g clip-path="url(#c3)">
<path d="M227.0 69.7h0.5M227.9 62.2h0.5M217.4 88.3h0.5M231.1 60.2h0.5M228.6 70.4h0.5M226.5 60.3h0.5M228.0 72.1h0.5M223.9 74.5h0.5M230.7 64.3h0.5M222.5 71.9h0.5M219.4 81.3h0.5M230.1 56.6h0.5M233.9 54.6h0.5M217.7 82.5h0.5M226.4 69.8h0.5M219.3 80.0h0.5M224.0 69.0h0.5M219.8 82.3h0.5M224.3 64.7h0.5M229.3 60.9h0.5M226.7 63.9h0.5M230.5 60.9h0.5M222.3 78.6h0.5M220.1 79.2h0.5M229.9 63.3h0.5M226.9 66.5h0.5M217.7 86.1h0.5M229.7 58.8h0.5M227.5 60.1h0.5M224.3 78.3h0.5M217.0 83.3h0.5M229.1 69.9h0.5M224.2 71.7h0.5M222.6 84.5h0.5M216.3 85.2h0.5M219.0 84.6h0.5M218.6 83.6h0.5M226.1 59.5h0.5M221.7 80.8h0.5M217.5 90.8h0.5M233.0 57.8h0.5M223.7 69.5h0.5M226.2 75.5h0.5M223.3 70.9h0.5M231.3 58.8h0.5M222.4 76.2h0.5M224.9 62.9h0.5M225.8 63.8h0.5M223.2 75.1h0.5M225.7 70.8h0.5M223.6 73.3h0.5M225.2 67.9h0.5M232.7 55.7h0.5M227.2 69.1h0.5M223.6 80.7h0.5M221.9 70.9h0.5M219.6 88.7h0.5M224.9 74.3h0.5M218.9 79.2h0.5M221.7 83.4h0.5M228.2 59.6h0.5M215.1 90.2h0.5M220.5 80.2h0.5M223.0 68.3h0.5M224.5 72.3h0.5M218.1 89.0h0.5M224.2 69.5h0.5M222.4 71.1h0.5M218.5 80.4h0.5M231.0 64.9h0.5M219.3 80.9h0.5M231.2 53.7h0.5M230.6 66.1h0.5M226.2 66.3h0.5M221.1 76.1h0.5M224.6 76.1h0.5M220.1 77.2h0.5M231.3 64.3h0.5M221.7 85.7h0.5M225.4 74.4h0.5M226.4 71.8h0.5M221.4 73.9h0.5M219.6 84.7h0.5M225.1 71.4h0.5M230.5 64.0h0.5M221.5 81.2h0.5M228.4 57.3h0.5M221.4 71.9h0.5M222.1 71.7h0.5M233.0 51.0h0.5M223.4 70.8h0.5M223.8 73.7h0.5M222.9 67.0h0.5M224.0 75.1h0.5M230.9 55.5h0.5M229.8 63.7h0.5M225.7 65.8h0.5M229.2 61.4h0.5M230.9 66.3h0.5M223.2 75.6h0.5M223.1 79.6h0.5M220.8 86.9h0.5M220.4 80.9h0.5M224.5 82.2h0.5M220.3 84.2h0.5M225.1 72.3h0.5M231.3 56.9h0.5M221.3 78.3h0.5M226.2 72.5h0.5M218.3 79.6h0.5M220.8 73.3h0.5M225.5 73.5h0.5M219.0 88.6h0.5M227.9 59.6h0.5M227.5 74.2h0.5M227.9 62.7h0.5M225.0 77.7h0.5M228.0 72.9h0.5M219.6 74.7h0.5M216.9 85.6h0.5M225.4 71.0h0.5M226.8 65.2h0.5M223.4 79.6h0.5M234.7 54.6h0.5M220.6 74.3h0.5M226.2 75.0h0.5M232.6 52.4h0.5M218.2 87.3h0.5M222.6 68.6h0.5M224.8 72.4h0.5M232.6 54.9h0.5M226.9 61.3h0.5M227.9 66.3h0.5M226.5 61.3h0.5M227.9 67.0h0.5M229.7 56.5h0.5M226.3 62.1h0.5M219.2 77.6h0.5M227.4 67.5h0.5M225.3 77.8h0.5M223.0 66.2h0.5M226.2 66.1h0.5M233.1 55.4h0.5M225.7 69.0h0.5M218.0 77.8h0.5M221.1 74.7h0.5M222.4 80.6h0.5M221.2 82.5h0.5M222.9 80.9h0.5M224.8 70.1h0.5M230.4 55.1h0.5M225.2 61.4h0.5M229.0 59.3h0.5M223.1 69.2h0.5M225.3 64.9h0.5M228.9 70.6h0.5M223.5 79.7h0.5M228.9 61.2h0.5M231.7 64.1h0.5M225.4 64.9h0.5M228.2 65.1h0.5M224.2 76.0h0.5M229.7 62.7h0.5M221.8 74.8h0.5M216.4 86.7h0.5M223.8 68.4h0.5M227.2 62.8h0.5M220.0 85.1h0.5M227.9 63.5h0.5M223.8 69.8h0.5M224.8 70.0h0.5M230.3 60.3h0.5M226.4 65.5h0.5M216.2 83.1h0.5M228.9 69.9h0.5M219.0 80.5h0.5M219.1 76.8h0.5M221.2 72.9h0.5M221.5 77.0h0.5M219.8 83.9h0.5M215.6 82.6h0.5M225.4 76.8h0.5M222.7 80.1h0.5M227.0 66.8h0.5M232.9 57.4h0.5M230.0 54.9h0.5M221.5 71.0h0.5M219.8 74.7h0.5M224.3 64.9h0.5M226.7 65.0h0.5M228.7 57.6h0.5M231.9 55.0h0.5M226.2 73.7h0.5M220.5 77.5h0.5M228.9 55.7h0.5M233.3 56.7h0.5M224.4 80.2h0.5M223.6 66.3h0.5M227.5 59.7h0.5M226.5 69.8h0.5M219.6 78.4h0.5M224.6 75.7h0.5M230.7 63.2h0.5M222.3 79.0h0.5M229.0 70.3h0.5M223.0 80.7h0.5M222.5 75.2h0.5M233.2 62.0h0.5M229.3 69.1h0.5M230.9 57.7h0.5M224.0 67.9h0.5M220.4 78.4h0.5M230.6 54.7h0.5M223.9 67.0h0.5M220.0 81.4h0.5M221.0 77.8h0.5M216.6 88.9h0.5M220.6 86.7h0.5M228.6 57.9h0.5M217.6 79.2h0.5M215.5 87.7h0.5M226.3 65.9h0.5M221.2 73.6h0.5M222.9 68.0h0.5M220.8 82.2h0.5M218.7 80.1h0.5M221.7 80.8h0.5M230.0 63.2h0.5M218.9 86.4h0.5M218.5 84.9h0.5M231.5 56.3h0.5M222.4 72.4h0.5M230.5 63.6h0.5M220.6 83.8h0.5M232.5 51.7h0.5M220.8 84.6h0.5M221.9 72.6h0.5M224.1 77.6h0.5M220.5 82.7h0.5M223.5 73.0h0.5M226.1 72.9h0.5M222.6 71.4h0.5M220.2 75.2h0.5M227.8 71.5h0.5M228.2 71.6h0.5M220.0 75.9h0.5M221.2 70.5h0.5M219.2 80.6h0.5M226.2 72.6h0.5M219.0 90.6h0.5M225.2 69.2h0.5M217.5 83.4h0.5M227.7 63.6h0.5M216.7 90.1h0.5M222.8 72.4h0.5M234.6 54.9h0.5M224.7 65.3h0.5M231.6 61.4h0.5M221.9 78.7h0.5M227.6 63.3h0.5M228.0 70.2h0.5M222.0 78.6h0.5M219.8 85.7h0.5M224.8 78.8h0.5M228.3 60.0h0.5M223.8 67.4h0.5M225.7 69.5h0.5M220.4 82.9h0.5M225.7 69.3h0.5M229.4 66.8h0.5M232.5 54.3h0.5M216.5 89.4h0.5M231.3 63.0h0.5M227.6 72.6h0.5M233.5 49.8h0.5M223.5 67.9h0.5M230.4 54.9h0.5M222.7 78.0h0.5M226.8 72.8h0.5M219.6 85.6h0.5M226.7 72.8h0.5M226.0 72.9h0.5M227.5 61.1h0.5M216.5 88.8h0.5M220.0 83.3h0.5M221.9 80.0h0.5M220.1 78.5h0.5M224.2 73.1h0.5M221.8 71.7h0.5M229.9 65.5h0.5M222.6 78.7h0.5M221.7 69.5h0.5M224.8 73.3h0.5M227.0 67.1h0.5M231.4 55.2h0.5M221.1 72.7h0.5M223.2 70.0h0.5M231.4 56.7h0.5M227.3 67.2h0.5M218.3 82.6h0.5M234.6 51.8h0.5M217.1 85.0h0.5M220.3 72.4h0.5M222.1 82.7h0.5M218.2 81.7h0.5M225.0 75.6h0.5M224.9 78.3h0.5M231.4 58.0h0.5M218.8 82.4h0.5M232.2 57.2h0.5M228.1 59.1h0.5M230.5 65.2h0.5M228.7 68.3h0.5M222.9 73.7h0.5M223.6 78.4h0.5M219.3 82.9h0.5M226.6 69.8h0.5M227.4 64.3h0.5M231.8 58.1h0.5M230.4 59.9h0.5M224.6 65.2h0.5M229.8 55.7h0.5M227.0 77.7h0.5M222.7 83.0h0.5M227.2 62.3h0.5M225.7 74.1h0.5M221.2 77.0h0.5M228.3 65.5h0.5M225.5 64.3h0.5M222.5 78.2h0.5M220.9 83.1h0.5M222.8 77.4h0.5M224.3 79.6h0.5M220.5 82.6h0.5M228.1 61.3h0.5M221.6 69.4h0.5M225.5 74.1h0.5M225.7 72.3h0.5M228.0 61.5h0.5M222.1 72.2h0.5M232.1 51.5h0.5M222.0 72.9h0.5M226.8 63.8h0.5M227.3 73.8h0.5M219.7 80.1h0.5M228.0 65.6h0.5M221.4 73.7h0.5M220.5 72.5h0.5M225.7 78.6h0.5M226.3 72.9h0.5M229.3 61.4h0.5M224.0 78.2h0.5M216.4 87.7h0.5M230.7 61.4h0.5M230.7 56.0h0.5M221.1 74.5h0.5M230.6 66.5h0.5M218.2 83.0h0.5M221.3 79.0h0.5M227.3 68.7h0.5M222.0 77.4h0.5M223.5 75.9h0.5M234.3 55.5h0.5M218.3 90.0h0.5M222.4 78.2h0.5M228.9 57.1h0.5M226.5 62.3h0.5M231.4 54.3h0.5M219.6 79.0h0.5M218.7 88.3h0.5M218.4 82.8h0.5M229.4 61.0h0.5M228.0 71.4h0.5M226.1 67.2h0.5M232.3 57.7h0.5M231.7 56.7h0.5M228.8 67.3h0.5M224.0 66.5h0.5M216.7 86.7h0.5M228.6 59.3h0.5M226.2 66.5h0.5M219.9 81.7h0.5M218.9 86.0h0.5M232.2 61.9h0.5M224.4 64.1h0.5M222.8 72.9h0.5M233.6 52.5h0.5M217.9 79.0h0.5M227.4 67.0h0.5M224.1 80.2h0.5M224.2 78.2h0.5M220.3 79.7h0.5M233.1 56.6h0.5M231.5 63.3h0.5M223.5 79.4h0.5M215.0 88.8h0.5M217.3 77.3h0.5M227.4 74.4h0.5M232.4 53.7h0.5M223.3 74.5h0.5M227.8 66.5h0.5M221.0 81.6h0.5M219.1 81.9h0.5M225.2 67.9h0.5M223.3 66.9h0.5M230.4 66.2h0.5M230.3 68.4h0.5M228.3 57.0h0.5M220.1 73.1h0.5M226.9 59.1h0.5M218.9 83.5h0.5M227.0 69.8h0.5M225.4 76.6h0.5M229.8 58.0h0.5M226.9 64.0h0.5M221.6 71.4h0.5M221.9 71.8h0.5M226.4 74.5h0.5M221.5 82.1h0.5M225.6 71.8h0.5M218.7 84.0h0.5M230.4 59.0h0.5M224.0 66.3h0.5M232.2 59.6h0.5M220.9 75.4h0.5M218.3 84.7h0.5M226.2 64.7h0.5M226.4 74.0h0.5M222.7 80.4h0.5M231.5 56.9h0.5M225.3 74.0h0.5M230.7 64.0h0.5M220.4 82.4h0.5M225.4 63.6h0.5M230.2 65.5h0.5M222.1 76.3h0.5M232.3 61.2h0.5M226.9 67.9h0.5M224.5 66.1h0.5M224.9 65.1h0.5M225.2 68.6h0.5M216.9 83.8h0.5M226.0 69.1h0.5M221.6 78.6h0.5M224.4 66.0h0.5M225.7 62.2h0.5M220.4 83.7h0.5M220.1 73.3h0.5M224.7 64.1h0.5M217.6 86.8h0.5M220.9 77.0h0.5M218.0 87.6h0.5M220.2 81.9h0.5M220.9 76.6h0.5M223.5 68.8h0.5M219.9 74.7h0.5M225.6 70.7h0.5M226.2 73.6h0.5M219.6 77.5h0.5M222.0 73.2h0.5M224.0 67.7h0.5M230.1 54.6h0.5M231.7 60.9h0.5M226.8 75.1h0.5M224.2 78.4h0.5M223.2 79.9h0.5M217.1 81.0h0.5M227.1 59.3h0.5M227.9 68.8h0.5M220.2 83.2h0.5M217.2 84.8h0.5M229.8 62.8h0.5M220.2 81.7h0.5M229.7 65.5h0.5M233.7 54.4h0.5M231.3 59.1h0.5M222.3 80.1h0.5M216.8 91.6h0.5M227.9 67.8h0.5M221.8 72.2h0.5M218.2 88.2h0.5M223.7 80.4h0.5M217.3 83.3h0.5M226.2 76.6h0.5M224.4 77.6h0.5M233.9 54.1h0.5M224.6 72.7h0.5M220.9 78.3h0.5M228.2 59.7h0.5M216.6 88.5h0.5M227.2 68.9h0.5M218.6 79.3h0.5M220.9 71.5h0.5M219.9 81.2h0.5M222.8 69.3h0.5M233.1 55.8h0.5M227.4 65.3h0.5M228.4 60.4h0.5M225.0 74.8h0.5M228.3 68.3h0.5M223.6 74.5h0.5M230.0 57.2h0.5M227.5 70.9h0.5M230.4 54.1h0.5M220.6 71.2h0.5M222.0 78.8h0.5M226.6 67.9h0.5M229.2 60.0h0.5M224.0 68.8h0.5M226.7 74.3h0.5M219.2 86.5h0.5M218.6 86.9h0.5M225.6 69.2h0.5M223.7 74.5h0.5M220.8 72.0h0.5M220.3 85.0h0.5M232.7 50.2h0.5M217.3 88.0h0.5M228.8 66.0h0.5M215.6 87.1h0.5M230.3 56.4h0.5M228.4 61.2h0.5M219.8 77.6h0.5M217.6 81.5h0.5M220.9 76.7h0.5M219.2 78.2h0.5M219.3 78.5h0.5M221.4 73.0h0.5M215.2 88.8h0.5M224.8 67.1h0.5M221.3 71.2h0.5M228.0 67.7h0.5M225.5 74.4h0.5M223.3 68.3h0.5M225.5 68.0h0.5M217.0 90.2h0.5M221.6 77.1h0.5M222.9 76.0h0.5M223.5 70.1h0.5M216.2 84.3h0.5M221.5 72.5h0.5M220.7 75.6h0.5M228.4 59.8h0.5M225.6 66.4h0.5M229.6 63.0h0.5M222.5 74.5h0.5M230.4 57.4h0.5M229.2 54.6h0.5M222.1 87.2h0.5M222.9 79.9h0.5M229.5 55.3h0.5M225.4 66.4h0.5M224.8 71.9h0.5M221.7 81.0h0.5M231.4 61.9h0.5M222.7 79.5h0.5M228.3 69.0h0.5M227.1 73.8h0.5M228.3 72.7h0.5M224.0 66.5h0.5M221.0 74.3h0.5M222.2 80.9h0.5M224.0 68.9h0.5M222.3 78.9h0.5M225.1 77.7h0.5M227.8 65.8h0.5M228.1 69.0h0.5M216.0 88.8h0.5M215.6 87.0h0.5M218.9 81.9h0.5M225.2 64.8h0.5M221.9 84.8h0.5M226.6 68.3h0.5M222.1 72.2h0.5M222.3 80.7h0.5M222.5 74.2h0.5M227.8 59.9h0.5M219.0 85.9h0.5M233.5 54.9h0.5M224.7 70.2h0.5M230.0 55.2h0.5M225.1 73.2h0.5M218.8 88.1h0.5M228.8 67.3h0.5M231.2 60.3h0.5M231.7 58.3h0.5M230.8 64.5h0.5M221.4 78.7h0.5M226.6 74.2h0.5M226.3 70.3h0.5M224.2 68.5h0.5M228.7 65.4h0.5M226.4 72.7h0.5M217.3 92.3h0.5M225.3 64.6h0.5M215.4 92.6h0.5M231.5 56.7h0.5M218.2 86.2h0.5M229.8 57.9h0.5M220.3 82.4h0.5M229.6 69.7h0.5M230.2 57.2h0.5M230.9 58.5h0.5M230.7 59.4h0.5M217.7 82.0h0.5M221.2 85.5h0.5M223.8 72.3h0.5M222.9 76.5h0.5M226.4 71.9h0.5M225.6 69.6h0.5M228.6 69.4h0.5M225.1 75.0h0.5M232.0 58.5h0.5M228.6 64.9h0.5M226.4 64.8h0.5M217.8 84.2h0.5M221.0 75.3h0.5M229.8 56.3h0.5M223.7 68.9h0.5M227.4 61.8h0.5M222.3 77.6h0.5M226.7 62.2h0.5M226.9 72.2h0.5M225.2 65.0h0.5M230.0 62.0h0.5M221.3 82.9h0.5M229.7 63.0h0.5M226.4 76.7h0.5M221.5 76.4h0.5M224.9 77.3h0.5M228.8 68.7h0.5M234.3 49.4h0.5M225.5 68.1h0.5M223.1 70.7h0.5M230.9 58.7h0.5M227.8 67.6h0.5M220.8 81.8h0.5M217.4 86.9h0.5M219.0 78.4h0.5M229.1 59.3h0.5M215.8 83.4h0.5M230.2 59.1h0.5M223.3 81.3h0.5M224.5 68.9h0.5M229.9 65.9h0.5M223.6 78.1h0.5M219.2 77.9h0.5M221.5 77.7h0.5M223.4 73.9h0.5M230.1 62.0h0.5M232.8 57.7h0.5M219.8 76.5h0.5M222.0 76.7h0.5M223.3 80.4h0.5M218.1 82.6h0.5M223.8 78.6h0.5M226.2 69.4h0.5M230.4 60.9h0.5M221.7 75.4h0.5M225.0 72.5h0.5M221.6 83.6h0.5M224.0 68.5h0.5M222.3 78.3h0.5M231.1 63.1h0.5M231.1 63.1h0.5M217.7 88.4h0.5M227.2 61.3h0.5M222.9 80.2h0.5M224.4 69.9h0.5M218.5 79.7h0.5M221.5 85.5h0.5M225.4 75.0h0.5M232.5 59.0h0.5M226.9 69.9h0.5M230.9 57.4h0.5M219.6 78.3h0.5M225.7 72.8h0.5M217.0 81.3h0.5M215.9 85.2h0.5M218.8 78.3h0.5M224.6 76.9h0.5M226.7 64.0h0.5M220.7 87.4h0.5M224.6 72.2h0.5M219.4 89.0h0.5M226.6 64.8h0.5M214.7 92.8h0.5M220.5 73.4h0.5M218.0 80.7h0.5M224.1 81.0h0.5M218.7 79.8h0.5M230.8 58.8h0.5M227.9 73.8h0.5M218.3 81.8h0.5M218.6 78.8h0.5M223.1 80.3h0.5M223.5 78.0h0.5M223.7 80.3h0.5M227.5 66.6h0.5M230.6 66.4h0.5M223.1 81.6h0.5M223.3 81.9h0.5M230.7 53.5h0.5M226.9 64.1h0.5M228.2 67.6h0.5M229.5 69.2h0.5M223.5 82.7h0.5M229.1 69.1h0.5M224.2 75.2h0.5M216.2 90.4h0.5M226.4 75.8h0.5M226.0 69.4h0.5M217.4 84.7h0.5M222.0 85.9h0.5M233.6 54.0h0.5M219.6 75.3h0.5M224.2 70.7h0.5M231.2 59.4h0.5M220.9 73.0h0.5M226.7 65.0h0.5M228.8 66.9h0.5M228.9 66.7h0.5M217.1 85.2h0.5M229.7 66.7h0.5M229.5 64.8h0.5M218.5 84.5h0.5M223.3 70.2h0.5M220.1 79.4h0.5M217.6 82.7h0.5M220.3 86.9h0.5M228.6 62.4h0.5M223.7 75.5h0.5M231.3 60.7h0.5M232.6 58.2h0.5M220.5 75.8h0.5M222.0 72.9h0.5M231.3 60.0h0.5M229.2 67.9h0.5M226.6 71.2h0.5M228.2 64.4h0.5M223.1 71.2h0.5M219.0 86.5h0.5M226.2 66.6h0.5M225.9 77.9h0.5M226.1 71.1h0.5M222.3 82.3h0.5M222.4 68.6h0.5M222.2 75.5h0.5M218.4 87.3h0.5M228.9 67.3h0.5M228.1 69.9h0.5M225.3 75.8h0.5M225.3 67.8h0.5M222.9 83.5h0.5M224.4 72.1h0.5M222.6 67.1h0.5M230.2 55.6h0.5M217.5 85.7h0.5M214.8 89.5h0.5M229.1 64.4h0.5" stroke="#5060a0" stroke-width="0.5" stroke-opacity="0.42" fill="none"/>
<path d="M222.3 69.3h0.5M226.4 66.9h0.5M221.2 75.3h0.5M227.0 65.9h0.5M223.3 68.4h0.5M227.6 67.6h0.5M228.9 68.0h0.5M228.8 61.7h0.5M223.7 68.7h0.5M220.7 74.3h0.5M226.6 62.6h0.5M229.4 64.8h0.5M223.8 70.0h0.5M225.4 62.1h0.5M232.3 65.0h0.5M226.2 74.6h0.5M226.6 73.3h0.5M222.4 73.2h0.5M230.3 61.3h0.5M220.8 75.7h0.5M223.1 72.2h0.5M227.6 66.8h0.5M226.3 62.0h0.5M228.1 62.9h0.5M224.5 65.3h0.5M228.6 65.6h0.5M227.4 62.7h0.5M227.0 66.0h0.5M225.8 69.2h0.5M225.0 66.3h0.5M226.1 64.8h0.5M225.8 64.5h0.5M222.2 65.2h0.5M224.5 72.0h0.5M227.5 68.2h0.5M229.0 65.8h0.5M223.7 72.9h0.5M225.8 71.9h0.5M225.2 65.3h0.5M226.8 64.7h0.5M222.2 67.6h0.5M224.4 68.6h0.5M226.8 67.9h0.5M222.5 68.9h0.5M224.8 70.1h0.5M226.3 77.9h0.5M226.9 69.7h0.5M229.3 60.5h0.5M226.7 72.0h0.5M226.1 71.2h0.5M226.0 65.4h0.5M232.3 66.6h0.5M232.0 58.4h0.5M226.7 70.8h0.5M228.8 66.5h0.5M222.5 72.2h0.5M224.1 71.7h0.5M225.9 71.7h0.5M225.3 68.1h0.5M227.0 65.8h0.5M225.7 66.4h0.5M223.5 71.5h0.5M228.0 68.8h0.5M223.0 72.9h0.5M227.2 71.7h0.5M224.8 73.8h0.5M223.0 68.1h0.5M225.3 65.9h0.5M229.0 57.7h0.5M226.9 72.3h0.5M226.7 65.3h0.5M227.9 67.4h0.5M227.5 70.3h0.5M225.2 71.2h0.5M222.5 72.6h0.5M226.5 67.4h0.5M226.1 71.7h0.5M225.8 68.2h0.5M229.0 64.4h0.5M221.8 74.7h0.5M226.6 60.5h0.5M223.8 70.9h0.5M227.6 65.4h0.5M224.2 65.2h0.5M226.0 69.0h0.5M225.9 65.5h0.5M226.1 60.9h0.5M226.5 68.0h0.5M230.4 64.1h0.5M227.4 58.2h0.5M230.2 69.2h0.5M224.5 71.8h0.5M223.8 69.2h0.5M227.2 66.5h0.5M224.8 62.3h0.5M222.5 76.7h0.5M225.7 68.8h0.5M220.7 69.0h0.5M225.8 58.7h0.5M222.1 71.4h0.5M226.2 64.9h0.5M226.4 67.8h0.5M227.0 63.6h0.5M227.6 59.4h0.5M226.2 69.6h0.5M223.9 74.2h0.5M228.4 61.7h0.5M223.6 70.7h0.5M224.1 66.4h0.5M226.8 64.6h0.5M225.4 75.9h0.5M225.5 70.9h0.5M228.1 67.7h0.5M222.1 69.8h0.5M229.8 59.8h0.5M221.2 73.1h0.5M228.3 64.5h0.5M225.3 70.9h0.5M226.6 67.9h0.5M226.5 72.2h0.5M226.1 65.5h0.5M230.0 63.7h0.5M227.1 65.6h0.5M224.6 68.0h0.5M220.9 78.1h0.5M227.5 67.5h0.5M221.0 76.7h0.5M229.0 64.0h0.5M224.1 73.1h0.5M221.2 76.0h0.5" stroke="#5060a0" stroke-width="0.5" stroke-opacity="0.4" fill="none"/>
<path d="M232.2 55.9h0.5M233.4 52.8h0.5M234.2 52.0h0.5M233.1 53.3h0.5M233.6 51.6h0.5M232.1 53.0h0.5M234.9 52.2h0.5M234.2 50.7h0.5M233.3 52.1h0.5M232.9 51.3h0.5M232.2 53.8h0.5M233.9 50.7h0.5M232.6 53.0h0.5M233.7 51.8h0.5" stroke="#3f4f8f" stroke-width="0.5" stroke-opacity="0.55" fill="none"/>
<path d="M223.5 77.0h0.4M218.9 67.0h0.4M221.8 77.3h0.4M231.9 71.6h0.4M230.5 69.4h0.4M228.1 61.0h0.4M227.7 72.4h0.4M212.5 53.6h0.4M222.4 66.3h0.4M225.9 55.7h0.4M225.8 74.4h0.4M227.9 75.6h0.4M214.9 77.7h0.4M226.9 62.0h0.4M220.1 79.0h0.4M226.0 85.5h0.4M235.6 67.9h0.4M227.8 65.3h0.4M223.7 67.3h0.4M217.9 67.4h0.4M230.6 77.7h0.4M210.2 67.4h0.4M218.4 74.4h0.4M206.8 71.4h0.4M222.5 64.9h0.4M218.2 71.8h0.4M220.0 71.8h0.4M216.6 72.6h0.4M237.6 73.6h0.4M229.4 69.4h0.4" stroke="#3f4f8f" stroke-width="0.4" stroke-opacity="0.28" fill="none"/>
</g>
<rect x="184.5" y="30.3" width="62.1" height="62.0" fill="none" stroke="#666" stroke-width="0.9" />
<rect x="213" y="48" width="25" height="22.799999999999997" fill="none" stroke="#a0a0a0" stroke-width="0.55" />
<text x="211.8" y="26.3" font-size="8.1" text-anchor="start" fill="#b8353a" >P1</text>
<text x="220.2" y="45.9" font-size="6.1" text-anchor="start" fill="#444" stroke="#444" stroke-width="0.12">23.1%</text>
<line x1="182.5" y1="36" x2="184.5" y2="36" stroke="#333" stroke-width="0.75" />
<text x="181.4" y="37.9" font-size="3.7" text-anchor="end" fill="#2e2e2e" font-weight="bold" >10</text>
<text x="181.3" y="35.9" font-size="2.6" text-anchor="start" fill="#2e2e2e" font-weight="bold" >5</text>
<line x1="183.2" y1="37.6" x2="184.5" y2="37.6" stroke="#444" stroke-width="0.5" />
<line x1="183.2" y1="34.4" x2="184.5" y2="34.4" stroke="#444" stroke-width="0.5" />
<line x1="183.2" y1="39.0" x2="184.5" y2="39.0" stroke="#444" stroke-width="0.5" />
<line x1="183.2" y1="33.0" x2="184.5" y2="33.0" stroke="#444" stroke-width="0.5" />
<line x1="183.2" y1="40.3" x2="184.5" y2="40.3" stroke="#444" stroke-width="0.5" />
<line x1="183.2" y1="31.7" x2="184.5" y2="31.7" stroke="#444" stroke-width="0.5" />
<line x1="183.2" y1="41.5" x2="184.5" y2="41.5" stroke="#444" stroke-width="0.5" />
<line x1="183.2" y1="30.5" x2="184.5" y2="30.5" stroke="#444" stroke-width="0.5" />
<line x1="183.2" y1="42.6" x2="184.5" y2="42.6" stroke="#444" stroke-width="0.5" />
<line x1="183.2" y1="43.6" x2="184.5" y2="43.6" stroke="#444" stroke-width="0.5" />
<line x1="183.2" y1="44.5" x2="184.5" y2="44.5" stroke="#444" stroke-width="0.5" />
<line x1="183.2" y1="45.4" x2="184.5" y2="45.4" stroke="#444" stroke-width="0.5" />
<line x1="183.2" y1="46.2" x2="184.5" y2="46.2" stroke="#444" stroke-width="0.5" />
<line x1="183.2" y1="47.0" x2="184.5" y2="47.0" stroke="#444" stroke-width="0.5" />
<line x1="183.2" y1="47.7" x2="184.5" y2="47.7" stroke="#444" stroke-width="0.5" />
<line x1="182.5" y1="48.2" x2="184.5" y2="48.2" stroke="#333" stroke-width="0.75" />
<text x="181.4" y="50.1" font-size="3.7" text-anchor="end" fill="#2e2e2e" font-weight="bold" >10</text>
<text x="181.3" y="48.1" font-size="2.6" text-anchor="start" fill="#2e2e2e" font-weight="bold" >4</text>
<line x1="183.2" y1="49.800000000000004" x2="184.5" y2="49.800000000000004" stroke="#444" stroke-width="0.5" />
<line x1="183.2" y1="51.2" x2="184.5" y2="51.2" stroke="#444" stroke-width="0.5" />
<line x1="183.2" y1="52.5" x2="184.5" y2="52.5" stroke="#444" stroke-width="0.5" />
<line x1="183.2" y1="53.7" x2="184.5" y2="53.7" stroke="#444" stroke-width="0.5" />
<line x1="183.2" y1="54.800000000000004" x2="184.5" y2="54.800000000000004" stroke="#444" stroke-width="0.5" />
<line x1="183.2" y1="55.800000000000004" x2="184.5" y2="55.800000000000004" stroke="#444" stroke-width="0.5" />
<line x1="183.2" y1="56.7" x2="184.5" y2="56.7" stroke="#444" stroke-width="0.5" />
<line x1="183.2" y1="57.6" x2="184.5" y2="57.6" stroke="#444" stroke-width="0.5" />
<line x1="183.2" y1="58.400000000000006" x2="184.5" y2="58.400000000000006" stroke="#444" stroke-width="0.5" />
<line x1="183.2" y1="59.2" x2="184.5" y2="59.2" stroke="#444" stroke-width="0.5" />
<line x1="183.2" y1="59.900000000000006" x2="184.5" y2="59.900000000000006" stroke="#444" stroke-width="0.5" />
<line x1="182.5" y1="60.8" x2="184.5" y2="60.8" stroke="#333" stroke-width="0.75" />
<text x="181.4" y="62.699999999999996" font-size="3.7" text-anchor="end" fill="#2e2e2e" font-weight="bold" >10</text>
<text x="181.3" y="60.699999999999996" font-size="2.6" text-anchor="start" fill="#2e2e2e" font-weight="bold" >3</text>
<line x1="183.2" y1="62.4" x2="184.5" y2="62.4" stroke="#444" stroke-width="0.5" />
<line x1="183.2" y1="63.8" x2="184.5" y2="63.8" stroke="#444" stroke-width="0.5" />
<line x1="183.2" y1="65.1" x2="184.5" y2="65.1" stroke="#444" stroke-width="0.5" />
<line x1="183.2" y1="66.3" x2="184.5" y2="66.3" stroke="#444" stroke-width="0.5" />
<line x1="183.2" y1="67.39999999999999" x2="184.5" y2="67.39999999999999" stroke="#444" stroke-width="0.5" />
<line x1="183.2" y1="68.39999999999999" x2="184.5" y2="68.39999999999999" stroke="#444" stroke-width="0.5" />
<line x1="183.2" y1="69.3" x2="184.5" y2="69.3" stroke="#444" stroke-width="0.5" />
<line x1="183.2" y1="70.2" x2="184.5" y2="70.2" stroke="#444" stroke-width="0.5" />
<line x1="183.2" y1="71.0" x2="184.5" y2="71.0" stroke="#444" stroke-width="0.5" />
<line x1="183.2" y1="71.8" x2="184.5" y2="71.8" stroke="#444" stroke-width="0.5" />
<line x1="183.2" y1="72.5" x2="184.5" y2="72.5" stroke="#444" stroke-width="0.5" />
<line x1="182.5" y1="73.3" x2="184.5" y2="73.3" stroke="#333" stroke-width="0.75" />
<text x="181.4" y="75.2" font-size="3.7" text-anchor="end" fill="#2e2e2e" font-weight="bold" >10</text>
<text x="181.3" y="73.2" font-size="2.6" text-anchor="start" fill="#2e2e2e" font-weight="bold" >2</text>
<line x1="183.2" y1="74.89999999999999" x2="184.5" y2="74.89999999999999" stroke="#444" stroke-width="0.5" />
<line x1="183.2" y1="76.3" x2="184.5" y2="76.3" stroke="#444" stroke-width="0.5" />
<line x1="183.2" y1="77.6" x2="184.5" y2="77.6" stroke="#444" stroke-width="0.5" />
<line x1="183.2" y1="78.8" x2="184.5" y2="78.8" stroke="#444" stroke-width="0.5" />
<line x1="183.2" y1="79.89999999999999" x2="184.5" y2="79.89999999999999" stroke="#444" stroke-width="0.5" />
<line x1="183.2" y1="80.89999999999999" x2="184.5" y2="80.89999999999999" stroke="#444" stroke-width="0.5" />
<line x1="183.2" y1="81.8" x2="184.5" y2="81.8" stroke="#444" stroke-width="0.5" />
<line x1="183.2" y1="82.7" x2="184.5" y2="82.7" stroke="#444" stroke-width="0.5" />
<line x1="183.2" y1="83.5" x2="184.5" y2="83.5" stroke="#444" stroke-width="0.5" />
<line x1="183.2" y1="84.3" x2="184.5" y2="84.3" stroke="#444" stroke-width="0.5" />
<line x1="183.2" y1="85.0" x2="184.5" y2="85.0" stroke="#444" stroke-width="0.5" />
<line x1="182.5" y1="85.8" x2="184.5" y2="85.8" stroke="#333" stroke-width="0.75" />
<text x="181.4" y="87.7" font-size="3.7" text-anchor="end" fill="#2e2e2e" font-weight="bold" >10</text>
<text x="181.3" y="85.7" font-size="2.6" text-anchor="start" fill="#2e2e2e" font-weight="bold" >1</text>
<line x1="183.2" y1="87.39999999999999" x2="184.5" y2="87.39999999999999" stroke="#444" stroke-width="0.5" />
<line x1="183.2" y1="88.8" x2="184.5" y2="88.8" stroke="#444" stroke-width="0.5" />
<line x1="183.2" y1="90.1" x2="184.5" y2="90.1" stroke="#444" stroke-width="0.5" />
<line x1="183.2" y1="91.3" x2="184.5" y2="91.3" stroke="#444" stroke-width="0.5" />
<line x1="190.4" y1="92.3" x2="190.4" y2="94.3" stroke="#333" stroke-width="0.75" />
<text x="189.70000000000002" y="98.0" font-size="3.5" text-anchor="middle" fill="#2e2e2e" font-weight="bold" >10</text>
<text x="191.70000000000002" y="96.2" font-size="2.5" text-anchor="start" fill="#2e2e2e" font-weight="bold" >1</text>
<line x1="188.8" y1="92.3" x2="188.8" y2="93.6" stroke="#444" stroke-width="0.5" />
<line x1="187.4" y1="92.3" x2="187.4" y2="93.6" stroke="#444" stroke-width="0.5" />
<line x1="186.1" y1="92.3" x2="186.1" y2="93.6" stroke="#444" stroke-width="0.5" />
<line x1="184.9" y1="92.3" x2="184.9" y2="93.6" stroke="#444" stroke-width="0.5" />
<line x1="203.05" y1="92.3" x2="203.05" y2="94.3" stroke="#333" stroke-width="0.75" />
<text x="202.35000000000002" y="98.0" font-size="3.5" text-anchor="middle" fill="#2e2e2e" font-weight="bold" >10</text>
<text x="204.35000000000002" y="96.2" font-size="2.5" text-anchor="start" fill="#2e2e2e" font-weight="bold" >2</text>
<line x1="201.45000000000002" y1="92.3" x2="201.45000000000002" y2="93.6" stroke="#444" stroke-width="0.5" />
<line x1="200.05" y1="92.3" x2="200.05" y2="93.6" stroke="#444" stroke-width="0.5" />
<line x1="198.75" y1="92.3" x2="198.75" y2="93.6" stroke="#444" stroke-width="0.5" />
<line x1="197.55" y1="92.3" x2="197.55" y2="93.6" stroke="#444" stroke-width="0.5" />
<line x1="196.45000000000002" y1="92.3" x2="196.45000000000002" y2="93.6" stroke="#444" stroke-width="0.5" />
<line x1="195.45000000000002" y1="92.3" x2="195.45000000000002" y2="93.6" stroke="#444" stroke-width="0.5" />
<line x1="194.55" y1="92.3" x2="194.55" y2="93.6" stroke="#444" stroke-width="0.5" />
<line x1="193.65" y1="92.3" x2="193.65" y2="93.6" stroke="#444" stroke-width="0.5" />
<line x1="192.85000000000002" y1="92.3" x2="192.85000000000002" y2="93.6" stroke="#444" stroke-width="0.5" />
<line x1="192.05" y1="92.3" x2="192.05" y2="93.6" stroke="#444" stroke-width="0.5" />
<line x1="191.35000000000002" y1="92.3" x2="191.35000000000002" y2="93.6" stroke="#444" stroke-width="0.5" />
<line x1="215.70000000000002" y1="92.3" x2="215.70000000000002" y2="94.3" stroke="#333" stroke-width="0.75" />
<text x="215.00000000000003" y="98.0" font-size="3.5" text-anchor="middle" fill="#2e2e2e" font-weight="bold" >10</text>
<text x="217.00000000000003" y="96.2" font-size="2.5" text-anchor="start" fill="#2e2e2e" font-weight="bold" >3</text>
<line x1="214.10000000000002" y1="92.3" x2="214.10000000000002" y2="93.6" stroke="#444" stroke-width="0.5" />
<line x1="212.70000000000002" y1="92.3" x2="212.70000000000002" y2="93.6" stroke="#444" stroke-width="0.5" />
<line x1="211.4" y1="92.3" x2="211.4" y2="93.6" stroke="#444" stroke-width="0.5" />
<line x1="210.20000000000002" y1="92.3" x2="210.20000000000002" y2="93.6" stroke="#444" stroke-width="0.5" />
<line x1="209.10000000000002" y1="92.3" x2="209.10000000000002" y2="93.6" stroke="#444" stroke-width="0.5" />
<line x1="208.10000000000002" y1="92.3" x2="208.10000000000002" y2="93.6" stroke="#444" stroke-width="0.5" />
<line x1="207.20000000000002" y1="92.3" x2="207.20000000000002" y2="93.6" stroke="#444" stroke-width="0.5" />
<line x1="206.3" y1="92.3" x2="206.3" y2="93.6" stroke="#444" stroke-width="0.5" />
<line x1="205.50000000000003" y1="92.3" x2="205.50000000000003" y2="93.6" stroke="#444" stroke-width="0.5" />
<line x1="204.70000000000002" y1="92.3" x2="204.70000000000002" y2="93.6" stroke="#444" stroke-width="0.5" />
<line x1="204.00000000000003" y1="92.3" x2="204.00000000000003" y2="93.6" stroke="#444" stroke-width="0.5" />
<line x1="228.35000000000002" y1="92.3" x2="228.35000000000002" y2="94.3" stroke="#333" stroke-width="0.75" />
<text x="227.65000000000003" y="98.0" font-size="3.5" text-anchor="middle" fill="#2e2e2e" font-weight="bold" >10</text>
<text x="229.65000000000003" y="96.2" font-size="2.5" text-anchor="start" fill="#2e2e2e" font-weight="bold" >4</text>
<line x1="226.75000000000003" y1="92.3" x2="226.75000000000003" y2="93.6" stroke="#444" stroke-width="0.5" />
<line x1="225.35000000000002" y1="92.3" x2="225.35000000000002" y2="93.6" stroke="#444" stroke-width="0.5" />
<line x1="224.05" y1="92.3" x2="224.05" y2="93.6" stroke="#444" stroke-width="0.5" />
<line x1="222.85000000000002" y1="92.3" x2="222.85000000000002" y2="93.6" stroke="#444" stroke-width="0.5" />
<line x1="221.75000000000003" y1="92.3" x2="221.75000000000003" y2="93.6" stroke="#444" stroke-width="0.5" />
<line x1="220.75000000000003" y1="92.3" x2="220.75000000000003" y2="93.6" stroke="#444" stroke-width="0.5" />
<line x1="219.85000000000002" y1="92.3" x2="219.85000000000002" y2="93.6" stroke="#444" stroke-width="0.5" />
<line x1="218.95000000000002" y1="92.3" x2="218.95000000000002" y2="93.6" stroke="#444" stroke-width="0.5" />
<line x1="218.15000000000003" y1="92.3" x2="218.15000000000003" y2="93.6" stroke="#444" stroke-width="0.5" />
<line x1="217.35000000000002" y1="92.3" x2="217.35000000000002" y2="93.6" stroke="#444" stroke-width="0.5" />
<line x1="216.65000000000003" y1="92.3" x2="216.65000000000003" y2="93.6" stroke="#444" stroke-width="0.5" />
<line x1="241.0" y1="92.3" x2="241.0" y2="94.3" stroke="#333" stroke-width="0.75" />
<text x="240.3" y="98.0" font-size="3.5" text-anchor="middle" fill="#2e2e2e" font-weight="bold" >10</text>
<text x="242.3" y="96.2" font-size="2.5" text-anchor="start" fill="#2e2e2e" font-weight="bold" >5</text>
<line x1="239.4" y1="92.3" x2="239.4" y2="93.6" stroke="#444" stroke-width="0.5" />
<line x1="242.6" y1="92.3" x2="242.6" y2="93.6" stroke="#444" stroke-width="0.5" />
<line x1="238.0" y1="92.3" x2="238.0" y2="93.6" stroke="#444" stroke-width="0.5" />
<line x1="244.0" y1="92.3" x2="244.0" y2="93.6" stroke="#444" stroke-width="0.5" />
<line x1="236.7" y1="92.3" x2="236.7" y2="93.6" stroke="#444" stroke-width="0.5" />
<line x1="245.3" y1="92.3" x2="245.3" y2="93.6" stroke="#444" stroke-width="0.5" />
<line x1="235.5" y1="92.3" x2="235.5" y2="93.6" stroke="#444" stroke-width="0.5" />
<line x1="246.5" y1="92.3" x2="246.5" y2="93.6" stroke="#444" stroke-width="0.5" />
<line x1="234.4" y1="92.3" x2="234.4" y2="93.6" stroke="#444" stroke-width="0.5" />
<line x1="233.4" y1="92.3" x2="233.4" y2="93.6" stroke="#444" stroke-width="0.5" />
<line x1="232.5" y1="92.3" x2="232.5" y2="93.6" stroke="#444" stroke-width="0.5" />
<line x1="231.6" y1="92.3" x2="231.6" y2="93.6" stroke="#444" stroke-width="0.5" />
<line x1="230.8" y1="92.3" x2="230.8" y2="93.6" stroke="#444" stroke-width="0.5" />
<line x1="230.0" y1="92.3" x2="230.0" y2="93.6" stroke="#444" stroke-width="0.5" />
<line x1="229.3" y1="92.3" x2="229.3" y2="93.6" stroke="#444" stroke-width="0.5" />
<text x="9.2" y="72.0" font-size="8.84" text-anchor="start" fill="#1a1a1a" stroke="#1a1a1a" stroke-width="0.28" textLength="23.6" lengthAdjust="spacingAndGlyphs" transform="rotate(-90 9.2 72.0)" >CD36</text>
<text x="6.2" y="108.2" font-size="8.46" text-anchor="start" fill="#1c1c1c" stroke="#1c1c1c" stroke-width="0.18" textLength="19.4" lengthAdjust="spacingAndGlyphs" >GlyA</text>
<path d="M36.2 104.9 L46.2 104.9 L44.2 101.4 L55.2 105.8 L44.2 110.2 L46.2 106.7 L36.2 106.7 Z" fill="#1a1a1a"/>
<rect x="75.5" y="116.3" width="87.80000000000001" height="73.00000000000001" fill="none" stroke="#5e5e5e" stroke-width="0.85" />
<line x1="73.5" y1="120" x2="75.5" y2="120" stroke="#333" stroke-width="0.7" />
<text x="72.9" y="121.8" font-size="5.0" text-anchor="end" fill="#262626" stroke="#262626" stroke-width="0.15">100</text>
<line x1="74.4" y1="122.88" x2="75.5" y2="122.88" stroke="#444" stroke-width="0.45" />
<line x1="74.4" y1="125.76" x2="75.5" y2="125.76" stroke="#444" stroke-width="0.45" />
<line x1="74.4" y1="128.64" x2="75.5" y2="128.64" stroke="#444" stroke-width="0.45" />
<line x1="74.4" y1="131.52" x2="75.5" y2="131.52" stroke="#444" stroke-width="0.45" />
<line x1="73.5" y1="134.4" x2="75.5" y2="134.4" stroke="#333" stroke-width="0.7" />
<text x="72.9" y="136.20000000000002" font-size="5.0" text-anchor="end" fill="#262626" stroke="#262626" stroke-width="0.15">80</text>
<line x1="74.4" y1="137.28" x2="75.5" y2="137.28" stroke="#444" stroke-width="0.45" />
<line x1="74.4" y1="140.16" x2="75.5" y2="140.16" stroke="#444" stroke-width="0.45" />
<line x1="74.4" y1="143.04000000000002" x2="75.5" y2="143.04000000000002" stroke="#444" stroke-width="0.45" />
<line x1="74.4" y1="145.92000000000002" x2="75.5" y2="145.92000000000002" stroke="#444" stroke-width="0.45" />
<line x1="73.5" y1="148.8" x2="75.5" y2="148.8" stroke="#333" stroke-width="0.7" />
<text x="72.9" y="150.60000000000002" font-size="5.0" text-anchor="end" fill="#262626" stroke="#262626" stroke-width="0.15">60</text>
<line x1="74.4" y1="151.68" x2="75.5" y2="151.68" stroke="#444" stroke-width="0.45" />
<line x1="74.4" y1="154.56" x2="75.5" y2="154.56" stroke="#444" stroke-width="0.45" />
<line x1="74.4" y1="157.44" x2="75.5" y2="157.44" stroke="#444" stroke-width="0.45" />
<line x1="74.4" y1="160.32000000000002" x2="75.5" y2="160.32000000000002" stroke="#444" stroke-width="0.45" />
<line x1="73.5" y1="163.4" x2="75.5" y2="163.4" stroke="#333" stroke-width="0.7" />
<text x="72.9" y="165.20000000000002" font-size="5.0" text-anchor="end" fill="#262626" stroke="#262626" stroke-width="0.15">40</text>
<line x1="74.4" y1="166.28" x2="75.5" y2="166.28" stroke="#444" stroke-width="0.45" />
<line x1="74.4" y1="169.16" x2="75.5" y2="169.16" stroke="#444" stroke-width="0.45" />
<line x1="74.4" y1="172.04000000000002" x2="75.5" y2="172.04000000000002" stroke="#444" stroke-width="0.45" />
<line x1="74.4" y1="174.92000000000002" x2="75.5" y2="174.92000000000002" stroke="#444" stroke-width="0.45" />
<line x1="73.5" y1="177.6" x2="75.5" y2="177.6" stroke="#333" stroke-width="0.7" />
<text x="72.9" y="179.4" font-size="5.0" text-anchor="end" fill="#262626" stroke="#262626" stroke-width="0.15">20</text>
<line x1="74.4" y1="180.48" x2="75.5" y2="180.48" stroke="#444" stroke-width="0.45" />
<line x1="74.4" y1="183.35999999999999" x2="75.5" y2="183.35999999999999" stroke="#444" stroke-width="0.45" />
<line x1="74.4" y1="186.24" x2="75.5" y2="186.24" stroke="#444" stroke-width="0.45" />
<line x1="74.4" y1="189.12" x2="75.5" y2="189.12" stroke="#444" stroke-width="0.45" />
<line x1="73.5" y1="189.3" x2="75.5" y2="189.3" stroke="#333" stroke-width="0.7" />
<text x="72.9" y="191.10000000000002" font-size="5.0" text-anchor="end" fill="#262626" stroke="#262626" stroke-width="0.15">0</text>
<line x1="85" y1="189.3" x2="85" y2="191.10000000000002" stroke="#444" stroke-width="0.6" />
<text x="84.5" y="195.9" font-size="4.1" text-anchor="middle" fill="#2e2e2e" font-weight="bold" >10</text>
<text x="86.9" y="193.70000000000002" font-size="2.8" text-anchor="start" fill="#2e2e2e" font-weight="bold" >1</text>
<line x1="82.4" y1="189.3" x2="82.4" y2="190.4" stroke="#555" stroke-width="0.4" />
<line x1="80.4" y1="189.3" x2="80.4" y2="190.4" stroke="#555" stroke-width="0.4" />
<line x1="78.8" y1="189.3" x2="78.8" y2="190.4" stroke="#555" stroke-width="0.4" />
<line x1="77.4" y1="189.3" x2="77.4" y2="190.4" stroke="#555" stroke-width="0.4" />
<line x1="76.2" y1="189.3" x2="76.2" y2="190.4" stroke="#555" stroke-width="0.4" />
<line x1="102.5" y1="189.3" x2="102.5" y2="191.10000000000002" stroke="#444" stroke-width="0.6" />
<text x="102.0" y="195.9" font-size="4.1" text-anchor="middle" fill="#2e2e2e" font-weight="bold" >10</text>
<text x="104.4" y="193.70000000000002" font-size="2.8" text-anchor="start" fill="#2e2e2e" font-weight="bold" >2</text>
<line x1="99.9" y1="189.3" x2="99.9" y2="190.4" stroke="#555" stroke-width="0.4" />
<line x1="97.9" y1="189.3" x2="97.9" y2="190.4" stroke="#555" stroke-width="0.4" />
<line x1="96.3" y1="189.3" x2="96.3" y2="190.4" stroke="#555" stroke-width="0.4" />
<line x1="94.9" y1="189.3" x2="94.9" y2="190.4" stroke="#555" stroke-width="0.4" />
<line x1="93.7" y1="189.3" x2="93.7" y2="190.4" stroke="#555" stroke-width="0.4" />
<line x1="92.5" y1="189.3" x2="92.5" y2="190.4" stroke="#555" stroke-width="0.4" />
<line x1="91.3" y1="189.3" x2="91.3" y2="190.4" stroke="#555" stroke-width="0.4" />
<line x1="90.1" y1="189.3" x2="90.1" y2="190.4" stroke="#555" stroke-width="0.4" />
<line x1="88.9" y1="189.3" x2="88.9" y2="190.4" stroke="#555" stroke-width="0.4" />
<line x1="87.7" y1="189.3" x2="87.7" y2="190.4" stroke="#555" stroke-width="0.4" />
<line x1="86.5" y1="189.3" x2="86.5" y2="190.4" stroke="#555" stroke-width="0.4" />
<line x1="85.5" y1="189.3" x2="85.5" y2="190.4" stroke="#555" stroke-width="0.4" />
<line x1="120.6" y1="189.3" x2="120.6" y2="191.10000000000002" stroke="#444" stroke-width="0.6" />
<text x="120.1" y="195.9" font-size="4.1" text-anchor="middle" fill="#2e2e2e" font-weight="bold" >10</text>
<text x="122.5" y="193.70000000000002" font-size="2.8" text-anchor="start" fill="#2e2e2e" font-weight="bold" >3</text>
<line x1="118.0" y1="189.3" x2="118.0" y2="190.4" stroke="#555" stroke-width="0.4" />
<line x1="116.0" y1="189.3" x2="116.0" y2="190.4" stroke="#555" stroke-width="0.4" />
<line x1="114.39999999999999" y1="189.3" x2="114.39999999999999" y2="190.4" stroke="#555" stroke-width="0.4" />
<line x1="113.0" y1="189.3" x2="113.0" y2="190.4" stroke="#555" stroke-width="0.4" />
<line x1="111.8" y1="189.3" x2="111.8" y2="190.4" stroke="#555" stroke-width="0.4" />
<line x1="110.6" y1="189.3" x2="110.6" y2="190.4" stroke="#555" stroke-width="0.4" />
<line x1="109.39999999999999" y1="189.3" x2="109.39999999999999" y2="190.4" stroke="#555" stroke-width="0.4" />
<line x1="108.19999999999999" y1="189.3" x2="108.19999999999999" y2="190.4" stroke="#555" stroke-width="0.4" />
<line x1="107.0" y1="189.3" x2="107.0" y2="190.4" stroke="#555" stroke-width="0.4" />
<line x1="105.8" y1="189.3" x2="105.8" y2="190.4" stroke="#555" stroke-width="0.4" />
<line x1="104.6" y1="189.3" x2="104.6" y2="190.4" stroke="#555" stroke-width="0.4" />
<line x1="103.6" y1="189.3" x2="103.6" y2="190.4" stroke="#555" stroke-width="0.4" />
<line x1="138.6" y1="189.3" x2="138.6" y2="191.10000000000002" stroke="#444" stroke-width="0.6" />
<text x="138.1" y="195.9" font-size="4.1" text-anchor="middle" fill="#2e2e2e" font-weight="bold" >10</text>
<text x="140.5" y="193.70000000000002" font-size="2.8" text-anchor="start" fill="#2e2e2e" font-weight="bold" >4</text>
<line x1="136.0" y1="189.3" x2="136.0" y2="190.4" stroke="#555" stroke-width="0.4" />
<line x1="134.0" y1="189.3" x2="134.0" y2="190.4" stroke="#555" stroke-width="0.4" />
<line x1="132.4" y1="189.3" x2="132.4" y2="190.4" stroke="#555" stroke-width="0.4" />
<line x1="131.0" y1="189.3" x2="131.0" y2="190.4" stroke="#555" stroke-width="0.4" />
<line x1="129.79999999999998" y1="189.3" x2="129.79999999999998" y2="190.4" stroke="#555" stroke-width="0.4" />
<line x1="128.6" y1="189.3" x2="128.6" y2="190.4" stroke="#555" stroke-width="0.4" />
<line x1="127.39999999999999" y1="189.3" x2="127.39999999999999" y2="190.4" stroke="#555" stroke-width="0.4" />
<line x1="126.19999999999999" y1="189.3" x2="126.19999999999999" y2="190.4" stroke="#555" stroke-width="0.4" />
<line x1="125.0" y1="189.3" x2="125.0" y2="190.4" stroke="#555" stroke-width="0.4" />
<line x1="123.8" y1="189.3" x2="123.8" y2="190.4" stroke="#555" stroke-width="0.4" />
<line x1="122.6" y1="189.3" x2="122.6" y2="190.4" stroke="#555" stroke-width="0.4" />
<line x1="121.6" y1="189.3" x2="121.6" y2="190.4" stroke="#555" stroke-width="0.4" />
<line x1="156.3" y1="189.3" x2="156.3" y2="191.10000000000002" stroke="#444" stroke-width="0.6" />
<text x="155.8" y="195.9" font-size="4.1" text-anchor="middle" fill="#2e2e2e" font-weight="bold" >10</text>
<text x="158.20000000000002" y="193.70000000000002" font-size="2.8" text-anchor="start" fill="#2e2e2e" font-weight="bold" >5</text>
<line x1="153.70000000000002" y1="189.3" x2="153.70000000000002" y2="190.4" stroke="#555" stroke-width="0.4" />
<line x1="151.70000000000002" y1="189.3" x2="151.70000000000002" y2="190.4" stroke="#555" stroke-width="0.4" />
<line x1="150.10000000000002" y1="189.3" x2="150.10000000000002" y2="190.4" stroke="#555" stroke-width="0.4" />
<line x1="148.70000000000002" y1="189.3" x2="148.70000000000002" y2="190.4" stroke="#555" stroke-width="0.4" />
<line x1="147.5" y1="189.3" x2="147.5" y2="190.4" stroke="#555" stroke-width="0.4" />
<line x1="146.3" y1="189.3" x2="146.3" y2="190.4" stroke="#555" stroke-width="0.4" />
<line x1="145.10000000000002" y1="189.3" x2="145.10000000000002" y2="190.4" stroke="#555" stroke-width="0.4" />
<line x1="143.9" y1="189.3" x2="143.9" y2="190.4" stroke="#555" stroke-width="0.4" />
<line x1="142.70000000000002" y1="189.3" x2="142.70000000000002" y2="190.4" stroke="#555" stroke-width="0.4" />
<line x1="141.5" y1="189.3" x2="141.5" y2="190.4" stroke="#555" stroke-width="0.4" />
<line x1="140.3" y1="189.3" x2="140.3" y2="190.4" stroke="#555" stroke-width="0.4" />
<line x1="139.3" y1="189.3" x2="139.3" y2="190.4" stroke="#555" stroke-width="0.4" />
<path d="M92.5 189.0 L94.5 186.0 L96.5 178.0 L98.5 160.0 L100.0 140.0 L101.2 126.0 L102.0 122.5 L102.8 124.0 L103.8 134.0 L105.0 152.0 L106.5 170.0 L108.0 182.0 L109.5 187.0 L111.0 189.0" fill="none" stroke="#8a8a8a" stroke-width="0.8" stroke-linejoin="round"/>
<path d="M108.5 189.0 L110.0 186.0 L111.5 178.0 L113.0 164.0 L114.3 150.0 L115.2 141.0 L115.8 140.6 L116.6 146.0 L117.4 151.0 L118.2 152.0 L119.2 157.0 L120.5 167.0 L122.0 178.0 L123.5 185.0 L125.0 188.0 L126.5 189.0" fill="none" stroke="#3f9e4d" stroke-width="0.8" stroke-linejoin="round"/>
<path d="M113.5 189.0 L115.5 187.0 L117.0 184.0 L118.3 178.0 L119.3 170.0 L120.2 165.0 L121.0 163.0 L121.8 158.0 L122.8 149.0 L123.8 141.0 L124.6 138.6 L125.4 141.0 L126.4 139.0 L127.4 146.0 L128.6 158.0 L130.0 172.0 L131.5 183.0 L133.0 188.0 L134.0 189.0" fill="none" stroke="#cf4a55" stroke-width="0.8" stroke-linejoin="round"/>
<path d="M118.5 189.0 L120.5 187.0 L122.0 183.0 L123.3 174.0 L124.5 160.0 L125.6 144.0 L126.6 131.0 L127.5 125.7 L128.3 128.0 L129.2 138.0 L130.2 155.0 L131.3 172.0 L132.4 183.0 L133.5 188.0 L134.5 189.0" fill="none" stroke="#2b3a9a" stroke-width="0.8" stroke-linejoin="round"/>
<text x="100.6" y="207.6" font-size="9.21" text-anchor="start" fill="#222" stroke="#222" stroke-width="0.1" textLength="24.9" lengthAdjust="spacingAndGlyphs" >CD59</text>
<line x1="321.8" y1="25.5" x2="321.8" y2="133.4" stroke="#1c1c1c" stroke-width="1.4" />
<line x1="321.1" y1="133.4" x2="459.3" y2="133.4" stroke="#1c1c1c" stroke-width="1.4" />
<line x1="318.5" y1="26.2" x2="321.8" y2="26.2" stroke="#1c1c1c" stroke-width="1.3" />
<text x="317.7" y="25.7" font-size="8" text-anchor="end" fill="#1c1c1c" >0</text>
<text x="312.85200000000003" y="30.9" font-size="11.28" text-anchor="end" fill="#1c1c1c" stroke="#1c1c1c" stroke-width="0.28" textLength="13.35" lengthAdjust="spacingAndGlyphs" >10</text>
<line x1="318.5" y1="61.92999999999999" x2="321.8" y2="61.92999999999999" stroke="#1c1c1c" stroke-width="1.3" />
<text x="317.7" y="61.42999999999999" font-size="8" text-anchor="end" fill="#1c1c1c" >-1</text>
<text x="310.1832" y="66.63" font-size="11.28" text-anchor="end" fill="#1c1c1c" stroke="#1c1c1c" stroke-width="0.28" textLength="13.35" lengthAdjust="spacingAndGlyphs" >10</text>
<line x1="318.5" y1="97.66" x2="321.8" y2="97.66" stroke="#1c1c1c" stroke-width="1.3" />
<text x="317.7" y="97.16" font-size="8" text-anchor="end" fill="#1c1c1c" >-2</text>
<text x="310.1832" y="102.36" font-size="11.28" text-anchor="end" fill="#1c1c1c" stroke="#1c1c1c" stroke-width="0.28" textLength="13.35" lengthAdjust="spacingAndGlyphs" >10</text>
<line x1="318.5" y1="133.39" x2="321.8" y2="133.39" stroke="#1c1c1c" stroke-width="1.3" />
<text x="317.7" y="132.89" font-size="8" text-anchor="end" fill="#1c1c1c" >-3</text>
<text x="310.1832" y="138.08999999999997" font-size="11.28" text-anchor="end" fill="#1c1c1c" stroke="#1c1c1c" stroke-width="0.28" textLength="13.35" lengthAdjust="spacingAndGlyphs" >10</text>
<text x="283.6" y="133.6" font-size="10.81" text-anchor="start" fill="#1c1c1c" stroke="#1c1c1c" stroke-width="0.28" textLength="111.3" lengthAdjust="spacingAndGlyphs" transform="rotate(-90 283.6 133.6)" >Relative PIGM mRNA</text>
<line x1="345.2" y1="104.6" x2="345.2" y2="108.8" stroke="#222" stroke-width="1.15" />
<line x1="338.4" y1="104.6" x2="352.0" y2="104.6" stroke="#222" stroke-width="1.15" />
<rect x="332.3" y="108.8" width="26.30000000000001" height="24.60000000000001" fill="#b2b2b2" stroke="#222" stroke-width="1.2" />
<rect x="378.4" y="62.1" width="25.30000000000001" height="71.30000000000001" fill="#b2b2b2" stroke="#222" stroke-width="1.2" />
<rect x="424" y="87.1" width="25.399999999999977" height="46.30000000000001" fill="#b2b2b2" stroke="#222" stroke-width="1.2" />
<text x="344.6" y="146.2" font-size="11.28" text-anchor="middle" fill="#1c1c1c" stroke="#1c1c1c" stroke-width="0.28" textLength="25.33" lengthAdjust="spacingAndGlyphs" >WT1</text>
<text x="390.4" y="146.2" font-size="11.28" text-anchor="middle" fill="#1c1c1c" stroke="#1c1c1c" stroke-width="0.28" textLength="25.35" lengthAdjust="spacingAndGlyphs" >Het1</text>
<text x="436.5" y="146.2" font-size="11.28" text-anchor="middle" fill="#1c1c1c" stroke="#1c1c1c" stroke-width="0.28" textLength="14.68" lengthAdjust="spacingAndGlyphs" >P1</text>
<line x1="46.0" y1="230.7" x2="46.0" y2="333.5" stroke="#1c1c1c" stroke-width="1.4" />
<line x1="45.3" y1="333.5" x2="203.8" y2="333.5" stroke="#1c1c1c" stroke-width="1.5" />
<line x1="42.8" y1="231.4" x2="46.0" y2="231.4" stroke="#1c1c1c" stroke-width="1.3" />
<text x="42.0" y="231.3" font-size="7.6" text-anchor="end" fill="#1c1c1c" >0</text>
<text x="37.374399999999994" y="235.9" font-size="10.72" text-anchor="end" fill="#1c1c1c" stroke="#1c1c1c" stroke-width="0.28" textLength="12.68" lengthAdjust="spacingAndGlyphs" >10</text>
<line x1="42.8" y1="265.43" x2="46.0" y2="265.43" stroke="#1c1c1c" stroke-width="1.3" />
<text x="42.0" y="265.33" font-size="7.6" text-anchor="end" fill="#1c1c1c" >-1</text>
<text x="34.83904" y="269.93" font-size="10.72" text-anchor="end" fill="#1c1c1c" stroke="#1c1c1c" stroke-width="0.28" textLength="12.68" lengthAdjust="spacingAndGlyphs" >10</text>
<line x1="42.8" y1="299.46000000000004" x2="46.0" y2="299.46000000000004" stroke="#1c1c1c" stroke-width="1.3" />
<text x="42.0" y="299.36" font-size="7.6" text-anchor="end" fill="#1c1c1c" >-2</text>
<text x="34.83904" y="303.96000000000004" font-size="10.72" text-anchor="end" fill="#1c1c1c" stroke="#1c1c1c" stroke-width="0.28" textLength="12.68" lengthAdjust="spacingAndGlyphs" >10</text>
<line x1="42.8" y1="333.49" x2="46.0" y2="333.49" stroke="#1c1c1c" stroke-width="1.3" />
<text x="42.0" y="333.39" font-size="7.6" text-anchor="end" fill="#1c1c1c" >-3</text>
<text x="34.83904" y="337.99" font-size="10.72" text-anchor="end" fill="#1c1c1c" stroke="#1c1c1c" stroke-width="0.28" textLength="12.68" lengthAdjust="spacingAndGlyphs" >10</text>
<text x="13.3" y="331.4" font-size="10.34" text-anchor="start" fill="#1c1c1c" stroke="#1c1c1c" stroke-width="0.28" textLength="106.2" lengthAdjust="spacingAndGlyphs" transform="rotate(-90 13.3 331.4)" >Relative PIGM mRNA</text>
<line x1="76.2" y1="237.6" x2="76.2" y2="247" stroke="#222" stroke-width="1.15" />
<line x1="69.7" y1="237.6" x2="82.7" y2="237.6" stroke="#222" stroke-width="1.15" />
<rect x="63.9" y="247.1" width="24.800000000000004" height="86.4" fill="#dcdcdc" stroke="#222" stroke-width="1.2" />
<line x1="136.3" y1="297.1" x2="136.3" y2="298.8" stroke="#777" stroke-width="1.15" />
<line x1="130.10000000000002" y1="297.1" x2="142.5" y2="297.1" stroke="#777" stroke-width="1.15" />
<rect x="124.4" y="298.8" width="24.299999999999983" height="34.69999999999999" fill="#2b2b2b" stroke="#1a1a1a" stroke-width="1.2" />
<line x1="172.7" y1="257.1" x2="172.7" y2="264.5" stroke="#222" stroke-width="1.15" />
<line x1="166.2" y1="257.1" x2="179.2" y2="257.1" stroke="#222" stroke-width="1.15" />
<rect x="160.6" y="264.6" width="23.900000000000006" height="68.89999999999998" fill="#dcdcdc" stroke="#222" stroke-width="1.2" />
<line x1="154.7" y1="333.5" x2="154.7" y2="335.9" stroke="#1c1c1c" stroke-width="1.1" />
<line x1="76.3" y1="333.5" x2="76.3" y2="335.9" stroke="#1c1c1c" stroke-width="1.1" />
<text x="76.4" y="346.4" font-size="10.15" text-anchor="middle" fill="#1c1c1c" stroke="#1c1c1c" stroke-width="0.28" textLength="22.81" lengthAdjust="spacingAndGlyphs" >Het1</text>
<text x="154.2" y="346.8" font-size="10.15" text-anchor="middle" fill="#1c1c1c" stroke="#1c1c1c" stroke-width="0.28" textLength="13.21" lengthAdjust="spacingAndGlyphs" >P1</text>
<rect x="104.0" y="232.1" width="12.6" height="6.7" fill="#2b2b2b" stroke="#1a1a1a" stroke-width="0.8" />
<rect x="104.0" y="247.1" width="12.6" height="6.7" fill="#dcdcdc" stroke="#2a2a2a" stroke-width="0.9" />
<text x="121.8" y="239.5" font-size="10.53" text-anchor="start" fill="#1c1c1c" stroke="#1c1c1c" stroke-width="0.28" textLength="26.14" lengthAdjust="spacingAndGlyphs" >GPI -</text>
<text x="121.8" y="254.4" font-size="10.53" text-anchor="start" fill="#1c1c1c" stroke="#1c1c1c" stroke-width="0.28" textLength="28.95" lengthAdjust="spacingAndGlyphs" >GPI +</text>
<line x1="314.3" y1="259.8" x2="314.3" y2="372.5" stroke="#1c1c1c" stroke-width="1.4" />
<line x1="313.6" y1="260.5" x2="464.9" y2="260.5" stroke="#1c1c1c" stroke-width="1.4" />
<line x1="351.8" y1="260.5" x2="351.8" y2="263.4" stroke="#1c1c1c" stroke-width="1.3" />
<line x1="389.3" y1="260.5" x2="389.3" y2="263.4" stroke="#1c1c1c" stroke-width="1.3" />
<line x1="426.8" y1="260.5" x2="426.8" y2="263.4" stroke="#1c1c1c" stroke-width="1.3" />
<line x1="464.3" y1="260.5" x2="464.3" y2="263.4" stroke="#1c1c1c" stroke-width="1.3" />
<text x="307.4" y="237.7" font-size="11.84" text-anchor="start" fill="#1c1c1c" stroke="#1c1c1c" stroke-width="0.28" textLength="164.2" lengthAdjust="spacingAndGlyphs" >relative luciferase activity (%)</text>
<text x="314.5" y="250.4" font-size="11.66" text-anchor="middle" fill="#1c1c1c" stroke="#1c1c1c" stroke-width="0.28" textLength="6.9" lengthAdjust="spacingAndGlyphs" >0</text>
<text x="352.0" y="250.4" font-size="11.66" text-anchor="middle" fill="#1c1c1c" stroke="#1c1c1c" stroke-width="0.28" textLength="13.79" lengthAdjust="spacingAndGlyphs" >25</text>
<text x="389.5" y="250.4" font-size="11.66" text-anchor="middle" fill="#1c1c1c" stroke="#1c1c1c" stroke-width="0.28" textLength="13.79" lengthAdjust="spacingAndGlyphs" >50</text>
<text x="427.0" y="250.4" font-size="11.66" text-anchor="middle" fill="#1c1c1c" stroke="#1c1c1c" stroke-width="0.28" textLength="13.79" lengthAdjust="spacingAndGlyphs" >75</text>
<text x="464.5" y="250.4" font-size="11.66" text-anchor="middle" fill="#1c1c1c" stroke="#1c1c1c" stroke-width="0.28" textLength="20.69" lengthAdjust="spacingAndGlyphs" >100</text>
<rect x="314.3" y="267.7" width="150.0" height="10.600000000000023" fill="#999999" stroke="#555" stroke-width="1.15" />
<rect x="314.3" y="283.3" width="122.10000000000001" height="10.199999999999989" fill="#fff" stroke="#2a2a2a" stroke-width="1.15" />
<rect x="314.3" y="298.9" width="3.4499999999999997" height="9.800000000000011" fill="#2b2b2b" stroke="#1a1a1a" stroke-width="1.15" />
<rect x="314.3" y="324.7" width="150.0" height="10.199999999999989" fill="#999999" stroke="#555" stroke-width="1.15" />
<rect x="314.3" y="340.2" width="137.10000000000002" height="9.900000000000034" fill="#fff" stroke="#2a2a2a" stroke-width="1.15" />
<rect x="314.3" y="355.2" width="14.399999999999999" height="10.199999999999989" fill="#2b2b2b" stroke="#1a1a1a" stroke-width="1.15" />
<line x1="310.2" y1="288.4" x2="314.3" y2="288.4" stroke="#1c1c1c" stroke-width="1.3" />
<line x1="310.2" y1="345.1" x2="314.3" y2="345.1" stroke="#1c1c1c" stroke-width="1.3" />
<text x="308.8" y="292.3" font-size="11.84" text-anchor="end" fill="#1c1c1c" stroke="#1c1c1c" stroke-width="0.28" textLength="32.22" lengthAdjust="spacingAndGlyphs" >Exp 1</text>
<text x="308.8" y="349.2" font-size="11.84" text-anchor="end" fill="#1c1c1c" stroke="#1c1c1c" stroke-width="0.28" textLength="32.22" lengthAdjust="spacingAndGlyphs" >Exp 2</text>
<rect x="465.7" y="283.3" width="13.9" height="7.5" fill="#999999" stroke="#444" stroke-width="0.9" />
<rect x="465.7" y="298.8" width="13.9" height="7.5" fill="#fff" stroke="#2a2a2a" stroke-width="0.9" />
<rect x="465.7" y="313.3" width="13.9" height="7.5" fill="#2b2b2b" stroke="#1a1a1a" stroke-width="0.9" />
<text x="486.2" y="291.2" font-size="11.47" text-anchor="start" fill="#1c1c1c" stroke="#1c1c1c" stroke-width="0.28" textLength="18.97" lengthAdjust="spacingAndGlyphs" >WT</text>
<text x="486.2" y="306.1" font-size="11.47" text-anchor="start" fill="#1c1c1c" stroke="#1c1c1c" stroke-width="0.28" textLength="20.34" lengthAdjust="spacingAndGlyphs" >Mut</text>
<text x="486.2" y="320.7" font-size="11.47" text-anchor="start" fill="#1c1c1c" stroke="#1c1c1c" stroke-width="0.28" textLength="29.85" lengthAdjust="spacingAndGlyphs" >pGL3</text>
<line x1="56.7" y1="399.8" x2="56.7" y2="558.3" stroke="#1c1c1c" stroke-width="1.4" />
<line x1="56.0" y1="558.3" x2="330.5" y2="558.3" stroke="#1c1c1c" stroke-width="1.4" />
<line x1="53.5" y1="558.5999999999999" x2="56.7" y2="558.5999999999999" stroke="#1c1c1c" stroke-width="1.3" />
<text x="52.800000000000004" y="562.8" font-size="10.72" text-anchor="end" fill="#1c1c1c" stroke="#1c1c1c" stroke-width="0.28" textLength="16.3" lengthAdjust="spacingAndGlyphs" >0.0</text>
<line x1="53.5" y1="536.05" x2="56.7" y2="536.05" stroke="#1c1c1c" stroke-width="1.3" />
<text x="52.800000000000004" y="540.25" font-size="10.72" text-anchor="end" fill="#1c1c1c" stroke="#1c1c1c" stroke-width="0.28" textLength="16.3" lengthAdjust="spacingAndGlyphs" >0.2</text>
<line x1="53.5" y1="513.4999999999999" x2="56.7" y2="513.4999999999999" stroke="#1c1c1c" stroke-width="1.3" />
<text x="52.800000000000004" y="517.6999999999999" font-size="10.72" text-anchor="end" fill="#1c1c1c" stroke="#1c1c1c" stroke-width="0.28" textLength="16.3" lengthAdjust="spacingAndGlyphs" >0.4</text>
<line x1="53.5" y1="490.95" x2="56.7" y2="490.95" stroke="#1c1c1c" stroke-width="1.3" />
<text x="52.800000000000004" y="495.15" font-size="10.72" text-anchor="end" fill="#1c1c1c" stroke="#1c1c1c" stroke-width="0.28" textLength="16.3" lengthAdjust="spacingAndGlyphs" >0.6</text>
<line x1="53.5" y1="468.4" x2="56.7" y2="468.4" stroke="#1c1c1c" stroke-width="1.3" />
<text x="52.800000000000004" y="472.59999999999997" font-size="10.72" text-anchor="end" fill="#1c1c1c" stroke="#1c1c1c" stroke-width="0.28" textLength="16.3" lengthAdjust="spacingAndGlyphs" >0.8</text>
<line x1="53.5" y1="445.84999999999997" x2="56.7" y2="445.84999999999997" stroke="#1c1c1c" stroke-width="1.3" />
<text x="52.800000000000004" y="450.04999999999995" font-size="10.72" text-anchor="end" fill="#1c1c1c" stroke="#1c1c1c" stroke-width="0.28" textLength="16.3" lengthAdjust="spacingAndGlyphs" >1.0</text>
<line x1="53.5" y1="423.29999999999995" x2="56.7" y2="423.29999999999995" stroke="#1c1c1c" stroke-width="1.3" />
<text x="52.800000000000004" y="427.49999999999994" font-size="10.72" text-anchor="end" fill="#1c1c1c" stroke="#1c1c1c" stroke-width="0.28" textLength="16.3" lengthAdjust="spacingAndGlyphs" >1.2</text>
<line x1="53.5" y1="400.74999999999994" x2="56.7" y2="400.74999999999994" stroke="#1c1c1c" stroke-width="1.3" />
<text x="52.800000000000004" y="404.94999999999993" font-size="10.72" text-anchor="end" fill="#1c1c1c" stroke="#1c1c1c" stroke-width="0.28" textLength="16.3" lengthAdjust="spacingAndGlyphs" >1.4</text>
<text x="26.8" y="524.2" font-size="10.34" text-anchor="start" fill="#1c1c1c" stroke="#1c1c1c" stroke-width="0.28" textLength="92.8" lengthAdjust="spacingAndGlyphs" transform="rotate(-90 26.8 524.2)" >Relative protection</text>
<line x1="67.2" y1="478" x2="67.2" y2="501.5" stroke="#a4a4a4" stroke-width="1.0" />
<line x1="62.800000000000004" y1="478" x2="71.60000000000001" y2="478" stroke="#a4a4a4" stroke-width="1.0" />
<line x1="88.25" y1="485.6" x2="88.25" y2="501.5" stroke="#a4a4a4" stroke-width="1.0" />
<line x1="83.85" y1="485.6" x2="92.65" y2="485.6" stroke="#a4a4a4" stroke-width="1.0" />
<line x1="109.3" y1="420.5" x2="109.3" y2="453.8" stroke="#a4a4a4" stroke-width="1.0" />
<line x1="104.89999999999999" y1="420.5" x2="113.7" y2="420.5" stroke="#a4a4a4" stroke-width="1.0" />
<line x1="130.35" y1="454.3" x2="130.35" y2="483" stroke="#a4a4a4" stroke-width="1.0" />
<line x1="125.94999999999999" y1="454.3" x2="134.75" y2="454.3" stroke="#a4a4a4" stroke-width="1.0" />
<line x1="151.4" y1="459.5" x2="151.4" y2="487.5" stroke="#a4a4a4" stroke-width="1.0" />
<line x1="147.0" y1="459.5" x2="155.8" y2="459.5" stroke="#a4a4a4" stroke-width="1.0" />
<line x1="172.45" y1="478.3" x2="172.45" y2="503.2" stroke="#a4a4a4" stroke-width="1.0" />
<line x1="168.04999999999998" y1="478.3" x2="176.85" y2="478.3" stroke="#a4a4a4" stroke-width="1.0" />
<line x1="193.5" y1="488.3" x2="193.5" y2="505" stroke="#a4a4a4" stroke-width="1.0" />
<line x1="189.1" y1="488.3" x2="197.9" y2="488.3" stroke="#a4a4a4" stroke-width="1.0" />
<line x1="214.55" y1="494.4" x2="214.55" y2="512.2" stroke="#a4a4a4" stroke-width="1.0" />
<line x1="210.15" y1="494.4" x2="218.95000000000002" y2="494.4" stroke="#a4a4a4" stroke-width="1.0" />
<line x1="235.6" y1="428.9" x2="235.6" y2="469.2" stroke="#a4a4a4" stroke-width="1.0" />
<line x1="231.2" y1="428.9" x2="240.0" y2="428.9" stroke="#a4a4a4" stroke-width="1.0" />
<line x1="256.65" y1="464.7" x2="256.65" y2="490" stroke="#a4a4a4" stroke-width="1.0" />
<line x1="252.24999999999997" y1="464.7" x2="261.04999999999995" y2="464.7" stroke="#a4a4a4" stroke-width="1.0" />
<line x1="277.7" y1="450.9" x2="277.7" y2="477.9" stroke="#a4a4a4" stroke-width="1.0" />
<line x1="273.3" y1="450.9" x2="282.09999999999997" y2="450.9" stroke="#a4a4a4" stroke-width="1.0" />
<line x1="67.2" y1="513.3" x2="67.2" y2="534.7" stroke="#808080" stroke-width="1.0" />
<line x1="62.800000000000004" y1="513.3" x2="71.60000000000001" y2="513.3" stroke="#808080" stroke-width="1.0" />
<line x1="88.25" y1="524.6" x2="88.25" y2="537.2" stroke="#808080" stroke-width="1.0" />
<line x1="83.85" y1="524.6" x2="92.65" y2="524.6" stroke="#808080" stroke-width="1.0" />
<line x1="109.3" y1="464.5" x2="109.3" y2="504.6" stroke="#808080" stroke-width="1.0" />
<line x1="104.89999999999999" y1="464.5" x2="113.7" y2="464.5" stroke="#808080" stroke-width="1.0" />
<line x1="130.35" y1="511.4" x2="130.35" y2="533.5" stroke="#808080" stroke-width="1.0" />
<line x1="125.94999999999999" y1="511.4" x2="134.75" y2="511.4" stroke="#808080" stroke-width="1.0" />
<line x1="151.4" y1="524.1" x2="151.4" y2="539.2" stroke="#808080" stroke-width="1.0" />
<line x1="147.0" y1="524.1" x2="155.8" y2="524.1" stroke="#808080" stroke-width="1.0" />
<line x1="172.45" y1="541.3" x2="172.45" y2="549.8" stroke="#808080" stroke-width="1.0" />
<line x1="168.04999999999998" y1="541.3" x2="176.85" y2="541.3" stroke="#808080" stroke-width="1.0" />
<line x1="193.5" y1="538" x2="193.5" y2="547.6" stroke="#808080" stroke-width="1.0" />
<line x1="189.1" y1="538" x2="197.9" y2="538" stroke="#808080" stroke-width="1.0" />
<line x1="214.55" y1="534.8" x2="214.55" y2="545.2" stroke="#808080" stroke-width="1.0" />
<line x1="210.15" y1="534.8" x2="218.95000000000002" y2="534.8" stroke="#808080" stroke-width="1.0" />
<line x1="235.6" y1="512.2" x2="235.6" y2="526.2" stroke="#808080" stroke-width="1.0" />
<line x1="231.2" y1="512.2" x2="240.0" y2="512.2" stroke="#808080" stroke-width="1.0" />
<line x1="256.65" y1="509.2" x2="256.65" y2="529.4" stroke="#808080" stroke-width="1.0" />
<line x1="252.24999999999997" y1="509.2" x2="261.04999999999995" y2="509.2" stroke="#808080" stroke-width="1.0" />
<line x1="277.7" y1="518.1" x2="277.7" y2="527.8" stroke="#808080" stroke-width="1.0" />
<line x1="273.3" y1="518.1" x2="282.09999999999997" y2="518.1" stroke="#808080" stroke-width="1.0" />
<polyline fill="none" stroke="#2a2a2a" stroke-width="1.7" stroke-dasharray="1.8 3" points="67.2,550.1 88.25,550.6 109.3,538.6 130.35,547.6 151.4,549.8 172.45,555.6 193.5,553.6 214.55,550 235.6,528.5 256.65,543.7 277.7,547.2"/>
<polyline fill="none" stroke="#a9a9a9" stroke-width="2.0" stroke-linejoin="round" points="67.2,534.7 88.25,537.2 109.3,504.6 130.35,533.5 151.4,539.2 172.45,549.8 193.5,547.6 214.55,545.2 235.6,526.2 256.65,529.4 277.7,527.8"/>
<polyline fill="none" stroke="#161616" stroke-width="2.4" stroke-linejoin="round" points="67.2,501.5 88.25,501.5 109.3,453.8 130.35,483 151.4,487.5 172.45,503.2 193.5,505 214.55,512.2 235.6,469.2 256.65,490 277.7,477.9"/>
<path d="M67.2 546.6 L70.7 552.725 L63.7 552.725 Z" fill="#222"/>
<path d="M88.25 547.1 L91.75 553.225 L84.75 553.225 Z" fill="#222"/>
<path d="M109.3 535.1 L112.8 541.225 L105.8 541.225 Z" fill="#222"/>
<path d="M130.35 544.1 L133.85 550.225 L126.85 550.225 Z" fill="#222"/>
<path d="M151.4 546.3 L154.9 552.425 L147.9 552.425 Z" fill="#222"/>
<path d="M172.45 552.1 L175.95 558.225 L168.95 558.225 Z" fill="#222"/>
<path d="M193.5 550.1 L197.0 556.225 L190.0 556.225 Z" fill="#222"/>
<path d="M214.55 546.5 L218.05 552.625 L211.05 552.625 Z" fill="#222"/>
<path d="M235.6 525.0 L239.1 531.125 L232.1 531.125 Z" fill="#222"/>
<path d="M256.65 540.2 L260.15 546.325 L253.14999999999998 546.325 Z" fill="#222"/>
<path d="M277.7 543.7 L281.2 549.825 L274.2 549.825 Z" fill="#222"/>
<rect x="64.05" y="531.5500000000001" width="6.3" height="6.3" fill="#2b2b2b"/>
<rect x="85.1" y="534.0500000000001" width="6.3" height="6.3" fill="#2b2b2b"/>
<rect x="106.14999999999999" y="501.45000000000005" width="6.3" height="6.3" fill="#2b2b2b"/>
<rect x="127.19999999999999" y="530.35" width="6.3" height="6.3" fill="#2b2b2b"/>
<rect x="148.25" y="536.0500000000001" width="6.3" height="6.3" fill="#2b2b2b"/>
<rect x="169.29999999999998" y="546.65" width="6.3" height="6.3" fill="#2b2b2b"/>
<rect x="190.35" y="544.45" width="6.3" height="6.3" fill="#2b2b2b"/>
<rect x="211.4" y="542.0500000000001" width="6.3" height="6.3" fill="#2b2b2b"/>
<rect x="232.45" y="523.0500000000001" width="6.3" height="6.3" fill="#2b2b2b"/>
<rect x="253.49999999999997" y="526.25" width="6.3" height="6.3" fill="#2b2b2b"/>
<rect x="274.55" y="524.65" width="6.3" height="6.3" fill="#2b2b2b"/>
<circle cx="67.2" cy="501.5" r="3.15" fill="#fff" stroke="#161616" stroke-width="2.1"/>
<circle cx="88.25" cy="501.5" r="3.15" fill="#fff" stroke="#161616" stroke-width="2.1"/>
<circle cx="109.3" cy="453.8" r="3.15" fill="#fff" stroke="#161616" stroke-width="2.1"/>
<circle cx="130.35" cy="483" r="3.15" fill="#fff" stroke="#161616" stroke-width="2.1"/>
<circle cx="151.4" cy="487.5" r="3.15" fill="#fff" stroke="#161616" stroke-width="2.1"/>
<circle cx="172.45" cy="503.2" r="3.15" fill="#fff" stroke="#161616" stroke-width="2.1"/>
<circle cx="193.5" cy="505" r="3.15" fill="#fff" stroke="#161616" stroke-width="2.1"/>
<circle cx="214.55" cy="512.2" r="3.15" fill="#fff" stroke="#161616" stroke-width="2.1"/>
<circle cx="235.6" cy="469.2" r="3.15" fill="#fff" stroke="#161616" stroke-width="2.1"/>
<circle cx="256.65" cy="490" r="3.15" fill="#fff" stroke="#161616" stroke-width="2.1"/>
<circle cx="277.7" cy="477.9" r="3.15" fill="#fff" stroke="#161616" stroke-width="2.1"/>
<circle cx="320.6" cy="530.2" r="3.15" fill="#fff" stroke="#161616" stroke-width="2.1"/>
<rect x="317.45000000000005" y="541.35" width="6.3" height="6.3" fill="#2b2b2b"/>
<path d="M320.6 551.7 L324.1 557.825 L317.1 557.825 Z" fill="#222"/>
<line x1="67.2" y1="558.3" x2="67.2" y2="561.1999999999999" stroke="#1c1c1c" stroke-width="1.2" />
<text x="67.2" y="572.4" font-size="11.09" text-anchor="middle" fill="#1c1c1c" stroke="#1c1c1c" stroke-width="0.28" textLength="2.62" lengthAdjust="spacingAndGlyphs" >i</text>
<line x1="88.25" y1="558.3" x2="88.25" y2="561.1999999999999" stroke="#1c1c1c" stroke-width="1.2" />
<text x="88.25" y="572.4" font-size="11.09" text-anchor="middle" fill="#1c1c1c" stroke="#1c1c1c" stroke-width="0.28" textLength="6.56" lengthAdjust="spacingAndGlyphs" >h</text>
<line x1="109.3" y1="558.3" x2="109.3" y2="561.1999999999999" stroke="#1c1c1c" stroke-width="1.2" />
<text x="109.3" y="572.4" font-size="11.09" text-anchor="middle" fill="#1c1c1c" stroke="#1c1c1c" stroke-width="0.28" textLength="6.56" lengthAdjust="spacingAndGlyphs" >g</text>
<line x1="130.35" y1="558.3" x2="130.35" y2="561.1999999999999" stroke="#1c1c1c" stroke-width="1.2" />
<text x="130.35" y="572.4" font-size="11.09" text-anchor="middle" fill="#1c1c1c" stroke="#1c1c1c" stroke-width="0.28" textLength="3.28" lengthAdjust="spacingAndGlyphs" >f</text>
<line x1="151.4" y1="558.3" x2="151.4" y2="561.1999999999999" stroke="#1c1c1c" stroke-width="1.2" />
<text x="151.4" y="572.4" font-size="11.09" text-anchor="middle" fill="#1c1c1c" stroke="#1c1c1c" stroke-width="0.28" textLength="6.56" lengthAdjust="spacingAndGlyphs" >e</text>
<line x1="172.45" y1="558.3" x2="172.45" y2="561.1999999999999" stroke="#1c1c1c" stroke-width="1.2" />
<text x="172.45" y="572.4" font-size="11.09" text-anchor="middle" fill="#1c1c1c" stroke="#1c1c1c" stroke-width="0.28" textLength="6.56" lengthAdjust="spacingAndGlyphs" >d</text>
<line x1="193.5" y1="558.3" x2="193.5" y2="561.1999999999999" stroke="#1c1c1c" stroke-width="1.2" />
<text x="193.5" y="572.4" font-size="11.09" text-anchor="middle" fill="#1c1c1c" stroke="#1c1c1c" stroke-width="0.28" textLength="5.9" lengthAdjust="spacingAndGlyphs" >c</text>
<line x1="214.55" y1="558.3" x2="214.55" y2="561.1999999999999" stroke="#1c1c1c" stroke-width="1.2" />
<text x="214.55" y="572.4" font-size="11.09" text-anchor="middle" fill="#1c1c1c" stroke="#1c1c1c" stroke-width="0.28" textLength="6.56" lengthAdjust="spacingAndGlyphs" >b</text>
<line x1="235.6" y1="558.3" x2="235.6" y2="561.1999999999999" stroke="#1c1c1c" stroke-width="1.2" />
<text x="235.6" y="572.4" font-size="11.09" text-anchor="middle" fill="#1c1c1c" stroke="#1c1c1c" stroke-width="0.28" textLength="6.56" lengthAdjust="spacingAndGlyphs" >a</text>
<line x1="256.65" y1="558.3" x2="256.65" y2="561.1999999999999" stroke="#1c1c1c" stroke-width="1.2" />
<text x="256.65" y="572.4" font-size="11.09" text-anchor="middle" fill="#1c1c1c" stroke="#1c1c1c" stroke-width="0.28" textLength="6.56" lengthAdjust="spacingAndGlyphs" >1</text>
<line x1="277.7" y1="558.3" x2="277.7" y2="561.1999999999999" stroke="#1c1c1c" stroke-width="1.2" />
<text x="277.7" y="572.4" font-size="11.09" text-anchor="middle" fill="#1c1c1c" stroke="#1c1c1c" stroke-width="0.28" textLength="6.56" lengthAdjust="spacingAndGlyphs" >2</text>
<line x1="320.6" y1="558.3" x2="320.6" y2="561.1999999999999" stroke="#1c1c1c" stroke-width="1.2" />
<text x="298.6" y="572.0" font-size="11.28" text-anchor="start" fill="#1c1c1c" stroke="#1c1c1c" stroke-width="0.28" textLength="43" lengthAdjust="spacingAndGlyphs" >GAPDH</text>
<circle cx="259.9" cy="410.4" r="2.7" fill="#fff" stroke="#161616" stroke-width="2.1"/>
<line x1="252.4" y1="410.4" x2="267.2" y2="410.4" stroke="#161616" stroke-width="2.0" />
<line x1="252.4" y1="425.2" x2="267.2" y2="425.2" stroke="#b4b4b4" stroke-width="1.7" />
<rect x="256.75" y="422.05" width="6.3" height="6.3" fill="#2b2b2b"/>
<line x1="252.9" y1="441.9" x2="255.5" y2="441.9" stroke="#555" stroke-width="1.4" />
<line x1="264.0" y1="441.9" x2="266.2" y2="441.9" stroke="#555" stroke-width="1.4" />
<path d="M259.9 438.1 L263.4 444.225 L256.4 444.225 Z" fill="#222"/>
<text x="272.2" y="414.7" font-size="11.37" text-anchor="start" fill="#1c1c1c" stroke="#1c1c1c" stroke-width="0.28" textLength="52.6" lengthAdjust="spacingAndGlyphs" >WT LBCL</text>
<text x="272.2" y="429.7" font-size="11.47" text-anchor="start" fill="#1c1c1c" stroke="#1c1c1c" stroke-width="0.28" textLength="28.49" lengthAdjust="spacingAndGlyphs" >K562</text>
<text x="272.2" y="445.7" font-size="11.47" text-anchor="start" fill="#1c1c1c" stroke="#1c1c1c" stroke-width="0.28" textLength="29.17" lengthAdjust="spacingAndGlyphs" >HeLa</text>
<line x1="29.7" y1="593" x2="249" y2="593" stroke="#3a3a3a" stroke-width="1.3" />
<rect x="180.9" y="587.6" width="3.2" height="14.2" fill="#8a8a8a" stroke="none" stroke-width="0" />
<path d="M207.3 593 V584.6 H219" fill="none" stroke="#2a2a2a" stroke-width="0.9"/>
<path d="M216 582.4 L219.4 584.6 L216 586.8" fill="none" stroke="#2a2a2a" stroke-width="0.9"/>
<rect x="248.5" y="588.3" width="92" height="9.7" fill="#262626" stroke="none" stroke-width="0" />
<text x="284.4" y="597.4" font-size="11.19" text-anchor="start" fill="#f4f4f4" stroke="#f4f4f4" stroke-width="0.28" textLength="30.2" lengthAdjust="spacingAndGlyphs" >PIGM</text>
<line x1="320.3" y1="606.6" x2="340.8" y2="581.9" stroke="#444" stroke-width="0.8" />
<line x1="324.6" y1="606.6" x2="344.4" y2="581.9" stroke="#444" stroke-width="0.8" />
<line x1="51.1" y1="604.7" x2="97" y2="604.7" stroke="#6a6a6a" stroke-width="1.3" />
<line x1="100" y1="604.7" x2="146" y2="604.7" stroke="#6a6a6a" stroke-width="1.3" />
<line x1="149.2" y1="604.7" x2="194" y2="604.7" stroke="#6a6a6a" stroke-width="1.3" />
<line x1="198.3" y1="604.7" x2="244.4" y2="604.7" stroke="#6a6a6a" stroke-width="1.3" />
<line x1="247.9" y1="604.7" x2="292.8" y2="604.7" stroke="#6a6a6a" stroke-width="1.3" />
<line x1="29.7" y1="611.9" x2="75.1" y2="611.9" stroke="#6a6a6a" stroke-width="1.3" />
<line x1="78.6" y1="611.9" x2="124.2" y2="611.9" stroke="#6a6a6a" stroke-width="1.3" />
<line x1="127.3" y1="611.9" x2="173.6" y2="611.9" stroke="#6a6a6a" stroke-width="1.3" />
<line x1="176.9" y1="611.9" x2="221.5" y2="611.9" stroke="#6a6a6a" stroke-width="1.3" />
<line x1="225.6" y1="611.9" x2="270.5" y2="611.9" stroke="#6a6a6a" stroke-width="1.3" />
<line x1="274.9" y1="611.9" x2="320.4" y2="611.9" stroke="#6a6a6a" stroke-width="1.3" />
<text x="303.0" y="624.0" font-size="9.4" text-anchor="start" fill="#1c1c1c" stroke="#1c1c1c" stroke-width="0.08" textLength="27.2" lengthAdjust="spacingAndGlyphs" >100bp</text>
<line x1="292.4" y1="629.3" x2="340.8" y2="629.3" stroke="#333" stroke-width="1.0" />
<line x1="386.9" y1="407.6" x2="386.9" y2="533.3" stroke="#1c1c1c" stroke-width="1.35" />
<line x1="386.25" y1="533.3" x2="520" y2="533.3" stroke="#1c1c1c" stroke-width="1.45" />
<line x1="383.9" y1="533.3" x2="386.9" y2="533.3" stroke="#1c1c1c" stroke-width="1.0" />
<text x="383.7" y="536.6999999999999" font-size="9.21" text-anchor="end" fill="#1c1c1c" stroke="#1c1c1c" stroke-width="0.12" textLength="24.4" lengthAdjust="spacingAndGlyphs" >0.000</text>
<line x1="383.9" y1="508.24999999999994" x2="386.9" y2="508.24999999999994" stroke="#1c1c1c" stroke-width="1.0" />
<text x="383.7" y="511.6499999999999" font-size="9.21" text-anchor="end" fill="#1c1c1c" stroke="#1c1c1c" stroke-width="0.12" textLength="24.4" lengthAdjust="spacingAndGlyphs" >0.001</text>
<line x1="383.9" y1="483.19999999999993" x2="386.9" y2="483.19999999999993" stroke="#1c1c1c" stroke-width="1.0" />
<text x="383.7" y="486.5999999999999" font-size="9.21" text-anchor="end" fill="#1c1c1c" stroke="#1c1c1c" stroke-width="0.12" textLength="24.4" lengthAdjust="spacingAndGlyphs" >0.002</text>
<line x1="383.9" y1="458.15" x2="386.9" y2="458.15" stroke="#1c1c1c" stroke-width="1.0" />
<text x="383.7" y="461.54999999999995" font-size="9.21" text-anchor="end" fill="#1c1c1c" stroke="#1c1c1c" stroke-width="0.12" textLength="24.4" lengthAdjust="spacingAndGlyphs" >0.003</text>
<line x1="383.9" y1="433.09999999999997" x2="386.9" y2="433.09999999999997" stroke="#1c1c1c" stroke-width="1.0" />
<text x="383.7" y="436.49999999999994" font-size="9.21" text-anchor="end" fill="#1c1c1c" stroke="#1c1c1c" stroke-width="0.12" textLength="24.4" lengthAdjust="spacingAndGlyphs" >0.004</text>
<line x1="383.9" y1="408.04999999999995" x2="386.9" y2="408.04999999999995" stroke="#1c1c1c" stroke-width="1.0" />
<text x="383.7" y="411.44999999999993" font-size="9.21" text-anchor="end" fill="#1c1c1c" stroke="#1c1c1c" stroke-width="0.12" textLength="24.4" lengthAdjust="spacingAndGlyphs" >0.005</text>
<text x="352.0" y="513.8" font-size="9.7" text-anchor="start" fill="#1c1c1c" stroke="#1c1c1c" stroke-width="0.12" textLength="88.6" lengthAdjust="spacingAndGlyphs" transform="rotate(-90 352.0 513.8)" >Relative PIGM mRNA</text>
<line x1="403.3" y1="428.3" x2="403.3" y2="446.2" stroke="#222" stroke-width="1.15" />
<line x1="398.0" y1="428.3" x2="408.6" y2="428.3" stroke="#222" stroke-width="1.15" />
<rect x="392.3" y="446.3" width="22.19999999999999" height="86.99999999999994" fill="#7f7f7f" stroke="#222" stroke-width="1.2" />
<line x1="436.6" y1="482.5" x2="436.6" y2="489.5" stroke="#222" stroke-width="1.15" />
<line x1="431.3" y1="482.5" x2="441.90000000000003" y2="482.5" stroke="#222" stroke-width="1.15" />
<rect x="425.6" y="489.6" width="22.0" height="43.69999999999993" fill="#7f7f7f" stroke="#222" stroke-width="1.2" />
<line x1="469.4" y1="501.7" x2="469.4" y2="507.5" stroke="#222" stroke-width="1.15" />
<line x1="464.09999999999997" y1="501.7" x2="474.7" y2="501.7" stroke="#222" stroke-width="1.15" />
<rect x="457.8" y="507.6" width="23.19999999999999" height="25.699999999999932" fill="#7f7f7f" stroke="#222" stroke-width="1.2" />
<line x1="502" y1="521.6" x2="502" y2="522.2" stroke="#222" stroke-width="1.15" />
<line x1="496.7" y1="521.6" x2="507.3" y2="521.6" stroke="#222" stroke-width="1.15" />
<rect x="490.8" y="522.2" width="22.499999999999943" height="11.099999999999909" fill="#7f7f7f" stroke="#222" stroke-width="1.2" />
<line x1="403.5" y1="533.3" x2="403.5" y2="535.9" stroke="#1c1c1c" stroke-width="1.0" />
<text x="405.9" y="541.5999999999999" font-size="9.68" text-anchor="end" fill="#1c1c1c" stroke="#1c1c1c" stroke-width="0.28" textLength="24.06" lengthAdjust="spacingAndGlyphs" transform="rotate(-45 405.9 541.5999999999999)" >K562</text>
<line x1="436.4" y1="533.3" x2="436.4" y2="535.9" stroke="#1c1c1c" stroke-width="1.0" />
<text x="438.79999999999995" y="541.5999999999999" font-size="9.68" text-anchor="end" fill="#1c1c1c" stroke="#1c1c1c" stroke-width="0.28" textLength="24.62" lengthAdjust="spacingAndGlyphs" transform="rotate(-45 438.79999999999995 541.5999999999999)" >HeLa</text>
<line x1="469.5" y1="533.3" x2="469.5" y2="535.9" stroke="#1c1c1c" stroke-width="1.0" />
<text x="471.9" y="541.5999999999999" font-size="10.3" text-anchor="end" fill="#1c1c1c" stroke="#1c1c1c" stroke-width="0.28" transform="rotate(-45 471.9 541.5999999999999)" >LBCL<tspan dx="1.2">1</tspan></text>
<line x1="502" y1="533.3" x2="502" y2="535.9" stroke="#1c1c1c" stroke-width="1.0" />
<text x="504.4" y="541.5999999999999" font-size="10.3" text-anchor="end" fill="#1c1c1c" stroke="#1c1c1c" stroke-width="0.28" transform="rotate(-45 504.4 541.5999999999999)" >LBCL<tspan dx="1.2">2</tspan></text>
</g>
</svg>
</body></html>
